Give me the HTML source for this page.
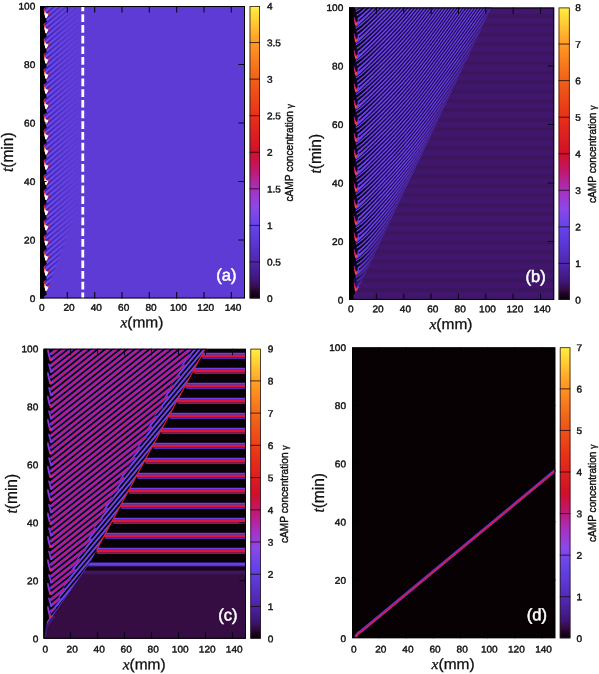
<!DOCTYPE html>
<html><head><meta charset="utf-8"><title>cAMP concentration space-time plots</title>
<style>
html,body{margin:0;padding:0;background:#fff}
svg{display:block}
text{font-family:"Liberation Sans", Arial, sans-serif;fill:#111;stroke:#111;stroke-width:0.4px}
.tk{font-size:9.6px}
.ax{font-size:15.5px;stroke-width:0.3px}
.it{font-family:"Liberation Serif", "Times New Roman", serif;font-style:italic}
.lt{font-size:16.5px;fill:#fff;stroke:#fff;stroke-width:0.5px}
.cl{font-size:10.8px}
.gm{font-size:9px}
.ax2{font-size:16px;stroke-width:0.3px}
</style></head><body>
<svg width="599" height="674" viewBox="0 0 599 674">
<defs>
<linearGradient id="cb" x1="0" y1="1" x2="0" y2="0"><stop offset="0.00%" stop-color="#060008"/><stop offset="2.00%" stop-color="#1c0424"/><stop offset="3.50%" stop-color="#340a42"/><stop offset="6.25%" stop-color="#3e1678"/><stop offset="12.50%" stop-color="#4e26ac"/><stop offset="18.75%" stop-color="#5a36d2"/><stop offset="25.00%" stop-color="#6444ea"/><stop offset="31.25%" stop-color="#8c48e8"/><stop offset="37.50%" stop-color="#a830c0"/><stop offset="43.75%" stop-color="#c01870"/><stop offset="50.00%" stop-color="#d01028"/><stop offset="62.50%" stop-color="#e83018"/><stop offset="75.00%" stop-color="#f06018"/><stop offset="87.50%" stop-color="#ff9a25"/><stop offset="100.00%" stop-color="#fff040"/></linearGradient>
<clipPath id="cpa"><rect x="40.00" y="6.00" width="205.00" height="292.50"/></clipPath>
<filter id="bl" x="-5%" y="-5%" width="110%" height="110%"><feGaussianBlur stdDeviation="0.45"/></filter>
<filter id="bl2" x="-5%" y="-5%" width="110%" height="110%"><feGaussianBlur stdDeviation="0.7"/></filter>
<pattern id="pa" width="8" height="5.05" patternUnits="userSpaceOnUse" patternTransform="translate(47 1.5) skewY(-40)"><rect width="8" height="2.1" fill="#3e22b0"/><rect y="2.6" width="8" height="1.9" fill="#7152f6"/></pattern>
<linearGradient id="fa" x1="0" x2="1" y1="0" y2="0"><stop offset="0" stop-color="#fff" stop-opacity="1"/><stop offset="0.3" stop-color="#fff" stop-opacity="0.6"/><stop offset="0.7" stop-color="#fff" stop-opacity="0.22"/><stop offset="1" stop-color="#fff" stop-opacity="0"/></linearGradient>
<mask id="ma"><polygon points="45,295.5 45,6.0 80,6.0 80,203.5" fill="url(#fa)"/></mask>
<clipPath id="cpb"><rect x="349.00" y="7.50" width="205.20" height="292.50"/></clipPath>
<pattern id="pb0" width="20" height="9.45" patternUnits="userSpaceOnUse" patternTransform="translate(0 240.7)"><rect width="20" height="9.45" fill="#42186f"/><rect y="0" width="20" height="4.0" fill="#3a125c"/></pattern>
<filter id="bl4" x="-5%" y="-5%" width="110%" height="110%"><feGaussianBlur stdDeviation="1.0"/></filter>
<clipPath id="wb"><polygon points="349.0,296.0 355.0,296.0 492.5,5.5 349.0,5.5"/></clipPath>
<filter id="bl3" x="-5%" y="-5%" width="110%" height="110%"><feGaussianBlur stdDeviation="0.5"/></filter>
<linearGradient id="gb" gradientUnits="userSpaceOnUse" x1="354" x2="384" y1="0" y2="0"><stop offset="0" stop-color="#080214"/><stop offset="1" stop-color="#1f0849"/></linearGradient>
<linearGradient id="fb" gradientUnits="userSpaceOnUse" x1="355.0" y1="294.0" x2="345.97" y2="289.70"><stop offset="0" stop-color="#44208c" stop-opacity="0.85"/><stop offset="0.35" stop-color="#44208c" stop-opacity="0.5"/><stop offset="1" stop-color="#44208c" stop-opacity="0"/></linearGradient>
<clipPath id="cpc"><rect x="43.50" y="348.70" width="202.50" height="290.00"/></clipPath>
<clipPath id="wc"><polygon points="43.5,634.0 43.2,630.0 47.4,624.0 51.6,618.0 55.8,612.0 60.0,606.0 64.2,600.0 68.4,594.0 72.6,588.0 76.8,582.0 81.0,576.0 85.2,570.0 89.4,564.0 92.8,558.0 96.0,552.0 99.3,546.0 102.5,540.0 105.8,534.0 109.0,528.0 112.2,522.0 115.5,516.0 118.7,510.0 122.0,504.0 125.2,498.0 128.4,492.0 131.7,486.0 134.9,480.0 138.2,474.0 141.4,468.0 144.6,462.0 147.9,456.0 151.1,450.0 154.4,444.0 157.6,438.0 160.8,432.0 164.1,426.0 167.3,420.0 170.6,414.0 173.8,408.0 177.0,402.0 180.3,396.0 183.5,390.0 186.8,384.0 190.0,378.0 193.2,372.0 196.5,366.0 199.7,360.0 203.0,354.0 206.2,348.0 208.0,344.7 43.5,344.7"/></clipPath>
<clipPath id="wcb"><polygon points="193.8,342.7 191.6,346.7 189.4,350.7 187.3,354.7 185.1,358.7 183.0,362.7 180.8,366.7 178.6,370.7 176.5,374.7 174.3,378.7 172.2,382.7 170.0,386.7 167.8,390.7 165.7,394.7 163.5,398.7 161.4,402.7 159.2,406.7 157.0,410.7 154.9,414.7 152.7,418.7 150.6,422.7 148.4,426.7 146.2,430.7 144.1,434.7 141.9,438.7 139.8,442.7 137.6,446.7 135.4,450.7 133.3,454.7 131.1,458.7 129.0,462.7 126.8,466.7 124.6,470.7 122.5,474.7 120.3,478.7 118.2,482.7 116.0,486.7 113.8,490.7 111.7,494.7 109.5,498.7 107.4,502.7 105.2,506.7 103.0,510.7 100.9,514.7 98.7,518.7 96.6,522.7 94.4,526.7 92.2,530.7 90.1,534.7 87.9,538.7 85.8,542.7 83.6,546.7 81.4,550.7 79.3,554.7 77.1,558.7 75.0,562.7 73.0,566.7 71.1,570.7 69.2,574.7 67.3,578.7 65.4,582.7 63.5,586.7 61.6,590.7 59.7,594.7 57.7,598.7 55.8,602.7 53.9,606.7 52.0,610.7 50.1,614.7 48.2,618.7 46.3,622.7 44.2,626.7 45.2,626.7 48.0,622.7 50.8,618.7 53.6,614.7 56.4,610.7 59.2,606.7 62.0,602.7 64.8,598.7 67.6,594.7 70.4,590.7 73.2,586.7 76.0,582.7 78.8,578.7 81.6,574.7 84.4,570.7 87.2,566.7 90.0,562.7 92.1,558.7 94.3,554.7 96.4,550.7 98.6,546.7 100.8,542.7 102.9,538.7 105.1,534.7 107.2,530.7 109.4,526.7 111.6,522.7 113.7,518.7 115.9,514.7 118.0,510.7 120.2,506.7 122.4,502.7 124.5,498.7 126.7,494.7 128.8,490.7 131.0,486.7 133.2,482.7 135.3,478.7 137.5,474.7 139.6,470.7 141.8,466.7 144.0,462.7 146.1,458.7 148.3,454.7 150.4,450.7 152.6,446.7 154.8,442.7 156.9,438.7 159.1,434.7 161.2,430.7 163.4,426.7 165.6,422.7 167.7,418.7 169.9,414.7 172.0,410.7 174.2,406.7 176.4,402.7 178.5,398.7 180.7,394.7 182.8,390.7 185.0,386.7 187.2,382.7 189.3,378.7 191.5,374.7 193.6,370.7 195.8,366.7 198.0,362.7 200.1,358.7 202.3,354.7 204.4,350.7 206.6,346.7 208.8,342.7"/></clipPath>
<clipPath id="cpd"><rect x="352.00" y="347.30" width="203.40" height="291.00"/></clipPath>
</defs>
<rect width="599" height="674" fill="#fff"/>
<g clip-path="url(#cpa)">
<rect x="40.0" y="6.0" width="205.0" height="292.5" fill="#5f3bd6"/>
<g filter="url(#bl2)"><rect x="45" y="6.0" width="35" height="292.5" fill="url(#pa)" mask="url(#ma)"/></g>
<g filter="url(#bl)">
<path d="M38.0 1.0L43.9 -6.56L46.0 3.44L46.8 6.54L44.2 8.14L43.9 8.60L46.0 18.60L46.8 21.70L44.2 23.30L43.9 23.76L46.0 33.76L46.8 36.86L44.2 38.46L43.9 38.92L46.0 48.92L46.8 52.02L44.2 53.62L43.9 54.08L46.0 64.08L46.8 67.18L44.2 68.78L43.9 69.24L46.0 79.24L46.8 82.34L44.2 83.94L43.9 84.40L46.0 94.40L46.8 97.50L44.2 99.10L43.9 99.56L46.0 109.56L46.8 112.66L44.2 114.26L43.9 114.72L46.0 124.72L46.8 127.82L44.2 129.42L43.9 129.88L46.0 139.88L46.8 142.98L44.2 144.58L43.9 145.04L46.0 155.04L46.8 158.14L44.2 159.74L43.9 160.20L46.0 170.20L46.8 173.30L44.2 174.90L43.9 175.36L46.0 185.36L46.8 188.46L44.2 190.06L43.9 190.52L46.0 200.52L46.8 203.62L44.2 205.22L43.9 205.68L46.0 215.68L46.8 218.78L44.2 220.38L43.9 220.84L46.0 230.84L46.8 233.94L44.2 235.54L43.9 236.00L46.0 246.00L46.8 249.10L44.2 250.70L43.9 251.16L46.0 261.16L46.8 264.26L44.2 265.86L43.9 266.32L46.0 276.32L46.8 279.42L44.2 281.02L43.9 281.48L46.0 291.48L46.8 294.58L44.2 296.18L43.9 296.64L46.0 306.64L46.8 309.74L44.2 311.34L38.0 303.5Z" fill="#000"/>
<path d="M44.3 9.50L46.1 17.50L48.6 12.90" fill="none" stroke="#c01c58" stroke-width="1.7" stroke-linejoin="round" stroke-linecap="round"/>
<path d="M44.8 11.70L46.1 17.30L47.9 14.10" fill="none" stroke="#ff9a38" stroke-width="1.4" stroke-linejoin="round" stroke-linecap="round"/>
<path d="M45.2 13.50L46.1 17.20L47.2 14.90Z" fill="#fff" stroke="#fff" stroke-width="1.6" stroke-linejoin="round"/>
<path d="M44.3 24.66L46.1 32.66L48.6 28.06" fill="none" stroke="#c01c58" stroke-width="1.7" stroke-linejoin="round" stroke-linecap="round"/>
<path d="M44.8 26.86L46.1 32.46L47.9 29.26" fill="none" stroke="#ff9a38" stroke-width="1.4" stroke-linejoin="round" stroke-linecap="round"/>
<path d="M45.2 28.66L46.1 32.36L47.2 30.06Z" fill="#fff" stroke="#fff" stroke-width="1.6" stroke-linejoin="round"/>
<path d="M44.3 39.82L46.1 47.82L48.6 43.22" fill="none" stroke="#c01c58" stroke-width="1.7" stroke-linejoin="round" stroke-linecap="round"/>
<path d="M44.8 42.02L46.1 47.62L47.9 44.42" fill="none" stroke="#ff9a38" stroke-width="1.4" stroke-linejoin="round" stroke-linecap="round"/>
<path d="M45.2 43.82L46.1 47.52L47.2 45.22Z" fill="#fff" stroke="#fff" stroke-width="1.6" stroke-linejoin="round"/>
<path d="M44.3 54.98L46.1 62.98L48.6 58.38" fill="none" stroke="#c01c58" stroke-width="1.7" stroke-linejoin="round" stroke-linecap="round"/>
<path d="M44.8 57.18L46.1 62.78L47.9 59.58" fill="none" stroke="#ff9a38" stroke-width="1.4" stroke-linejoin="round" stroke-linecap="round"/>
<path d="M45.2 58.98L46.1 62.68L47.2 60.38Z" fill="#fff" stroke="#fff" stroke-width="1.6" stroke-linejoin="round"/>
<path d="M44.3 70.14L46.1 78.14L48.6 73.54" fill="none" stroke="#c01c58" stroke-width="1.7" stroke-linejoin="round" stroke-linecap="round"/>
<path d="M44.8 72.34L46.1 77.94L47.9 74.74" fill="none" stroke="#ff9a38" stroke-width="1.4" stroke-linejoin="round" stroke-linecap="round"/>
<path d="M45.2 74.14L46.1 77.84L47.2 75.54Z" fill="#fff" stroke="#fff" stroke-width="1.6" stroke-linejoin="round"/>
<path d="M44.3 85.30L46.1 93.30L48.6 88.70" fill="none" stroke="#c01c58" stroke-width="1.7" stroke-linejoin="round" stroke-linecap="round"/>
<path d="M44.8 87.50L46.1 93.10L47.9 89.90" fill="none" stroke="#ff9a38" stroke-width="1.4" stroke-linejoin="round" stroke-linecap="round"/>
<path d="M45.2 89.30L46.1 93.00L47.2 90.70Z" fill="#fff" stroke="#fff" stroke-width="1.6" stroke-linejoin="round"/>
<path d="M44.3 100.46L46.1 108.46L48.6 103.86" fill="none" stroke="#c01c58" stroke-width="1.7" stroke-linejoin="round" stroke-linecap="round"/>
<path d="M44.8 102.66L46.1 108.26L47.9 105.06" fill="none" stroke="#ff9a38" stroke-width="1.4" stroke-linejoin="round" stroke-linecap="round"/>
<path d="M45.2 104.46L46.1 108.16L47.2 105.86Z" fill="#fff" stroke="#fff" stroke-width="1.6" stroke-linejoin="round"/>
<path d="M44.3 115.62L46.1 123.62L48.6 119.02" fill="none" stroke="#c01c58" stroke-width="1.7" stroke-linejoin="round" stroke-linecap="round"/>
<path d="M44.8 117.82L46.1 123.42L47.9 120.22" fill="none" stroke="#ff9a38" stroke-width="1.4" stroke-linejoin="round" stroke-linecap="round"/>
<path d="M45.2 119.62L46.1 123.32L47.2 121.02Z" fill="#fff" stroke="#fff" stroke-width="1.6" stroke-linejoin="round"/>
<path d="M44.3 130.78L46.1 138.78L48.6 134.18" fill="none" stroke="#c01c58" stroke-width="1.7" stroke-linejoin="round" stroke-linecap="round"/>
<path d="M44.8 132.98L46.1 138.58L47.9 135.38" fill="none" stroke="#ff9a38" stroke-width="1.4" stroke-linejoin="round" stroke-linecap="round"/>
<path d="M45.2 134.78L46.1 138.48L47.2 136.18Z" fill="#fff" stroke="#fff" stroke-width="1.6" stroke-linejoin="round"/>
<path d="M44.3 145.94L46.1 153.94L48.6 149.34" fill="none" stroke="#c01c58" stroke-width="1.7" stroke-linejoin="round" stroke-linecap="round"/>
<path d="M44.8 148.14L46.1 153.74L47.9 150.54" fill="none" stroke="#ff9a38" stroke-width="1.4" stroke-linejoin="round" stroke-linecap="round"/>
<path d="M45.2 149.94L46.1 153.64L47.2 151.34Z" fill="#fff" stroke="#fff" stroke-width="1.6" stroke-linejoin="round"/>
<path d="M44.3 161.10L46.1 169.10L48.6 164.50" fill="none" stroke="#c01c58" stroke-width="1.7" stroke-linejoin="round" stroke-linecap="round"/>
<path d="M44.8 163.30L46.1 168.90L47.9 165.70" fill="none" stroke="#ff9a38" stroke-width="1.4" stroke-linejoin="round" stroke-linecap="round"/>
<path d="M45.2 165.10L46.1 168.80L47.2 166.50Z" fill="#fff" stroke="#fff" stroke-width="1.6" stroke-linejoin="round"/>
<path d="M44.3 176.26L46.1 184.26L48.6 179.66" fill="none" stroke="#c01c58" stroke-width="1.7" stroke-linejoin="round" stroke-linecap="round"/>
<path d="M44.8 178.46L46.1 184.06L47.9 180.86" fill="none" stroke="#ff9a38" stroke-width="1.4" stroke-linejoin="round" stroke-linecap="round"/>
<path d="M45.2 180.26L46.1 183.96L47.2 181.66Z" fill="#fff" stroke="#fff" stroke-width="1.6" stroke-linejoin="round"/>
<path d="M44.3 191.42L46.1 199.42L48.6 194.82" fill="none" stroke="#c01c58" stroke-width="1.7" stroke-linejoin="round" stroke-linecap="round"/>
<path d="M44.8 193.62L46.1 199.22L47.9 196.02" fill="none" stroke="#ff9a38" stroke-width="1.4" stroke-linejoin="round" stroke-linecap="round"/>
<path d="M45.2 195.42L46.1 199.12L47.2 196.82Z" fill="#fff" stroke="#fff" stroke-width="1.6" stroke-linejoin="round"/>
<path d="M44.3 206.58L46.1 214.58L48.6 209.98" fill="none" stroke="#c01c58" stroke-width="1.7" stroke-linejoin="round" stroke-linecap="round"/>
<path d="M44.8 208.78L46.1 214.38L47.9 211.18" fill="none" stroke="#ff9a38" stroke-width="1.4" stroke-linejoin="round" stroke-linecap="round"/>
<path d="M45.2 210.58L46.1 214.28L47.2 211.98Z" fill="#fff" stroke="#fff" stroke-width="1.6" stroke-linejoin="round"/>
<path d="M44.3 221.74L46.1 229.74L48.6 225.14" fill="none" stroke="#c01c58" stroke-width="1.7" stroke-linejoin="round" stroke-linecap="round"/>
<path d="M44.8 223.94L46.1 229.54L47.9 226.34" fill="none" stroke="#ff9a38" stroke-width="1.4" stroke-linejoin="round" stroke-linecap="round"/>
<path d="M45.2 225.74L46.1 229.44L47.2 227.14Z" fill="#fff" stroke="#fff" stroke-width="1.6" stroke-linejoin="round"/>
<path d="M44.3 236.90L46.1 244.90L48.6 240.30" fill="none" stroke="#c01c58" stroke-width="1.7" stroke-linejoin="round" stroke-linecap="round"/>
<path d="M44.8 239.10L46.1 244.70L47.9 241.50" fill="none" stroke="#ff9a38" stroke-width="1.4" stroke-linejoin="round" stroke-linecap="round"/>
<path d="M45.2 240.90L46.1 244.60L47.2 242.30Z" fill="#fff" stroke="#fff" stroke-width="1.6" stroke-linejoin="round"/>
<path d="M44.3 252.06L46.1 260.06L48.6 255.46" fill="none" stroke="#c01c58" stroke-width="1.7" stroke-linejoin="round" stroke-linecap="round"/>
<path d="M44.8 254.26L46.1 259.86L47.9 256.66" fill="none" stroke="#ff9a38" stroke-width="1.4" stroke-linejoin="round" stroke-linecap="round"/>
<path d="M45.2 256.06L46.1 259.76L47.2 257.46Z" fill="#fff" stroke="#fff" stroke-width="1.6" stroke-linejoin="round"/>
<path d="M44.3 267.22L46.1 275.22L48.6 270.62" fill="none" stroke="#c01c58" stroke-width="1.7" stroke-linejoin="round" stroke-linecap="round"/>
<path d="M44.8 269.42L46.1 275.02L47.9 271.82" fill="none" stroke="#ff9a38" stroke-width="1.4" stroke-linejoin="round" stroke-linecap="round"/>
<path d="M45.2 271.22L46.1 274.92L47.2 272.62Z" fill="#fff" stroke="#fff" stroke-width="1.6" stroke-linejoin="round"/>
<path d="M44.3 282.38L46.1 290.38L48.6 285.78" fill="none" stroke="#c01c58" stroke-width="1.7" stroke-linejoin="round" stroke-linecap="round"/>
<path d="M44.8 284.58L46.1 290.18L47.9 286.98" fill="none" stroke="#ff9a38" stroke-width="1.4" stroke-linejoin="round" stroke-linecap="round"/>
<path d="M45.2 286.38L46.1 290.08L47.2 287.78Z" fill="#fff" stroke="#fff" stroke-width="1.6" stroke-linejoin="round"/>
</g>
</g>
<path d="M82.8 1.8V11.3" stroke="#fff" stroke-width="2.8" fill="none"/><path d="M82.8 14.3V300.2" stroke="#fff" stroke-width="2.8" stroke-dasharray="7.7 3" fill="none"/>
<rect x="40.50" y="6.50" width="204.00" height="291.50" fill="none" stroke="#000" stroke-width="1"/>
<path d="M67.33 298.50v-6.6M67.33 6.00v6.6M94.67 298.50v-6.6M94.67 6.00v6.6M122.00 298.50v-6.6M122.00 6.00v6.6M149.33 298.50v-6.6M149.33 6.00v6.6M176.67 298.50v-6.6M176.67 6.00v6.6M204.00 298.50v-6.6M204.00 6.00v6.6M231.33 298.50v-6.6M231.33 6.00v6.6M40.00 240.00h6.6M245.00 240.00h-6.6M40.00 181.50h6.6M245.00 181.50h-6.6M40.00 123.00h6.6M245.00 123.00h-6.6M40.00 64.50h6.6M245.00 64.50h-6.6" stroke="#0a0418" stroke-width="1.1" fill="none"/>
<text transform="translate(41.70 310.80) rotate(0.03) scale(1.05 1)" text-anchor="middle" class="tk">0</text>
<text transform="translate(69.03 310.80) rotate(0.03) scale(1.05 1)" text-anchor="middle" class="tk">20</text>
<text transform="translate(96.37 310.80) rotate(0.03) scale(1.05 1)" text-anchor="middle" class="tk">40</text>
<text transform="translate(123.70 310.80) rotate(0.03) scale(1.05 1)" text-anchor="middle" class="tk">60</text>
<text transform="translate(151.03 310.80) rotate(0.03) scale(1.05 1)" text-anchor="middle" class="tk">80</text>
<text transform="translate(178.37 310.80) rotate(0.03) scale(1.05 1)" text-anchor="middle" class="tk">100</text>
<text transform="translate(205.70 310.80) rotate(0.03) scale(1.05 1)" text-anchor="middle" class="tk">120</text>
<text transform="translate(233.03 310.80) rotate(0.03) scale(1.05 1)" text-anchor="middle" class="tk">140</text>
<text transform="translate(35.30 302.10) rotate(0.03) scale(1.05 1)" text-anchor="end" class="tk">0</text>
<text transform="translate(35.30 243.60) rotate(0.03) scale(1.05 1)" text-anchor="end" class="tk">20</text>
<text transform="translate(35.30 185.10) rotate(0.03) scale(1.05 1)" text-anchor="end" class="tk">40</text>
<text transform="translate(35.30 126.60) rotate(0.03) scale(1.05 1)" text-anchor="end" class="tk">60</text>
<text transform="translate(35.30 68.10) rotate(0.03) scale(1.05 1)" text-anchor="end" class="tk">80</text>
<text transform="translate(35.30 9.60) rotate(0.03) scale(1.05 1)" text-anchor="end" class="tk">100</text>
<text transform="translate(141.90 327.20) rotate(0.03) scale(1 0.95)" text-anchor="middle" class="ax"><tspan class="it">x</tspan>(mm)</text>
<text transform="translate(13.00 152.25) scale(1.03 0.97) rotate(-90)" text-anchor="middle" class="ax2"><tspan class="it">t</tspan>(min)</text>
<text transform="translate(236.50 280.40) rotate(0.03)" text-anchor="end" class="lt">(a)</text>
<rect x="249.60" y="6.00" width="10.40" height="292.50" fill="url(#cb)"/>
<rect x="250.00" y="6.40" width="9.60" height="291.70" fill="none" stroke="#2a1a20" stroke-width="0.8"/>
<text transform="translate(266.90 302.10) rotate(0.03) scale(1.05 1)" class="tk">0</text>
<text transform="translate(266.90 265.54) rotate(0.03) scale(1.05 1)" class="tk">0.5</text>
<text transform="translate(266.90 228.97) rotate(0.03) scale(1.05 1)" class="tk">1</text>
<text transform="translate(266.90 192.41) rotate(0.03) scale(1.05 1)" class="tk">1.5</text>
<text transform="translate(266.90 155.85) rotate(0.03) scale(1.05 1)" class="tk">2</text>
<text transform="translate(266.90 119.29) rotate(0.03) scale(1.05 1)" class="tk">2.5</text>
<text transform="translate(266.90 82.72) rotate(0.03) scale(1.05 1)" class="tk">3</text>
<text transform="translate(266.90 46.16) rotate(0.03) scale(1.05 1)" class="tk">3.5</text>
<text transform="translate(266.90 9.60) rotate(0.03) scale(1.05 1)" class="tk">4</text>
<path d="M249.60 261.94H260.00M249.60 225.38H260.00M249.60 188.81H260.00M249.60 152.25H260.00M249.60 115.69H260.00M249.60 79.12H260.00M249.60 42.56H260.00" stroke="#1a0a10" stroke-width="0.8" fill="none"/>
<text transform="translate(292.60 152.75) scale(1.06 0.94) rotate(-90)" text-anchor="middle" class="cl">cAMP concentration <tspan class="gm">γ</tspan></text>
<g clip-path="url(#cpb)">
<g filter="url(#bl4)"><rect x="346.0" y="4.5" width="211.20000000000005" height="298.5" fill="url(#pb0)"/></g>
<g clip-path="url(#wb)"><g filter="url(#bl3)">
<rect x="349.0" y="5.5" width="144.5" height="296.5" fill="url(#gb)"/>
<path d="M355.8 6.9L356.7 6.3L357.6 5.7L358.5 5.1L359.4 4.4L360.3 3.6L361.2 2.9L362.1 2.1L363.0 1.3L363.9 0.5L364.8 -0.3L365.7 -1.2L365.7 1.6L364.8 2.5L363.9 3.3L363.0 4.2L362.1 5.1L361.2 5.9L360.3 6.8L359.4 7.6L358.5 8.4L357.6 9.1L356.7 9.7L355.8 10.3ZM357.6 1.6L358.5 0.9L359.4 0.2L360.3 -0.5L360.3 2.0L359.4 2.8L358.5 3.5L357.6 4.2ZM355.8 23.5L356.7 22.9L357.6 22.3L358.5 21.7L359.4 21.0L360.3 20.2L361.2 19.5L362.1 18.7L363.0 17.9L363.9 17.1L364.8 16.3L365.7 15.4L366.6 14.6L367.5 13.7L368.4 12.9L369.3 12.0L370.2 11.2L371.1 10.3L372.0 9.4L372.9 8.5L373.8 7.6L374.7 6.8L375.6 5.9L376.5 5.0L377.4 4.1L378.3 3.2L379.2 2.3L380.1 1.4L381.0 0.5L381.9 -0.4L382.8 -1.3L382.8 0.9L381.9 1.8L381.0 2.8L380.1 3.7L379.2 4.6L378.3 5.5L377.4 6.4L376.5 7.3L375.6 8.2L374.7 9.1L373.8 10.0L372.9 11.0L372.0 11.9L371.1 12.8L370.2 13.7L369.3 14.6L368.4 15.5L367.5 16.4L366.6 17.3L365.7 18.2L364.8 19.1L363.9 19.9L363.0 20.8L362.1 21.7L361.2 22.5L360.3 23.4L359.4 24.2L358.5 25.0L357.6 25.7L356.7 26.3L355.8 26.9ZM357.6 18.2L358.5 17.5L359.4 16.8L360.3 16.1L361.2 15.3L362.1 14.6L363.0 13.8L363.9 12.9L364.8 12.1L365.7 11.3L366.6 10.4L367.5 9.6L368.4 8.7L369.3 7.9L370.2 7.0L371.1 6.1L372.0 5.3L372.9 4.4L373.8 3.5L374.7 2.6L375.6 1.7L376.5 0.8L377.4 -0.1L378.3 -1.0L378.3 1.2L377.4 2.1L376.5 3.0L375.6 3.9L374.7 4.8L373.8 5.7L372.9 6.6L372.0 7.5L371.1 8.4L370.2 9.3L369.3 10.2L368.4 11.0L367.5 11.9L366.6 12.8L365.7 13.6L364.8 14.5L363.9 15.3L363.0 16.2L362.1 17.0L361.2 17.8L360.3 18.6L359.4 19.4L358.5 20.1L357.6 20.8ZM356.7 14.6L357.6 14.0L358.5 13.4L359.4 12.7L360.3 11.9L361.2 11.2L362.1 10.4L363.0 9.6L363.9 8.8L364.8 8.0L365.7 7.1L366.6 6.3L367.5 5.4L368.4 4.6L369.3 3.7L370.2 2.9L371.1 2.0L372.0 1.1L372.9 0.2L373.8 -0.7L373.8 1.4L372.9 2.2L372.0 3.1L371.1 4.0L370.2 4.8L369.3 5.7L368.4 6.5L367.5 7.4L366.6 8.2L365.7 9.0L364.8 9.8L363.9 10.6L363.0 11.4L362.1 12.2L361.2 12.9L360.3 13.6L359.4 14.3L358.5 15.0L357.6 15.6L356.7 16.2ZM355.8 11.0L356.7 10.5L357.6 9.9L358.5 9.2L359.4 8.5L360.3 7.8L361.2 7.0L362.1 6.3L363.0 5.5L363.9 4.6L364.8 3.8L365.7 3.0L366.6 2.1L367.5 1.3L368.4 0.4L369.3 -0.4L370.2 -1.3L370.2 0.6L369.3 1.4L368.4 2.3L367.5 3.1L366.6 3.9L365.7 4.7L364.8 5.5L363.9 6.3L363.0 7.1L362.1 7.8L361.2 8.6L360.3 9.3L359.4 9.9L358.5 10.5L357.6 11.2L356.7 11.8L355.8 12.3ZM355.8 40.1L356.7 39.5L357.6 38.9L358.5 38.3L359.4 37.6L360.3 36.8L361.2 36.1L362.1 35.3L363.0 34.5L363.9 33.7L364.8 32.9L365.7 32.0L366.6 31.2L367.5 30.3L368.4 29.5L369.3 28.6L370.2 27.8L371.1 26.9L372.0 26.0L372.9 25.1L373.8 24.2L374.7 23.4L375.6 22.5L376.5 21.6L377.4 20.7L378.3 19.8L379.2 18.9L380.1 18.0L381.0 17.1L381.9 16.2L382.8 15.3L383.7 14.3L384.6 13.4L385.5 12.5L386.4 11.6L387.3 10.7L388.2 9.7L389.1 8.8L390.0 7.8L390.9 6.9L391.8 6.0L392.7 5.0L393.6 4.0L394.5 3.1L395.4 2.1L396.3 1.1L397.2 0.1L398.1 -0.8L398.1 1.3L397.2 2.3L396.3 3.3L395.4 4.3L394.5 5.3L393.6 6.2L392.7 7.2L391.8 8.1L390.9 9.1L390.0 10.0L389.1 11.0L388.2 11.9L387.3 12.9L386.4 13.8L385.5 14.7L384.6 15.7L383.7 16.6L382.8 17.5L381.9 18.4L381.0 19.4L380.1 20.3L379.2 21.2L378.3 22.1L377.4 23.0L376.5 23.9L375.6 24.8L374.7 25.7L373.8 26.6L372.9 27.6L372.0 28.5L371.1 29.4L370.2 30.3L369.3 31.2L368.4 32.1L367.5 33.0L366.6 33.9L365.7 34.8L364.8 35.7L363.9 36.5L363.0 37.4L362.1 38.3L361.2 39.1L360.3 40.0L359.4 40.8L358.5 41.6L357.6 42.3L356.7 42.9L355.8 43.5ZM357.6 34.8L358.5 34.1L359.4 33.4L360.3 32.7L361.2 31.9L362.1 31.2L363.0 30.4L363.9 29.5L364.8 28.7L365.7 27.9L366.6 27.0L367.5 26.2L368.4 25.3L369.3 24.5L370.2 23.6L371.1 22.7L372.0 21.9L372.9 21.0L373.8 20.1L374.7 19.2L375.6 18.3L376.5 17.4L377.4 16.5L378.3 15.6L379.2 14.7L380.1 13.8L381.0 12.9L381.9 12.0L382.8 11.1L383.7 10.2L384.6 9.3L385.5 8.4L386.4 7.4L387.3 6.5L388.2 5.6L389.1 4.6L390.0 3.7L390.9 2.8L391.8 1.8L392.7 0.8L393.6 -0.1L394.5 -1.1L394.5 1.1L393.6 2.1L392.7 3.0L391.8 4.0L390.9 4.9L390.0 5.9L389.1 6.8L388.2 7.7L387.3 8.7L386.4 9.6L385.5 10.5L384.6 11.5L383.7 12.4L382.8 13.3L381.9 14.2L381.0 15.1L380.1 16.0L379.2 16.9L378.3 17.8L377.4 18.7L376.5 19.6L375.6 20.5L374.7 21.4L373.8 22.3L372.9 23.2L372.0 24.1L371.1 25.0L370.2 25.9L369.3 26.8L368.4 27.6L367.5 28.5L366.6 29.4L365.7 30.2L364.8 31.1L363.9 31.9L363.0 32.8L362.1 33.6L361.2 34.4L360.3 35.2L359.4 36.0L358.5 36.7L357.6 37.4ZM356.7 31.2L357.6 30.6L358.5 30.0L359.4 29.3L360.3 28.5L361.2 27.8L362.1 27.0L363.0 26.2L363.9 25.4L364.8 24.6L365.7 23.7L366.6 22.9L367.5 22.0L368.4 21.2L369.3 20.3L370.2 19.5L371.1 18.6L372.0 17.7L372.9 16.8L373.8 15.9L374.7 15.1L375.6 14.2L376.5 13.3L377.4 12.4L378.3 11.5L379.2 10.6L380.1 9.7L381.0 8.8L381.9 7.9L382.8 7.0L383.7 6.0L384.6 5.1L385.5 4.2L386.4 3.3L387.3 2.4L388.2 1.4L389.1 0.5L390.0 -0.5L390.9 -1.4L390.9 0.7L390.0 1.7L389.1 2.6L388.2 3.5L387.3 4.5L386.4 5.4L385.5 6.3L384.6 7.2L383.7 8.2L382.8 9.1L381.9 10.0L381.0 10.9L380.1 11.8L379.2 12.7L378.3 13.6L377.4 14.4L376.5 15.3L375.6 16.2L374.7 17.1L373.8 18.0L372.9 18.8L372.0 19.7L371.1 20.6L370.2 21.4L369.3 22.3L368.4 23.1L367.5 24.0L366.6 24.8L365.7 25.6L364.8 26.4L363.9 27.2L363.0 28.0L362.1 28.8L361.2 29.5L360.3 30.2L359.4 30.9L358.5 31.6L357.6 32.2L356.7 32.8ZM355.8 27.6L356.7 27.1L357.6 26.5L358.5 25.8L359.4 25.1L360.3 24.4L361.2 23.6L362.1 22.9L363.0 22.1L363.9 21.2L364.8 20.4L365.7 19.6L366.6 18.7L367.5 17.9L368.4 17.0L369.3 16.2L370.2 15.3L371.1 14.4L372.0 13.6L372.9 12.7L373.8 11.8L374.7 10.9L375.6 10.0L376.5 9.1L377.4 8.2L378.3 7.3L379.2 6.4L380.1 5.5L381.0 4.6L381.9 3.7L382.8 2.8L383.7 1.9L384.6 1.0L385.5 0.1L386.4 -0.9L386.4 1.2L385.5 2.2L384.6 3.1L383.7 4.0L382.8 4.9L381.9 5.8L381.0 6.7L380.1 7.6L379.2 8.5L378.3 9.4L377.4 10.3L376.5 11.1L375.6 12.0L374.7 12.9L373.8 13.8L372.9 14.6L372.0 15.5L371.1 16.3L370.2 17.2L369.3 18.0L368.4 18.9L367.5 19.7L366.6 20.5L365.7 21.3L364.8 22.1L363.9 22.9L363.0 23.7L362.1 24.4L361.2 25.2L360.3 25.9L359.4 26.5L358.5 27.1L357.6 27.8L356.7 28.4L355.8 28.9ZM355.8 56.7L356.7 56.1L357.6 55.5L358.5 54.9L359.4 54.2L360.3 53.4L361.2 52.7L362.1 51.9L363.0 51.1L363.9 50.3L364.8 49.5L365.7 48.6L366.6 47.8L367.5 46.9L368.4 46.1L369.3 45.2L370.2 44.4L371.1 43.5L372.0 42.6L372.9 41.7L373.8 40.8L374.7 40.0L375.6 39.1L376.5 38.2L377.4 37.3L378.3 36.4L379.2 35.5L380.1 34.6L381.0 33.7L381.9 32.8L382.8 31.9L383.7 30.9L384.6 30.0L385.5 29.1L386.4 28.2L387.3 27.3L388.2 26.3L389.1 25.4L390.0 24.4L390.9 23.5L391.8 22.6L392.7 21.6L393.6 20.6L394.5 19.7L395.4 18.7L396.3 17.7L397.2 16.7L398.1 15.8L399.0 14.8L399.9 13.8L400.8 12.8L401.7 11.7L402.6 10.7L403.5 9.7L404.4 8.6L405.3 7.6L406.2 6.6L407.1 5.5L408.0 4.4L408.9 3.3L409.8 2.3L410.7 1.2L411.6 0.1L412.5 -1.0L412.5 1.1L411.6 2.2L410.7 3.3L409.8 4.4L408.9 5.5L408.0 6.6L407.1 7.7L406.2 8.7L405.3 9.8L404.4 10.8L403.5 11.8L402.6 12.9L401.7 13.9L400.8 14.9L399.9 15.9L399.0 16.9L398.1 17.9L397.2 18.9L396.3 19.9L395.4 20.9L394.5 21.9L393.6 22.8L392.7 23.8L391.8 24.7L390.9 25.7L390.0 26.6L389.1 27.6L388.2 28.5L387.3 29.5L386.4 30.4L385.5 31.3L384.6 32.3L383.7 33.2L382.8 34.1L381.9 35.0L381.0 36.0L380.1 36.9L379.2 37.8L378.3 38.7L377.4 39.6L376.5 40.5L375.6 41.4L374.7 42.3L373.8 43.2L372.9 44.2L372.0 45.1L371.1 46.0L370.2 46.9L369.3 47.8L368.4 48.7L367.5 49.6L366.6 50.5L365.7 51.4L364.8 52.3L363.9 53.1L363.0 54.0L362.1 54.9L361.2 55.7L360.3 56.6L359.4 57.4L358.5 58.2L357.6 58.9L356.7 59.5L355.8 60.1ZM357.6 51.4L358.5 50.7L359.4 50.0L360.3 49.3L361.2 48.5L362.1 47.8L363.0 47.0L363.9 46.1L364.8 45.3L365.7 44.5L366.6 43.6L367.5 42.8L368.4 41.9L369.3 41.1L370.2 40.2L371.1 39.3L372.0 38.5L372.9 37.6L373.8 36.7L374.7 35.8L375.6 34.9L376.5 34.0L377.4 33.1L378.3 32.2L379.2 31.3L380.1 30.4L381.0 29.5L381.9 28.6L382.8 27.7L383.7 26.8L384.6 25.9L385.5 25.0L386.4 24.0L387.3 23.1L388.2 22.2L389.1 21.2L390.0 20.3L390.9 19.4L391.8 18.4L392.7 17.4L393.6 16.5L394.5 15.5L395.4 14.6L396.3 13.6L397.2 12.6L398.1 11.6L399.0 10.6L399.9 9.6L400.8 8.6L401.7 7.6L402.6 6.6L403.5 5.5L404.4 4.5L405.3 3.5L406.2 2.4L407.1 1.3L408.0 0.3L408.9 -0.8L408.9 1.4L408.0 2.4L407.1 3.5L406.2 4.6L405.3 5.6L404.4 6.7L403.5 7.7L402.6 8.7L401.7 9.7L400.8 10.8L399.9 11.8L399.0 12.8L398.1 13.8L397.2 14.8L396.3 15.7L395.4 16.7L394.5 17.7L393.6 18.7L392.7 19.6L391.8 20.6L390.9 21.5L390.0 22.5L389.1 23.4L388.2 24.3L387.3 25.3L386.4 26.2L385.5 27.1L384.6 28.1L383.7 29.0L382.8 29.9L381.9 30.8L381.0 31.7L380.1 32.6L379.2 33.5L378.3 34.4L377.4 35.3L376.5 36.2L375.6 37.1L374.7 38.0L373.8 38.9L372.9 39.8L372.0 40.7L371.1 41.6L370.2 42.5L369.3 43.4L368.4 44.2L367.5 45.1L366.6 46.0L365.7 46.8L364.8 47.7L363.9 48.5L363.0 49.4L362.1 50.2L361.2 51.0L360.3 51.8L359.4 52.6L358.5 53.3L357.6 54.0ZM356.7 47.8L357.6 47.2L358.5 46.6L359.4 45.9L360.3 45.1L361.2 44.4L362.1 43.6L363.0 42.8L363.9 42.0L364.8 41.2L365.7 40.3L366.6 39.5L367.5 38.6L368.4 37.8L369.3 36.9L370.2 36.1L371.1 35.2L372.0 34.3L372.9 33.4L373.8 32.5L374.7 31.7L375.6 30.8L376.5 29.9L377.4 29.0L378.3 28.1L379.2 27.2L380.1 26.3L381.0 25.4L381.9 24.5L382.8 23.6L383.7 22.6L384.6 21.7L385.5 20.8L386.4 19.9L387.3 19.0L388.2 18.0L389.1 17.1L390.0 16.1L390.9 15.2L391.8 14.3L392.7 13.3L393.6 12.3L394.5 11.4L395.4 10.4L396.3 9.4L397.2 8.4L398.1 7.5L399.0 6.5L399.9 5.5L400.8 4.5L401.7 3.4L402.6 2.4L403.5 1.4L404.4 0.3L405.3 -0.7L405.3 1.4L404.4 2.5L403.5 3.5L402.6 4.6L401.7 5.6L400.8 6.6L399.9 7.6L399.0 8.6L398.1 9.6L397.2 10.6L396.3 11.6L395.4 12.5L394.5 13.5L393.6 14.5L392.7 15.4L391.8 16.4L390.9 17.3L390.0 18.3L389.1 19.2L388.2 20.1L387.3 21.1L386.4 22.0L385.5 22.9L384.6 23.8L383.7 24.8L382.8 25.7L381.9 26.6L381.0 27.5L380.1 28.4L379.2 29.3L378.3 30.2L377.4 31.0L376.5 31.9L375.6 32.8L374.7 33.7L373.8 34.6L372.9 35.4L372.0 36.3L371.1 37.2L370.2 38.0L369.3 38.9L368.4 39.7L367.5 40.6L366.6 41.4L365.7 42.2L364.8 43.0L363.9 43.8L363.0 44.6L362.1 45.4L361.2 46.1L360.3 46.8L359.4 47.5L358.5 48.2L357.6 48.8L356.7 49.4ZM355.8 44.2L356.7 43.7L357.6 43.1L358.5 42.4L359.4 41.7L360.3 41.0L361.2 40.2L362.1 39.5L363.0 38.7L363.9 37.8L364.8 37.0L365.7 36.2L366.6 35.3L367.5 34.5L368.4 33.6L369.3 32.8L370.2 31.9L371.1 31.0L372.0 30.2L372.9 29.3L373.8 28.4L374.7 27.5L375.6 26.6L376.5 25.7L377.4 24.8L378.3 23.9L379.2 23.0L380.1 22.1L381.0 21.2L381.9 20.3L382.8 19.4L383.7 18.5L384.6 17.6L385.5 16.7L386.4 15.7L387.3 14.8L388.2 13.9L389.1 12.9L390.0 12.0L390.9 11.1L391.8 10.1L392.7 9.1L393.6 8.2L394.5 7.2L395.4 6.3L396.3 5.3L397.2 4.3L398.1 3.3L399.0 2.3L399.9 1.3L400.8 0.3L401.7 -0.7L401.7 1.4L400.8 2.4L399.9 3.4L399.0 4.4L398.1 5.4L397.2 6.4L396.3 7.4L395.4 8.4L394.5 9.4L393.6 10.3L392.7 11.3L391.8 12.2L390.9 13.2L390.0 14.1L389.1 15.0L388.2 16.0L387.3 16.9L386.4 17.8L385.5 18.8L384.6 19.7L383.7 20.6L382.8 21.5L381.9 22.4L381.0 23.3L380.1 24.2L379.2 25.1L378.3 26.0L377.4 26.9L376.5 27.7L375.6 28.6L374.7 29.5L373.8 30.4L372.9 31.2L372.0 32.1L371.1 32.9L370.2 33.8L369.3 34.6L368.4 35.5L367.5 36.3L366.6 37.1L365.7 37.9L364.8 38.7L363.9 39.5L363.0 40.3L362.1 41.0L361.2 41.8L360.3 42.5L359.4 43.1L358.5 43.7L357.6 44.4L356.7 45.0L355.8 45.5ZM355.8 73.3L356.7 72.7L357.6 72.1L358.5 71.5L359.4 70.8L360.3 70.0L361.2 69.3L362.1 68.5L363.0 67.7L363.9 66.9L364.8 66.1L365.7 65.2L366.6 64.4L367.5 63.5L368.4 62.7L369.3 61.8L370.2 61.0L371.1 60.1L372.0 59.2L372.9 58.3L373.8 57.4L374.7 56.6L375.6 55.7L376.5 54.8L377.4 53.9L378.3 53.0L379.2 52.1L380.1 51.2L381.0 50.3L381.9 49.4L382.8 48.5L383.7 47.5L384.6 46.6L385.5 45.7L386.4 44.8L387.3 43.9L388.2 42.9L389.1 42.0L390.0 41.0L390.9 40.1L391.8 39.2L392.7 38.2L393.6 37.2L394.5 36.3L395.4 35.3L396.3 34.3L397.2 33.3L398.1 32.4L399.0 31.4L399.9 30.4L400.8 29.4L401.7 28.3L402.6 27.3L403.5 26.3L404.4 25.2L405.3 24.2L406.2 23.2L407.1 22.1L408.0 21.0L408.9 19.9L409.8 18.9L410.7 17.8L411.6 16.7L412.5 15.6L413.4 14.5L414.3 13.3L415.2 12.2L416.1 11.1L417.0 9.9L417.9 8.8L418.8 7.6L419.7 6.5L420.6 5.3L421.5 4.1L422.4 3.0L423.3 1.8L424.2 0.6L425.1 -0.6L425.1 1.5L424.2 2.7L423.3 3.9L422.4 5.1L421.5 6.3L420.6 7.5L419.7 8.6L418.8 9.8L417.9 10.9L417.0 12.1L416.1 13.2L415.2 14.4L414.3 15.5L413.4 16.6L412.5 17.7L411.6 18.8L410.7 19.9L409.8 21.0L408.9 22.1L408.0 23.2L407.1 24.3L406.2 25.3L405.3 26.4L404.4 27.4L403.5 28.4L402.6 29.5L401.7 30.5L400.8 31.5L399.9 32.5L399.0 33.5L398.1 34.5L397.2 35.5L396.3 36.5L395.4 37.5L394.5 38.5L393.6 39.4L392.7 40.4L391.8 41.3L390.9 42.3L390.0 43.2L389.1 44.2L388.2 45.1L387.3 46.1L386.4 47.0L385.5 47.9L384.6 48.9L383.7 49.8L382.8 50.7L381.9 51.6L381.0 52.6L380.1 53.5L379.2 54.4L378.3 55.3L377.4 56.2L376.5 57.1L375.6 58.0L374.7 58.9L373.8 59.8L372.9 60.8L372.0 61.7L371.1 62.6L370.2 63.5L369.3 64.4L368.4 65.3L367.5 66.2L366.6 67.1L365.7 68.0L364.8 68.9L363.9 69.7L363.0 70.6L362.1 71.5L361.2 72.3L360.3 73.2L359.4 74.0L358.5 74.8L357.6 75.5L356.7 76.1L355.8 76.7ZM357.6 68.0L358.5 67.3L359.4 66.6L360.3 65.9L361.2 65.1L362.1 64.4L363.0 63.6L363.9 62.7L364.8 61.9L365.7 61.1L366.6 60.2L367.5 59.4L368.4 58.5L369.3 57.7L370.2 56.8L371.1 55.9L372.0 55.1L372.9 54.2L373.8 53.3L374.7 52.4L375.6 51.5L376.5 50.6L377.4 49.7L378.3 48.8L379.2 47.9L380.1 47.0L381.0 46.1L381.9 45.2L382.8 44.3L383.7 43.4L384.6 42.5L385.5 41.6L386.4 40.6L387.3 39.7L388.2 38.8L389.1 37.8L390.0 36.9L390.9 36.0L391.8 35.0L392.7 34.0L393.6 33.1L394.5 32.1L395.4 31.2L396.3 30.2L397.2 29.2L398.1 28.2L399.0 27.2L399.9 26.2L400.8 25.2L401.7 24.2L402.6 23.2L403.5 22.1L404.4 21.1L405.3 20.1L406.2 19.0L407.1 17.9L408.0 16.9L408.9 15.8L409.8 14.7L410.7 13.6L411.6 12.5L412.5 11.4L413.4 10.3L414.3 9.2L415.2 8.1L416.1 6.9L417.0 5.8L417.9 4.6L418.8 3.5L419.7 2.3L420.6 1.2L421.5 -0.0L422.4 -1.2L422.4 1.0L421.5 2.1L420.6 3.3L419.7 4.5L418.8 5.6L417.9 6.8L417.0 7.9L416.1 9.1L415.2 10.2L414.3 11.3L413.4 12.5L412.5 13.6L411.6 14.7L410.7 15.8L409.8 16.9L408.9 18.0L408.0 19.0L407.1 20.1L406.2 21.2L405.3 22.2L404.4 23.3L403.5 24.3L402.6 25.3L401.7 26.3L400.8 27.4L399.9 28.4L399.0 29.4L398.1 30.4L397.2 31.4L396.3 32.3L395.4 33.3L394.5 34.3L393.6 35.3L392.7 36.2L391.8 37.2L390.9 38.1L390.0 39.1L389.1 40.0L388.2 40.9L387.3 41.9L386.4 42.8L385.5 43.7L384.6 44.7L383.7 45.6L382.8 46.5L381.9 47.4L381.0 48.3L380.1 49.2L379.2 50.1L378.3 51.0L377.4 51.9L376.5 52.8L375.6 53.7L374.7 54.6L373.8 55.5L372.9 56.4L372.0 57.3L371.1 58.2L370.2 59.1L369.3 60.0L368.4 60.8L367.5 61.7L366.6 62.6L365.7 63.4L364.8 64.3L363.9 65.1L363.0 66.0L362.1 66.8L361.2 67.6L360.3 68.4L359.4 69.2L358.5 69.9L357.6 70.6ZM356.7 64.4L357.6 63.8L358.5 63.2L359.4 62.5L360.3 61.7L361.2 61.0L362.1 60.2L363.0 59.4L363.9 58.6L364.8 57.8L365.7 56.9L366.6 56.1L367.5 55.2L368.4 54.4L369.3 53.5L370.2 52.7L371.1 51.8L372.0 50.9L372.9 50.0L373.8 49.1L374.7 48.3L375.6 47.4L376.5 46.5L377.4 45.6L378.3 44.7L379.2 43.8L380.1 42.9L381.0 42.0L381.9 41.1L382.8 40.2L383.7 39.2L384.6 38.3L385.5 37.4L386.4 36.5L387.3 35.6L388.2 34.6L389.1 33.7L390.0 32.7L390.9 31.8L391.8 30.9L392.7 29.9L393.6 28.9L394.5 28.0L395.4 27.0L396.3 26.0L397.2 25.0L398.1 24.1L399.0 23.1L399.9 22.1L400.8 21.1L401.7 20.0L402.6 19.0L403.5 18.0L404.4 16.9L405.3 15.9L406.2 14.9L407.1 13.8L408.0 12.7L408.9 11.6L409.8 10.6L410.7 9.5L411.6 8.4L412.5 7.3L413.4 6.2L414.3 5.0L415.2 3.9L416.1 2.8L417.0 1.6L417.9 0.5L418.8 -0.7L418.8 1.5L417.9 2.6L417.0 3.8L416.1 4.9L415.2 6.1L414.3 7.2L413.4 8.3L412.5 9.4L411.6 10.5L410.7 11.6L409.8 12.7L408.9 13.8L408.0 14.9L407.1 15.9L406.2 17.0L405.3 18.0L404.4 19.1L403.5 20.1L402.6 21.2L401.7 22.2L400.8 23.2L399.9 24.2L399.0 25.2L398.1 26.2L397.2 27.2L396.3 28.2L395.4 29.1L394.5 30.1L393.6 31.1L392.7 32.0L391.8 33.0L390.9 33.9L390.0 34.9L389.1 35.8L388.2 36.7L387.3 37.7L386.4 38.6L385.5 39.5L384.6 40.4L383.7 41.4L382.8 42.3L381.9 43.2L381.0 44.1L380.1 45.0L379.2 45.9L378.3 46.8L377.4 47.6L376.5 48.5L375.6 49.4L374.7 50.3L373.8 51.2L372.9 52.0L372.0 52.9L371.1 53.8L370.2 54.6L369.3 55.5L368.4 56.3L367.5 57.2L366.6 58.0L365.7 58.8L364.8 59.6L363.9 60.4L363.0 61.2L362.1 62.0L361.2 62.7L360.3 63.4L359.4 64.1L358.5 64.8L357.6 65.4L356.7 66.0ZM355.8 60.8L356.7 60.3L357.6 59.7L358.5 59.0L359.4 58.3L360.3 57.6L361.2 56.8L362.1 56.1L363.0 55.3L363.9 54.4L364.8 53.6L365.7 52.8L366.6 51.9L367.5 51.1L368.4 50.2L369.3 49.4L370.2 48.5L371.1 47.6L372.0 46.8L372.9 45.9L373.8 45.0L374.7 44.1L375.6 43.2L376.5 42.3L377.4 41.4L378.3 40.5L379.2 39.6L380.1 38.7L381.0 37.8L381.9 36.9L382.8 36.0L383.7 35.1L384.6 34.2L385.5 33.3L386.4 32.3L387.3 31.4L388.2 30.5L389.1 29.5L390.0 28.6L390.9 27.7L391.8 26.7L392.7 25.7L393.6 24.8L394.5 23.8L395.4 22.9L396.3 21.9L397.2 20.9L398.1 19.9L399.0 18.9L399.9 17.9L400.8 16.9L401.7 15.9L402.6 14.9L403.5 13.8L404.4 12.8L405.3 11.8L406.2 10.7L407.1 9.6L408.0 8.6L408.9 7.5L409.8 6.4L410.7 5.3L411.6 4.2L412.5 3.1L413.4 2.0L414.3 0.9L415.2 -0.2L416.1 -1.4L416.1 0.8L415.2 1.9L414.3 3.0L413.4 4.2L412.5 5.3L411.6 6.4L410.7 7.5L409.8 8.6L408.9 9.6L408.0 10.7L407.1 11.8L406.2 12.8L405.3 13.9L404.4 14.9L403.5 16.0L402.6 17.0L401.7 18.0L400.8 19.0L399.9 20.0L399.0 21.0L398.1 22.0L397.2 23.0L396.3 24.0L395.4 25.0L394.5 26.0L393.6 26.9L392.7 27.9L391.8 28.8L390.9 29.8L390.0 30.7L389.1 31.6L388.2 32.6L387.3 33.5L386.4 34.4L385.5 35.4L384.6 36.3L383.7 37.2L382.8 38.1L381.9 39.0L381.0 39.9L380.1 40.8L379.2 41.7L378.3 42.6L377.4 43.5L376.5 44.3L375.6 45.2L374.7 46.1L373.8 47.0L372.9 47.8L372.0 48.7L371.1 49.5L370.2 50.4L369.3 51.2L368.4 52.1L367.5 52.9L366.6 53.7L365.7 54.5L364.8 55.3L363.9 56.1L363.0 56.9L362.1 57.6L361.2 58.4L360.3 59.1L359.4 59.7L358.5 60.3L357.6 61.0L356.7 61.6L355.8 62.1ZM355.8 89.9L356.7 89.3L357.6 88.7L358.5 88.1L359.4 87.4L360.3 86.6L361.2 85.9L362.1 85.1L363.0 84.3L363.9 83.5L364.8 82.7L365.7 81.8L366.6 81.0L367.5 80.1L368.4 79.3L369.3 78.4L370.2 77.6L371.1 76.7L372.0 75.8L372.9 74.9L373.8 74.0L374.7 73.2L375.6 72.3L376.5 71.4L377.4 70.5L378.3 69.6L379.2 68.7L380.1 67.8L381.0 66.9L381.9 66.0L382.8 65.1L383.7 64.1L384.6 63.2L385.5 62.3L386.4 61.4L387.3 60.5L388.2 59.5L389.1 58.6L390.0 57.6L390.9 56.7L391.8 55.8L392.7 54.8L393.6 53.8L394.5 52.9L395.4 51.9L396.3 50.9L397.2 49.9L398.1 49.0L399.0 48.0L399.9 47.0L400.8 46.0L401.7 44.9L402.6 43.9L403.5 42.9L404.4 41.8L405.3 40.8L406.2 39.8L407.1 38.7L408.0 37.6L408.9 36.5L409.8 35.5L410.7 34.4L411.6 33.3L412.5 32.2L413.4 31.1L414.3 29.9L415.2 28.8L416.1 27.7L417.0 26.5L417.9 25.4L418.8 24.2L419.7 23.1L420.6 21.9L421.5 20.7L422.4 19.6L423.3 18.4L424.2 17.2L425.1 16.0L426.0 14.8L426.9 13.6L427.8 12.4L428.7 11.2L429.6 10.0L430.5 8.7L431.4 7.5L432.3 6.3L433.2 5.1L434.1 3.8L435.0 2.6L435.9 1.3L436.8 0.1L437.7 -1.1L437.7 1.0L436.8 2.3L435.9 3.5L435.0 4.7L434.1 6.0L433.2 7.2L432.3 8.4L431.4 9.7L430.5 10.9L429.6 12.1L428.7 13.3L427.8 14.5L426.9 15.7L426.0 16.9L425.1 18.1L424.2 19.3L423.3 20.5L422.4 21.7L421.5 22.9L420.6 24.1L419.7 25.2L418.8 26.4L417.9 27.5L417.0 28.7L416.1 29.8L415.2 31.0L414.3 32.1L413.4 33.2L412.5 34.3L411.6 35.4L410.7 36.5L409.8 37.6L408.9 38.7L408.0 39.8L407.1 40.9L406.2 41.9L405.3 43.0L404.4 44.0L403.5 45.0L402.6 46.1L401.7 47.1L400.8 48.1L399.9 49.1L399.0 50.1L398.1 51.1L397.2 52.1L396.3 53.1L395.4 54.1L394.5 55.1L393.6 56.0L392.7 57.0L391.8 57.9L390.9 58.9L390.0 59.8L389.1 60.8L388.2 61.7L387.3 62.7L386.4 63.6L385.5 64.5L384.6 65.5L383.7 66.4L382.8 67.3L381.9 68.2L381.0 69.2L380.1 70.1L379.2 71.0L378.3 71.9L377.4 72.8L376.5 73.7L375.6 74.6L374.7 75.5L373.8 76.4L372.9 77.4L372.0 78.3L371.1 79.2L370.2 80.1L369.3 81.0L368.4 81.9L367.5 82.8L366.6 83.7L365.7 84.6L364.8 85.5L363.9 86.3L363.0 87.2L362.1 88.1L361.2 88.9L360.3 89.8L359.4 90.6L358.5 91.4L357.6 92.1L356.7 92.7L355.8 93.3ZM357.6 84.6L358.5 83.9L359.4 83.2L360.3 82.5L361.2 81.7L362.1 81.0L363.0 80.2L363.9 79.3L364.8 78.5L365.7 77.7L366.6 76.8L367.5 76.0L368.4 75.1L369.3 74.3L370.2 73.4L371.1 72.5L372.0 71.7L372.9 70.8L373.8 69.9L374.7 69.0L375.6 68.1L376.5 67.2L377.4 66.3L378.3 65.4L379.2 64.5L380.1 63.6L381.0 62.7L381.9 61.8L382.8 60.9L383.7 60.0L384.6 59.1L385.5 58.2L386.4 57.2L387.3 56.3L388.2 55.4L389.1 54.4L390.0 53.5L390.9 52.6L391.8 51.6L392.7 50.6L393.6 49.7L394.5 48.7L395.4 47.8L396.3 46.8L397.2 45.8L398.1 44.8L399.0 43.8L399.9 42.8L400.8 41.8L401.7 40.8L402.6 39.8L403.5 38.7L404.4 37.7L405.3 36.7L406.2 35.6L407.1 34.5L408.0 33.5L408.9 32.4L409.8 31.3L410.7 30.2L411.6 29.1L412.5 28.0L413.4 26.9L414.3 25.8L415.2 24.7L416.1 23.5L417.0 22.4L417.9 21.2L418.8 20.1L419.7 18.9L420.6 17.8L421.5 16.6L422.4 15.4L423.3 14.2L424.2 13.0L425.1 11.8L426.0 10.6L426.9 9.4L427.8 8.2L428.7 7.0L429.6 5.8L430.5 4.6L431.4 3.4L432.3 2.1L433.2 0.9L434.1 -0.3L435.0 -1.6L435.0 0.6L434.1 1.8L433.2 3.1L432.3 4.3L431.4 5.5L430.5 6.7L429.6 8.0L428.7 9.2L427.8 10.4L426.9 11.6L426.0 12.8L425.1 14.0L424.2 15.2L423.3 16.4L422.4 17.6L421.5 18.7L420.6 19.9L419.7 21.1L418.8 22.2L417.9 23.4L417.0 24.5L416.1 25.7L415.2 26.8L414.3 27.9L413.4 29.1L412.5 30.2L411.6 31.3L410.7 32.4L409.8 33.5L408.9 34.6L408.0 35.6L407.1 36.7L406.2 37.8L405.3 38.8L404.4 39.9L403.5 40.9L402.6 41.9L401.7 42.9L400.8 44.0L399.9 45.0L399.0 46.0L398.1 47.0L397.2 48.0L396.3 48.9L395.4 49.9L394.5 50.9L393.6 51.9L392.7 52.8L391.8 53.8L390.9 54.7L390.0 55.7L389.1 56.6L388.2 57.5L387.3 58.5L386.4 59.4L385.5 60.3L384.6 61.3L383.7 62.2L382.8 63.1L381.9 64.0L381.0 64.9L380.1 65.8L379.2 66.7L378.3 67.6L377.4 68.5L376.5 69.4L375.6 70.3L374.7 71.2L373.8 72.1L372.9 73.0L372.0 73.9L371.1 74.8L370.2 75.7L369.3 76.6L368.4 77.4L367.5 78.3L366.6 79.2L365.7 80.0L364.8 80.9L363.9 81.7L363.0 82.6L362.1 83.4L361.2 84.2L360.3 85.0L359.4 85.8L358.5 86.5L357.6 87.2ZM356.7 81.0L357.6 80.4L358.5 79.8L359.4 79.1L360.3 78.3L361.2 77.6L362.1 76.8L363.0 76.0L363.9 75.2L364.8 74.4L365.7 73.5L366.6 72.7L367.5 71.8L368.4 71.0L369.3 70.1L370.2 69.3L371.1 68.4L372.0 67.5L372.9 66.6L373.8 65.7L374.7 64.9L375.6 64.0L376.5 63.1L377.4 62.2L378.3 61.3L379.2 60.4L380.1 59.5L381.0 58.6L381.9 57.7L382.8 56.8L383.7 55.8L384.6 54.9L385.5 54.0L386.4 53.1L387.3 52.2L388.2 51.2L389.1 50.3L390.0 49.3L390.9 48.4L391.8 47.5L392.7 46.5L393.6 45.5L394.5 44.6L395.4 43.6L396.3 42.6L397.2 41.6L398.1 40.7L399.0 39.7L399.9 38.7L400.8 37.7L401.7 36.6L402.6 35.6L403.5 34.6L404.4 33.5L405.3 32.5L406.2 31.5L407.1 30.4L408.0 29.3L408.9 28.2L409.8 27.2L410.7 26.1L411.6 25.0L412.5 23.9L413.4 22.8L414.3 21.6L415.2 20.5L416.1 19.4L417.0 18.2L417.9 17.1L418.8 15.9L419.7 14.8L420.6 13.6L421.5 12.4L422.4 11.3L423.3 10.1L424.2 8.9L425.1 7.7L426.0 6.5L426.9 5.3L427.8 4.1L428.7 2.9L429.6 1.7L430.5 0.4L431.4 -0.8L431.4 1.4L430.5 2.6L429.6 3.8L428.7 5.0L427.8 6.2L426.9 7.4L426.0 8.6L425.1 9.8L424.2 11.0L423.3 12.2L422.4 13.4L421.5 14.6L420.6 15.8L419.7 16.9L418.8 18.1L417.9 19.2L417.0 20.4L416.1 21.5L415.2 22.7L414.3 23.8L413.4 24.9L412.5 26.0L411.6 27.1L410.7 28.2L409.8 29.3L408.9 30.4L408.0 31.5L407.1 32.5L406.2 33.6L405.3 34.6L404.4 35.7L403.5 36.7L402.6 37.8L401.7 38.8L400.8 39.8L399.9 40.8L399.0 41.8L398.1 42.8L397.2 43.8L396.3 44.8L395.4 45.7L394.5 46.7L393.6 47.7L392.7 48.6L391.8 49.6L390.9 50.5L390.0 51.5L389.1 52.4L388.2 53.3L387.3 54.3L386.4 55.2L385.5 56.1L384.6 57.0L383.7 58.0L382.8 58.9L381.9 59.8L381.0 60.7L380.1 61.6L379.2 62.5L378.3 63.4L377.4 64.2L376.5 65.1L375.6 66.0L374.7 66.9L373.8 67.8L372.9 68.6L372.0 69.5L371.1 70.4L370.2 71.2L369.3 72.1L368.4 72.9L367.5 73.8L366.6 74.6L365.7 75.4L364.8 76.2L363.9 77.0L363.0 77.8L362.1 78.6L361.2 79.3L360.3 80.0L359.4 80.7L358.5 81.4L357.6 82.0L356.7 82.6ZM355.8 77.4L356.7 76.9L357.6 76.3L358.5 75.6L359.4 74.9L360.3 74.2L361.2 73.4L362.1 72.7L363.0 71.9L363.9 71.0L364.8 70.2L365.7 69.4L366.6 68.5L367.5 67.7L368.4 66.8L369.3 66.0L370.2 65.1L371.1 64.2L372.0 63.4L372.9 62.5L373.8 61.6L374.7 60.7L375.6 59.8L376.5 58.9L377.4 58.0L378.3 57.1L379.2 56.2L380.1 55.3L381.0 54.4L381.9 53.5L382.8 52.6L383.7 51.7L384.6 50.8L385.5 49.9L386.4 48.9L387.3 48.0L388.2 47.1L389.1 46.1L390.0 45.2L390.9 44.3L391.8 43.3L392.7 42.3L393.6 41.4L394.5 40.4L395.4 39.5L396.3 38.5L397.2 37.5L398.1 36.5L399.0 35.5L399.9 34.5L400.8 33.5L401.7 32.5L402.6 31.5L403.5 30.4L404.4 29.4L405.3 28.4L406.2 27.3L407.1 26.2L408.0 25.2L408.9 24.1L409.8 23.0L410.7 21.9L411.6 20.8L412.5 19.7L413.4 18.6L414.3 17.5L415.2 16.4L416.1 15.2L417.0 14.1L417.9 12.9L418.8 11.8L419.7 10.6L420.6 9.5L421.5 8.3L422.4 7.1L423.3 5.9L424.2 4.7L425.1 3.5L426.0 2.3L426.9 1.1L427.8 -0.1L428.7 -1.3L428.7 0.9L427.8 2.1L426.9 3.3L426.0 4.5L425.1 5.7L424.2 6.9L423.3 8.1L422.4 9.3L421.5 10.4L420.6 11.6L419.7 12.8L418.8 13.9L417.9 15.1L417.0 16.2L416.1 17.4L415.2 18.5L414.3 19.6L413.4 20.8L412.5 21.9L411.6 23.0L410.7 24.1L409.8 25.2L408.9 26.2L408.0 27.3L407.1 28.4L406.2 29.4L405.3 30.5L404.4 31.5L403.5 32.6L402.6 33.6L401.7 34.6L400.8 35.6L399.9 36.6L399.0 37.6L398.1 38.6L397.2 39.6L396.3 40.6L395.4 41.6L394.5 42.6L393.6 43.5L392.7 44.5L391.8 45.4L390.9 46.4L390.0 47.3L389.1 48.2L388.2 49.2L387.3 50.1L386.4 51.0L385.5 52.0L384.6 52.9L383.7 53.8L382.8 54.7L381.9 55.6L381.0 56.5L380.1 57.4L379.2 58.3L378.3 59.2L377.4 60.1L376.5 60.9L375.6 61.8L374.7 62.7L373.8 63.6L372.9 64.4L372.0 65.3L371.1 66.1L370.2 67.0L369.3 67.8L368.4 68.7L367.5 69.5L366.6 70.3L365.7 71.1L364.8 71.9L363.9 72.7L363.0 73.5L362.1 74.2L361.2 75.0L360.3 75.7L359.4 76.3L358.5 76.9L357.6 77.6L356.7 78.2L355.8 78.7ZM355.8 106.5L356.7 105.9L357.6 105.3L358.5 104.7L359.4 104.0L360.3 103.2L361.2 102.5L362.1 101.7L363.0 100.9L363.9 100.1L364.8 99.3L365.7 98.4L366.6 97.6L367.5 96.7L368.4 95.9L369.3 95.0L370.2 94.2L371.1 93.3L372.0 92.4L372.9 91.5L373.8 90.6L374.7 89.8L375.6 88.9L376.5 88.0L377.4 87.1L378.3 86.2L379.2 85.3L380.1 84.4L381.0 83.5L381.9 82.6L382.8 81.7L383.7 80.7L384.6 79.8L385.5 78.9L386.4 78.0L387.3 77.1L388.2 76.1L389.1 75.2L390.0 74.2L390.9 73.3L391.8 72.4L392.7 71.4L393.6 70.4L394.5 69.5L395.4 68.5L396.3 67.5L397.2 66.5L398.1 65.6L399.0 64.6L399.9 63.6L400.8 62.6L401.7 61.5L402.6 60.5L403.5 59.5L404.4 58.4L405.3 57.4L406.2 56.4L407.1 55.3L408.0 54.2L408.9 53.1L409.8 52.1L410.7 51.0L411.6 49.9L412.5 48.8L413.4 47.7L414.3 46.5L415.2 45.4L416.1 44.3L417.0 43.1L417.9 42.0L418.8 40.8L419.7 39.7L420.6 38.5L421.5 37.3L422.4 36.2L423.3 35.0L424.2 33.8L425.1 32.6L426.0 31.4L426.9 30.2L427.8 29.0L428.7 27.8L429.6 26.6L430.5 25.3L431.4 24.1L432.3 22.9L433.2 21.7L434.1 20.4L435.0 19.2L435.9 17.9L436.8 16.7L437.7 15.5L438.6 14.2L439.5 13.0L440.4 11.7L441.3 10.5L442.2 9.2L443.1 7.9L444.0 6.7L444.9 5.4L445.8 4.2L446.7 2.9L447.6 1.6L448.5 0.4L449.4 -0.9L449.4 1.3L448.5 2.5L447.6 3.8L446.7 5.1L445.8 6.3L444.9 7.6L444.0 8.8L443.1 10.1L442.2 11.4L441.3 12.6L440.4 13.9L439.5 15.1L438.6 16.4L437.7 17.6L436.8 18.9L435.9 20.1L435.0 21.3L434.1 22.6L433.2 23.8L432.3 25.0L431.4 26.3L430.5 27.5L429.6 28.7L428.7 29.9L427.8 31.1L426.9 32.3L426.0 33.5L425.1 34.7L424.2 35.9L423.3 37.1L422.4 38.3L421.5 39.5L420.6 40.7L419.7 41.8L418.8 43.0L417.9 44.1L417.0 45.3L416.1 46.4L415.2 47.6L414.3 48.7L413.4 49.8L412.5 50.9L411.6 52.0L410.7 53.1L409.8 54.2L408.9 55.3L408.0 56.4L407.1 57.5L406.2 58.5L405.3 59.6L404.4 60.6L403.5 61.6L402.6 62.7L401.7 63.7L400.8 64.7L399.9 65.7L399.0 66.7L398.1 67.7L397.2 68.7L396.3 69.7L395.4 70.7L394.5 71.7L393.6 72.6L392.7 73.6L391.8 74.5L390.9 75.5L390.0 76.4L389.1 77.4L388.2 78.3L387.3 79.3L386.4 80.2L385.5 81.1L384.6 82.1L383.7 83.0L382.8 83.9L381.9 84.8L381.0 85.8L380.1 86.7L379.2 87.6L378.3 88.5L377.4 89.4L376.5 90.3L375.6 91.2L374.7 92.1L373.8 93.0L372.9 94.0L372.0 94.9L371.1 95.8L370.2 96.7L369.3 97.6L368.4 98.5L367.5 99.4L366.6 100.3L365.7 101.2L364.8 102.1L363.9 102.9L363.0 103.8L362.1 104.7L361.2 105.5L360.3 106.4L359.4 107.2L358.5 108.0L357.6 108.7L356.7 109.3L355.8 109.9ZM357.6 101.2L358.5 100.5L359.4 99.8L360.3 99.1L361.2 98.3L362.1 97.6L363.0 96.8L363.9 95.9L364.8 95.1L365.7 94.3L366.6 93.4L367.5 92.6L368.4 91.7L369.3 90.9L370.2 90.0L371.1 89.1L372.0 88.3L372.9 87.4L373.8 86.5L374.7 85.6L375.6 84.7L376.5 83.8L377.4 82.9L378.3 82.0L379.2 81.1L380.1 80.2L381.0 79.3L381.9 78.4L382.8 77.5L383.7 76.6L384.6 75.7L385.5 74.8L386.4 73.8L387.3 72.9L388.2 72.0L389.1 71.0L390.0 70.1L390.9 69.2L391.8 68.2L392.7 67.2L393.6 66.3L394.5 65.3L395.4 64.4L396.3 63.4L397.2 62.4L398.1 61.4L399.0 60.4L399.9 59.4L400.8 58.4L401.7 57.4L402.6 56.4L403.5 55.3L404.4 54.3L405.3 53.3L406.2 52.2L407.1 51.1L408.0 50.1L408.9 49.0L409.8 47.9L410.7 46.8L411.6 45.7L412.5 44.6L413.4 43.5L414.3 42.4L415.2 41.3L416.1 40.1L417.0 39.0L417.9 37.8L418.8 36.7L419.7 35.5L420.6 34.4L421.5 33.2L422.4 32.0L423.3 30.8L424.2 29.6L425.1 28.4L426.0 27.2L426.9 26.0L427.8 24.8L428.7 23.6L429.6 22.4L430.5 21.2L431.4 20.0L432.3 18.7L433.2 17.5L434.1 16.3L435.0 15.0L435.9 13.8L436.8 12.6L437.7 11.3L438.6 10.1L439.5 8.8L440.4 7.6L441.3 6.3L442.2 5.1L443.1 3.8L444.0 2.5L444.9 1.3L445.8 0.0L446.7 -1.2L446.7 0.9L445.8 2.2L444.9 3.4L444.0 4.7L443.1 5.9L442.2 7.2L441.3 8.5L440.4 9.7L439.5 11.0L438.6 12.2L437.7 13.5L436.8 14.7L435.9 15.9L435.0 17.2L434.1 18.4L433.2 19.7L432.3 20.9L431.4 22.1L430.5 23.3L429.6 24.6L428.7 25.8L427.8 27.0L426.9 28.2L426.0 29.4L425.1 30.6L424.2 31.8L423.3 33.0L422.4 34.2L421.5 35.3L420.6 36.5L419.7 37.7L418.8 38.8L417.9 40.0L417.0 41.1L416.1 42.3L415.2 43.4L414.3 44.5L413.4 45.7L412.5 46.8L411.6 47.9L410.7 49.0L409.8 50.1L408.9 51.2L408.0 52.2L407.1 53.3L406.2 54.4L405.3 55.4L404.4 56.5L403.5 57.5L402.6 58.5L401.7 59.5L400.8 60.6L399.9 61.6L399.0 62.6L398.1 63.6L397.2 64.6L396.3 65.5L395.4 66.5L394.5 67.5L393.6 68.5L392.7 69.4L391.8 70.4L390.9 71.3L390.0 72.3L389.1 73.2L388.2 74.1L387.3 75.1L386.4 76.0L385.5 76.9L384.6 77.9L383.7 78.8L382.8 79.7L381.9 80.6L381.0 81.5L380.1 82.4L379.2 83.3L378.3 84.2L377.4 85.1L376.5 86.0L375.6 86.9L374.7 87.8L373.8 88.7L372.9 89.6L372.0 90.5L371.1 91.4L370.2 92.3L369.3 93.2L368.4 94.0L367.5 94.9L366.6 95.8L365.7 96.6L364.8 97.5L363.9 98.3L363.0 99.2L362.1 100.0L361.2 100.8L360.3 101.6L359.4 102.4L358.5 103.1L357.6 103.8ZM356.7 97.6L357.6 97.0L358.5 96.4L359.4 95.7L360.3 94.9L361.2 94.2L362.1 93.4L363.0 92.6L363.9 91.8L364.8 91.0L365.7 90.1L366.6 89.3L367.5 88.4L368.4 87.6L369.3 86.7L370.2 85.9L371.1 85.0L372.0 84.1L372.9 83.2L373.8 82.3L374.7 81.5L375.6 80.6L376.5 79.7L377.4 78.8L378.3 77.9L379.2 77.0L380.1 76.1L381.0 75.2L381.9 74.3L382.8 73.4L383.7 72.4L384.6 71.5L385.5 70.6L386.4 69.7L387.3 68.8L388.2 67.8L389.1 66.9L390.0 65.9L390.9 65.0L391.8 64.1L392.7 63.1L393.6 62.1L394.5 61.2L395.4 60.2L396.3 59.2L397.2 58.2L398.1 57.3L399.0 56.3L399.9 55.3L400.8 54.3L401.7 53.2L402.6 52.2L403.5 51.2L404.4 50.1L405.3 49.1L406.2 48.1L407.1 47.0L408.0 45.9L408.9 44.8L409.8 43.8L410.7 42.7L411.6 41.6L412.5 40.5L413.4 39.4L414.3 38.2L415.2 37.1L416.1 36.0L417.0 34.8L417.9 33.7L418.8 32.5L419.7 31.4L420.6 30.2L421.5 29.0L422.4 27.9L423.3 26.7L424.2 25.5L425.1 24.3L426.0 23.1L426.9 21.9L427.8 20.7L428.7 19.5L429.6 18.3L430.5 17.0L431.4 15.8L432.3 14.6L433.2 13.4L434.1 12.1L435.0 10.9L435.9 9.6L436.8 8.4L437.7 7.2L438.6 5.9L439.5 4.7L440.4 3.4L441.3 2.2L442.2 0.9L443.1 -0.4L444.0 -1.6L444.0 0.5L443.1 1.8L442.2 3.1L441.3 4.3L440.4 5.6L439.5 6.8L438.6 8.1L437.7 9.3L436.8 10.6L435.9 11.8L435.0 13.0L434.1 14.3L433.2 15.5L432.3 16.7L431.4 18.0L430.5 19.2L429.6 20.4L428.7 21.6L427.8 22.8L426.9 24.0L426.0 25.2L425.1 26.4L424.2 27.6L423.3 28.8L422.4 30.0L421.5 31.2L420.6 32.4L419.7 33.5L418.8 34.7L417.9 35.8L417.0 37.0L416.1 38.1L415.2 39.3L414.3 40.4L413.4 41.5L412.5 42.6L411.6 43.7L410.7 44.8L409.8 45.9L408.9 47.0L408.0 48.1L407.1 49.1L406.2 50.2L405.3 51.2L404.4 52.3L403.5 53.3L402.6 54.4L401.7 55.4L400.8 56.4L399.9 57.4L399.0 58.4L398.1 59.4L397.2 60.4L396.3 61.4L395.4 62.3L394.5 63.3L393.6 64.3L392.7 65.2L391.8 66.2L390.9 67.1L390.0 68.1L389.1 69.0L388.2 69.9L387.3 70.9L386.4 71.8L385.5 72.7L384.6 73.6L383.7 74.6L382.8 75.5L381.9 76.4L381.0 77.3L380.1 78.2L379.2 79.1L378.3 80.0L377.4 80.8L376.5 81.7L375.6 82.6L374.7 83.5L373.8 84.4L372.9 85.2L372.0 86.1L371.1 87.0L370.2 87.8L369.3 88.7L368.4 89.5L367.5 90.4L366.6 91.2L365.7 92.0L364.8 92.8L363.9 93.6L363.0 94.4L362.1 95.2L361.2 95.9L360.3 96.6L359.4 97.3L358.5 98.0L357.6 98.6L356.7 99.2ZM355.8 94.0L356.7 93.5L357.6 92.9L358.5 92.2L359.4 91.5L360.3 90.8L361.2 90.0L362.1 89.3L363.0 88.5L363.9 87.6L364.8 86.8L365.7 86.0L366.6 85.1L367.5 84.3L368.4 83.4L369.3 82.6L370.2 81.7L371.1 80.8L372.0 80.0L372.9 79.1L373.8 78.2L374.7 77.3L375.6 76.4L376.5 75.5L377.4 74.6L378.3 73.7L379.2 72.8L380.1 71.9L381.0 71.0L381.9 70.1L382.8 69.2L383.7 68.3L384.6 67.4L385.5 66.5L386.4 65.5L387.3 64.6L388.2 63.7L389.1 62.7L390.0 61.8L390.9 60.9L391.8 59.9L392.7 58.9L393.6 58.0L394.5 57.0L395.4 56.1L396.3 55.1L397.2 54.1L398.1 53.1L399.0 52.1L399.9 51.1L400.8 50.1L401.7 49.1L402.6 48.1L403.5 47.0L404.4 46.0L405.3 45.0L406.2 43.9L407.1 42.8L408.0 41.8L408.9 40.7L409.8 39.6L410.7 38.5L411.6 37.4L412.5 36.3L413.4 35.2L414.3 34.1L415.2 33.0L416.1 31.8L417.0 30.7L417.9 29.5L418.8 28.4L419.7 27.2L420.6 26.1L421.5 24.9L422.4 23.7L423.3 22.5L424.2 21.3L425.1 20.1L426.0 18.9L426.9 17.7L427.8 16.5L428.7 15.3L429.6 14.1L430.5 12.9L431.4 11.7L432.3 10.4L433.2 9.2L434.1 8.0L435.0 6.7L435.9 5.5L436.8 4.3L437.7 3.0L438.6 1.8L439.5 0.5L440.4 -0.7L440.4 1.4L439.5 2.7L438.6 3.9L437.7 5.2L436.8 6.4L435.9 7.6L435.0 8.9L434.1 10.1L433.2 11.4L432.3 12.6L431.4 13.8L430.5 15.0L429.6 16.3L428.7 17.5L427.8 18.7L426.9 19.9L426.0 21.1L425.1 22.3L424.2 23.5L423.3 24.7L422.4 25.9L421.5 27.0L420.6 28.2L419.7 29.4L418.8 30.5L417.9 31.7L417.0 32.8L416.1 34.0L415.2 35.1L414.3 36.2L413.4 37.4L412.5 38.5L411.6 39.6L410.7 40.7L409.8 41.8L408.9 42.8L408.0 43.9L407.1 45.0L406.2 46.0L405.3 47.1L404.4 48.1L403.5 49.2L402.6 50.2L401.7 51.2L400.8 52.2L399.9 53.2L399.0 54.2L398.1 55.2L397.2 56.2L396.3 57.2L395.4 58.2L394.5 59.2L393.6 60.1L392.7 61.1L391.8 62.0L390.9 63.0L390.0 63.9L389.1 64.8L388.2 65.8L387.3 66.7L386.4 67.6L385.5 68.6L384.6 69.5L383.7 70.4L382.8 71.3L381.9 72.2L381.0 73.1L380.1 74.0L379.2 74.9L378.3 75.8L377.4 76.7L376.5 77.5L375.6 78.4L374.7 79.3L373.8 80.2L372.9 81.0L372.0 81.9L371.1 82.7L370.2 83.6L369.3 84.4L368.4 85.3L367.5 86.1L366.6 86.9L365.7 87.7L364.8 88.5L363.9 89.3L363.0 90.1L362.1 90.8L361.2 91.6L360.3 92.3L359.4 92.9L358.5 93.5L357.6 94.2L356.7 94.8L355.8 95.3ZM355.8 123.1L356.7 122.5L357.6 121.9L358.5 121.3L359.4 120.6L360.3 119.8L361.2 119.1L362.1 118.3L363.0 117.5L363.9 116.7L364.8 115.9L365.7 115.0L366.6 114.2L367.5 113.3L368.4 112.5L369.3 111.6L370.2 110.8L371.1 109.9L372.0 109.0L372.9 108.1L373.8 107.2L374.7 106.4L375.6 105.5L376.5 104.6L377.4 103.7L378.3 102.8L379.2 101.9L380.1 101.0L381.0 100.1L381.9 99.2L382.8 98.3L383.7 97.3L384.6 96.4L385.5 95.5L386.4 94.6L387.3 93.7L388.2 92.7L389.1 91.8L390.0 90.8L390.9 89.9L391.8 89.0L392.7 88.0L393.6 87.0L394.5 86.1L395.4 85.1L396.3 84.1L397.2 83.1L398.1 82.2L399.0 81.2L399.9 80.2L400.8 79.2L401.7 78.1L402.6 77.1L403.5 76.1L404.4 75.0L405.3 74.0L406.2 73.0L407.1 71.9L408.0 70.8L408.9 69.7L409.8 68.7L410.7 67.6L411.6 66.5L412.5 65.4L413.4 64.3L414.3 63.1L415.2 62.0L416.1 60.9L417.0 59.7L417.9 58.6L418.8 57.4L419.7 56.3L420.6 55.1L421.5 53.9L422.4 52.8L423.3 51.6L424.2 50.4L425.1 49.2L426.0 48.0L426.9 46.8L427.8 45.6L428.7 44.4L429.6 43.2L430.5 41.9L431.4 40.7L432.3 39.5L433.2 38.3L434.1 37.0L435.0 35.8L435.9 34.5L436.8 33.3L437.7 32.1L438.6 30.8L439.5 29.6L440.4 28.3L441.3 27.1L442.2 25.8L443.1 24.5L444.0 23.3L444.9 22.0L445.8 20.8L446.7 19.5L447.6 18.2L448.5 17.0L449.4 15.7L450.3 14.5L451.2 13.2L452.1 11.9L453.0 10.7L453.9 9.4L454.8 8.1L455.7 6.8L456.6 5.6L457.5 4.3L458.4 3.0L459.3 1.8L460.2 0.5L461.1 -0.8L461.1 1.4L460.2 2.6L459.3 3.9L458.4 5.2L457.5 6.5L456.6 7.7L455.7 9.0L454.8 10.3L453.9 11.5L453.0 12.8L452.1 14.1L451.2 15.3L450.3 16.6L449.4 17.9L448.5 19.1L447.6 20.4L446.7 21.7L445.8 22.9L444.9 24.2L444.0 25.4L443.1 26.7L442.2 28.0L441.3 29.2L440.4 30.5L439.5 31.7L438.6 33.0L437.7 34.2L436.8 35.5L435.9 36.7L435.0 37.9L434.1 39.2L433.2 40.4L432.3 41.6L431.4 42.9L430.5 44.1L429.6 45.3L428.7 46.5L427.8 47.7L426.9 48.9L426.0 50.1L425.1 51.3L424.2 52.5L423.3 53.7L422.4 54.9L421.5 56.1L420.6 57.3L419.7 58.4L418.8 59.6L417.9 60.7L417.0 61.9L416.1 63.0L415.2 64.2L414.3 65.3L413.4 66.4L412.5 67.5L411.6 68.6L410.7 69.7L409.8 70.8L408.9 71.9L408.0 73.0L407.1 74.1L406.2 75.1L405.3 76.2L404.4 77.2L403.5 78.2L402.6 79.3L401.7 80.3L400.8 81.3L399.9 82.3L399.0 83.3L398.1 84.3L397.2 85.3L396.3 86.3L395.4 87.3L394.5 88.3L393.6 89.2L392.7 90.2L391.8 91.1L390.9 92.1L390.0 93.0L389.1 94.0L388.2 94.9L387.3 95.9L386.4 96.8L385.5 97.7L384.6 98.7L383.7 99.6L382.8 100.5L381.9 101.4L381.0 102.4L380.1 103.3L379.2 104.2L378.3 105.1L377.4 106.0L376.5 106.9L375.6 107.8L374.7 108.7L373.8 109.6L372.9 110.6L372.0 111.5L371.1 112.4L370.2 113.3L369.3 114.2L368.4 115.1L367.5 116.0L366.6 116.9L365.7 117.8L364.8 118.7L363.9 119.5L363.0 120.4L362.1 121.3L361.2 122.1L360.3 123.0L359.4 123.8L358.5 124.6L357.6 125.3L356.7 125.9L355.8 126.5ZM357.6 117.8L358.5 117.1L359.4 116.4L360.3 115.7L361.2 114.9L362.1 114.2L363.0 113.4L363.9 112.5L364.8 111.7L365.7 110.9L366.6 110.0L367.5 109.2L368.4 108.3L369.3 107.5L370.2 106.6L371.1 105.7L372.0 104.9L372.9 104.0L373.8 103.1L374.7 102.2L375.6 101.3L376.5 100.4L377.4 99.5L378.3 98.6L379.2 97.7L380.1 96.8L381.0 95.9L381.9 95.0L382.8 94.1L383.7 93.2L384.6 92.3L385.5 91.4L386.4 90.4L387.3 89.5L388.2 88.6L389.1 87.6L390.0 86.7L390.9 85.8L391.8 84.8L392.7 83.8L393.6 82.9L394.5 81.9L395.4 81.0L396.3 80.0L397.2 79.0L398.1 78.0L399.0 77.0L399.9 76.0L400.8 75.0L401.7 74.0L402.6 73.0L403.5 71.9L404.4 70.9L405.3 69.9L406.2 68.8L407.1 67.7L408.0 66.7L408.9 65.6L409.8 64.5L410.7 63.4L411.6 62.3L412.5 61.2L413.4 60.1L414.3 59.0L415.2 57.9L416.1 56.7L417.0 55.6L417.9 54.4L418.8 53.3L419.7 52.1L420.6 51.0L421.5 49.8L422.4 48.6L423.3 47.4L424.2 46.2L425.1 45.0L426.0 43.8L426.9 42.6L427.8 41.4L428.7 40.2L429.6 39.0L430.5 37.8L431.4 36.6L432.3 35.3L433.2 34.1L434.1 32.9L435.0 31.6L435.9 30.4L436.8 29.2L437.7 27.9L438.6 26.7L439.5 25.4L440.4 24.2L441.3 22.9L442.2 21.7L443.1 20.4L444.0 19.1L444.9 17.9L445.8 16.6L446.7 15.4L447.6 14.1L448.5 12.8L449.4 11.6L450.3 10.3L451.2 9.0L452.1 7.8L453.0 6.5L453.9 5.2L454.8 4.0L455.7 2.7L456.6 1.4L457.5 0.2L458.4 -1.1L458.4 1.0L457.5 2.3L456.6 3.6L455.7 4.8L454.8 6.1L453.9 7.4L453.0 8.7L452.1 9.9L451.2 11.2L450.3 12.5L449.4 13.7L448.5 15.0L447.6 16.2L446.7 17.5L445.8 18.8L444.9 20.0L444.0 21.3L443.1 22.5L442.2 23.8L441.3 25.1L440.4 26.3L439.5 27.6L438.6 28.8L437.7 30.1L436.8 31.3L435.9 32.5L435.0 33.8L434.1 35.0L433.2 36.3L432.3 37.5L431.4 38.7L430.5 39.9L429.6 41.2L428.7 42.4L427.8 43.6L426.9 44.8L426.0 46.0L425.1 47.2L424.2 48.4L423.3 49.6L422.4 50.8L421.5 51.9L420.6 53.1L419.7 54.3L418.8 55.4L417.9 56.6L417.0 57.7L416.1 58.9L415.2 60.0L414.3 61.1L413.4 62.3L412.5 63.4L411.6 64.5L410.7 65.6L409.8 66.7L408.9 67.8L408.0 68.8L407.1 69.9L406.2 71.0L405.3 72.0L404.4 73.1L403.5 74.1L402.6 75.1L401.7 76.1L400.8 77.2L399.9 78.2L399.0 79.2L398.1 80.2L397.2 81.2L396.3 82.1L395.4 83.1L394.5 84.1L393.6 85.1L392.7 86.0L391.8 87.0L390.9 87.9L390.0 88.9L389.1 89.8L388.2 90.7L387.3 91.7L386.4 92.6L385.5 93.5L384.6 94.5L383.7 95.4L382.8 96.3L381.9 97.2L381.0 98.1L380.1 99.0L379.2 99.9L378.3 100.8L377.4 101.7L376.5 102.6L375.6 103.5L374.7 104.4L373.8 105.3L372.9 106.2L372.0 107.1L371.1 108.0L370.2 108.9L369.3 109.8L368.4 110.6L367.5 111.5L366.6 112.4L365.7 113.2L364.8 114.1L363.9 114.9L363.0 115.8L362.1 116.6L361.2 117.4L360.3 118.2L359.4 119.0L358.5 119.7L357.6 120.4ZM356.7 114.2L357.6 113.6L358.5 113.0L359.4 112.3L360.3 111.5L361.2 110.8L362.1 110.0L363.0 109.2L363.9 108.4L364.8 107.6L365.7 106.7L366.6 105.9L367.5 105.0L368.4 104.2L369.3 103.3L370.2 102.5L371.1 101.6L372.0 100.7L372.9 99.8L373.8 98.9L374.7 98.1L375.6 97.2L376.5 96.3L377.4 95.4L378.3 94.5L379.2 93.6L380.1 92.7L381.0 91.8L381.9 90.9L382.8 90.0L383.7 89.0L384.6 88.1L385.5 87.2L386.4 86.3L387.3 85.4L388.2 84.4L389.1 83.5L390.0 82.5L390.9 81.6L391.8 80.7L392.7 79.7L393.6 78.7L394.5 77.8L395.4 76.8L396.3 75.8L397.2 74.8L398.1 73.9L399.0 72.9L399.9 71.9L400.8 70.9L401.7 69.8L402.6 68.8L403.5 67.8L404.4 66.7L405.3 65.7L406.2 64.7L407.1 63.6L408.0 62.5L408.9 61.4L409.8 60.4L410.7 59.3L411.6 58.2L412.5 57.1L413.4 56.0L414.3 54.8L415.2 53.7L416.1 52.6L417.0 51.4L417.9 50.3L418.8 49.1L419.7 48.0L420.6 46.8L421.5 45.6L422.4 44.5L423.3 43.3L424.2 42.1L425.1 40.9L426.0 39.7L426.9 38.5L427.8 37.3L428.7 36.1L429.6 34.9L430.5 33.6L431.4 32.4L432.3 31.2L433.2 30.0L434.1 28.7L435.0 27.5L435.9 26.2L436.8 25.0L437.7 23.8L438.6 22.5L439.5 21.3L440.4 20.0L441.3 18.8L442.2 17.5L443.1 16.2L444.0 15.0L444.9 13.7L445.8 12.5L446.7 11.2L447.6 9.9L448.5 8.7L449.4 7.4L450.3 6.2L451.2 4.9L452.1 3.6L453.0 2.4L453.9 1.1L454.8 -0.2L455.7 -1.5L455.7 0.7L454.8 2.0L453.9 3.2L453.0 4.5L452.1 5.8L451.2 7.0L450.3 8.3L449.4 9.6L448.5 10.8L447.6 12.1L446.7 13.4L445.8 14.6L444.9 15.9L444.0 17.1L443.1 18.4L442.2 19.7L441.3 20.9L440.4 22.2L439.5 23.4L438.6 24.7L437.7 25.9L436.8 27.2L435.9 28.4L435.0 29.6L434.1 30.9L433.2 32.1L432.3 33.3L431.4 34.6L430.5 35.8L429.6 37.0L428.7 38.2L427.8 39.4L426.9 40.6L426.0 41.8L425.1 43.0L424.2 44.2L423.3 45.4L422.4 46.6L421.5 47.8L420.6 49.0L419.7 50.1L418.8 51.3L417.9 52.4L417.0 53.6L416.1 54.7L415.2 55.9L414.3 57.0L413.4 58.1L412.5 59.2L411.6 60.3L410.7 61.4L409.8 62.5L408.9 63.6L408.0 64.7L407.1 65.7L406.2 66.8L405.3 67.8L404.4 68.9L403.5 69.9L402.6 71.0L401.7 72.0L400.8 73.0L399.9 74.0L399.0 75.0L398.1 76.0L397.2 77.0L396.3 78.0L395.4 78.9L394.5 79.9L393.6 80.9L392.7 81.8L391.8 82.8L390.9 83.7L390.0 84.7L389.1 85.6L388.2 86.5L387.3 87.5L386.4 88.4L385.5 89.3L384.6 90.2L383.7 91.2L382.8 92.1L381.9 93.0L381.0 93.9L380.1 94.8L379.2 95.7L378.3 96.6L377.4 97.4L376.5 98.3L375.6 99.2L374.7 100.1L373.8 101.0L372.9 101.8L372.0 102.7L371.1 103.6L370.2 104.4L369.3 105.3L368.4 106.1L367.5 107.0L366.6 107.8L365.7 108.6L364.8 109.4L363.9 110.2L363.0 111.0L362.1 111.8L361.2 112.5L360.3 113.2L359.4 113.9L358.5 114.6L357.6 115.2L356.7 115.8ZM355.8 110.6L356.7 110.1L357.6 109.5L358.5 108.8L359.4 108.1L360.3 107.4L361.2 106.6L362.1 105.9L363.0 105.1L363.9 104.2L364.8 103.4L365.7 102.6L366.6 101.7L367.5 100.9L368.4 100.0L369.3 99.2L370.2 98.3L371.1 97.4L372.0 96.6L372.9 95.7L373.8 94.8L374.7 93.9L375.6 93.0L376.5 92.1L377.4 91.2L378.3 90.3L379.2 89.4L380.1 88.5L381.0 87.6L381.9 86.7L382.8 85.8L383.7 84.9L384.6 84.0L385.5 83.1L386.4 82.1L387.3 81.2L388.2 80.3L389.1 79.3L390.0 78.4L390.9 77.5L391.8 76.5L392.7 75.5L393.6 74.6L394.5 73.6L395.4 72.7L396.3 71.7L397.2 70.7L398.1 69.7L399.0 68.7L399.9 67.7L400.8 66.7L401.7 65.7L402.6 64.7L403.5 63.6L404.4 62.6L405.3 61.6L406.2 60.5L407.1 59.4L408.0 58.4L408.9 57.3L409.8 56.2L410.7 55.1L411.6 54.0L412.5 52.9L413.4 51.8L414.3 50.7L415.2 49.6L416.1 48.4L417.0 47.3L417.9 46.1L418.8 45.0L419.7 43.8L420.6 42.7L421.5 41.5L422.4 40.3L423.3 39.1L424.2 37.9L425.1 36.7L426.0 35.5L426.9 34.3L427.8 33.1L428.7 31.9L429.6 30.7L430.5 29.5L431.4 28.3L432.3 27.0L433.2 25.8L434.1 24.6L435.0 23.3L435.9 22.1L436.8 20.9L437.7 19.6L438.6 18.4L439.5 17.1L440.4 15.9L441.3 14.6L442.2 13.4L443.1 12.1L444.0 10.8L444.9 9.6L445.8 8.3L446.7 7.1L447.6 5.8L448.5 4.5L449.4 3.3L450.3 2.0L451.2 0.7L452.1 -0.5L452.1 1.6L451.2 2.9L450.3 4.2L449.4 5.4L448.5 6.7L447.6 7.9L446.7 9.2L445.8 10.5L444.9 11.7L444.0 13.0L443.1 14.2L442.2 15.5L441.3 16.8L440.4 18.0L439.5 19.3L438.6 20.5L437.7 21.8L436.8 23.0L435.9 24.2L435.0 25.5L434.1 26.7L433.2 28.0L432.3 29.2L431.4 30.4L430.5 31.6L429.6 32.9L428.7 34.1L427.8 35.3L426.9 36.5L426.0 37.7L425.1 38.9L424.2 40.1L423.3 41.3L422.4 42.5L421.5 43.6L420.6 44.8L419.7 46.0L418.8 47.1L417.9 48.3L417.0 49.4L416.1 50.6L415.2 51.7L414.3 52.8L413.4 54.0L412.5 55.1L411.6 56.2L410.7 57.3L409.8 58.4L408.9 59.4L408.0 60.5L407.1 61.6L406.2 62.6L405.3 63.7L404.4 64.7L403.5 65.8L402.6 66.8L401.7 67.8L400.8 68.8L399.9 69.8L399.0 70.8L398.1 71.8L397.2 72.8L396.3 73.8L395.4 74.8L394.5 75.8L393.6 76.7L392.7 77.7L391.8 78.6L390.9 79.6L390.0 80.5L389.1 81.4L388.2 82.4L387.3 83.3L386.4 84.2L385.5 85.2L384.6 86.1L383.7 87.0L382.8 87.9L381.9 88.8L381.0 89.7L380.1 90.6L379.2 91.5L378.3 92.4L377.4 93.3L376.5 94.1L375.6 95.0L374.7 95.9L373.8 96.8L372.9 97.6L372.0 98.5L371.1 99.3L370.2 100.2L369.3 101.0L368.4 101.9L367.5 102.7L366.6 103.5L365.7 104.3L364.8 105.1L363.9 105.9L363.0 106.7L362.1 107.4L361.2 108.2L360.3 108.9L359.4 109.5L358.5 110.1L357.6 110.8L356.7 111.4L355.8 111.9ZM355.8 139.7L356.7 139.1L357.6 138.5L358.5 137.9L359.4 137.2L360.3 136.4L361.2 135.7L362.1 134.9L363.0 134.1L363.9 133.3L364.8 132.5L365.7 131.6L366.6 130.8L367.5 129.9L368.4 129.1L369.3 128.2L370.2 127.3L371.1 126.5L372.0 125.6L372.9 124.7L373.8 123.8L374.7 122.9L375.6 122.1L376.5 121.2L377.4 120.3L378.3 119.4L379.2 118.5L380.1 117.6L381.0 116.7L381.9 115.8L382.8 114.9L383.7 113.9L384.6 113.0L385.5 112.1L386.4 111.2L387.3 110.2L388.2 109.3L389.1 108.4L390.0 107.4L390.9 106.5L391.8 105.5L392.7 104.6L393.6 103.6L394.5 102.7L395.4 101.7L396.3 100.7L397.2 99.7L398.1 98.8L399.0 97.8L399.9 96.8L400.8 95.7L401.7 94.7L402.6 93.7L403.5 92.7L404.4 91.6L405.3 90.6L406.2 89.5L407.1 88.5L408.0 87.4L408.9 86.3L409.8 85.3L410.7 84.2L411.6 83.1L412.5 82.0L413.4 80.9L414.3 79.7L415.2 78.6L416.1 77.5L417.0 76.3L417.9 75.2L418.8 74.0L419.7 72.9L420.6 71.7L421.5 70.5L422.4 69.4L423.3 68.2L424.2 67.0L425.1 65.8L426.0 64.6L426.9 63.4L427.8 62.2L428.7 61.0L429.6 59.8L430.5 58.5L431.4 57.3L432.3 56.1L433.2 54.8L434.1 53.6L435.0 52.4L435.9 51.1L436.8 49.9L437.7 48.7L438.6 47.4L439.5 46.2L440.4 44.9L441.3 43.7L442.2 42.4L443.1 41.1L444.0 39.9L444.9 38.6L445.8 37.4L446.7 36.1L447.6 34.8L448.5 33.6L449.4 32.3L450.3 31.1L451.2 29.8L452.1 28.5L453.0 27.2L453.9 26.0L454.8 24.7L455.7 23.4L456.6 22.2L457.5 20.9L458.4 19.6L459.3 18.4L460.2 17.1L461.1 15.8L462.0 14.5L462.9 13.3L463.8 12.0L464.7 10.7L465.6 9.4L466.5 8.2L467.4 6.9L468.3 5.6L469.2 4.3L470.1 3.1L471.0 1.8L471.9 0.5L472.8 -0.8L472.8 1.4L471.9 2.7L471.0 3.9L470.1 5.2L469.2 6.5L468.3 7.8L467.4 9.0L466.5 10.3L465.6 11.6L464.7 12.9L463.8 14.1L462.9 15.4L462.0 16.7L461.1 18.0L460.2 19.2L459.3 20.5L458.4 21.8L457.5 23.1L456.6 24.3L455.7 25.6L454.8 26.9L453.9 28.1L453.0 29.4L452.1 30.7L451.2 31.9L450.3 33.2L449.4 34.5L448.5 35.7L447.6 37.0L446.7 38.3L445.8 39.5L444.9 40.8L444.0 42.0L443.1 43.3L442.2 44.6L441.3 45.8L440.4 47.1L439.5 48.3L438.6 49.6L437.7 50.8L436.8 52.0L435.9 53.3L435.0 54.5L434.1 55.8L433.2 57.0L432.3 58.2L431.4 59.5L430.5 60.7L429.6 61.9L428.7 63.1L427.8 64.3L426.9 65.5L426.0 66.7L425.1 67.9L424.2 69.1L423.3 70.3L422.4 71.5L421.5 72.7L420.6 73.9L419.7 75.0L418.8 76.2L417.9 77.3L417.0 78.5L416.1 79.6L415.2 80.8L414.3 81.9L413.4 83.0L412.5 84.1L411.6 85.2L410.7 86.3L409.8 87.4L408.9 88.5L408.0 89.6L407.1 90.6L406.2 91.7L405.3 92.8L404.4 93.8L403.5 94.8L402.6 95.9L401.7 96.9L400.8 97.9L399.9 98.9L399.0 99.9L398.1 100.9L397.2 101.9L396.3 102.9L395.4 103.9L394.5 104.9L393.6 105.8L392.7 106.8L391.8 107.7L390.9 108.7L390.0 109.6L389.1 110.6L388.2 111.5L387.3 112.5L386.4 113.4L385.5 114.3L384.6 115.3L383.7 116.2L382.8 117.1L381.9 118.0L381.0 118.9L380.1 119.9L379.2 120.8L378.3 121.7L377.4 122.6L376.5 123.5L375.6 124.4L374.7 125.3L373.8 126.2L372.9 127.2L372.0 128.1L371.1 129.0L370.2 129.9L369.3 130.8L368.4 131.7L367.5 132.6L366.6 133.5L365.7 134.4L364.8 135.3L363.9 136.1L363.0 137.0L362.1 137.9L361.2 138.7L360.3 139.6L359.4 140.4L358.5 141.2L357.6 141.9L356.7 142.5L355.8 143.1ZM357.6 134.4L358.5 133.7L359.4 133.0L360.3 132.3L361.2 131.5L362.1 130.8L363.0 130.0L363.9 129.1L364.8 128.3L365.7 127.5L366.6 126.6L367.5 125.8L368.4 124.9L369.3 124.1L370.2 123.2L371.1 122.3L372.0 121.5L372.9 120.6L373.8 119.7L374.7 118.8L375.6 117.9L376.5 117.0L377.4 116.1L378.3 115.2L379.2 114.3L380.1 113.4L381.0 112.5L381.9 111.6L382.8 110.7L383.7 109.8L384.6 108.9L385.5 108.0L386.4 107.0L387.3 106.1L388.2 105.2L389.1 104.2L390.0 103.3L390.9 102.3L391.8 101.4L392.7 100.4L393.6 99.5L394.5 98.5L395.4 97.6L396.3 96.6L397.2 95.6L398.1 94.6L399.0 93.6L399.9 92.6L400.8 91.6L401.7 90.6L402.6 89.6L403.5 88.5L404.4 87.5L405.3 86.5L406.2 85.4L407.1 84.3L408.0 83.3L408.9 82.2L409.8 81.1L410.7 80.0L411.6 78.9L412.5 77.8L413.4 76.7L414.3 75.6L415.2 74.5L416.1 73.3L417.0 72.2L417.9 71.0L418.8 69.9L419.7 68.7L420.6 67.6L421.5 66.4L422.4 65.2L423.3 64.0L424.2 62.8L425.1 61.6L426.0 60.4L426.9 59.2L427.8 58.0L428.7 56.8L429.6 55.6L430.5 54.4L431.4 53.2L432.3 51.9L433.2 50.7L434.1 49.5L435.0 48.2L435.9 47.0L436.8 45.7L437.7 44.5L438.6 43.3L439.5 42.0L440.4 40.8L441.3 39.5L442.2 38.3L443.1 37.0L444.0 35.7L444.9 34.5L445.8 33.2L446.7 32.0L447.6 30.7L448.5 29.4L449.4 28.2L450.3 26.9L451.2 25.6L452.1 24.4L453.0 23.1L453.9 21.8L454.8 20.6L455.7 19.3L456.6 18.0L457.5 16.8L458.4 15.5L459.3 14.2L460.2 12.9L461.1 11.7L462.0 10.4L462.9 9.1L463.8 7.8L464.7 6.6L465.6 5.3L466.5 4.0L467.4 2.7L468.3 1.5L469.2 0.2L470.1 -1.1L470.1 1.1L469.2 2.3L468.3 3.6L467.4 4.9L466.5 6.2L465.6 7.4L464.7 8.7L463.8 10.0L462.9 11.3L462.0 12.5L461.1 13.8L460.2 15.1L459.3 16.4L458.4 17.6L457.5 18.9L456.6 20.2L455.7 21.4L454.8 22.7L453.9 24.0L453.0 25.3L452.1 26.5L451.2 27.8L450.3 29.1L449.4 30.3L448.5 31.6L447.6 32.8L446.7 34.1L445.8 35.4L444.9 36.6L444.0 37.9L443.1 39.1L442.2 40.4L441.3 41.7L440.4 42.9L439.5 44.2L438.6 45.4L437.7 46.7L436.8 47.9L435.9 49.1L435.0 50.4L434.1 51.6L433.2 52.9L432.3 54.1L431.4 55.3L430.5 56.5L429.6 57.8L428.7 59.0L427.8 60.2L426.9 61.4L426.0 62.6L425.1 63.8L424.2 65.0L423.3 66.2L422.4 67.4L421.5 68.5L420.6 69.7L419.7 70.9L418.8 72.0L417.9 73.2L417.0 74.3L416.1 75.5L415.2 76.6L414.3 77.7L413.4 78.9L412.5 80.0L411.6 81.1L410.7 82.2L409.8 83.3L408.9 84.4L408.0 85.4L407.1 86.5L406.2 87.6L405.3 88.6L404.4 89.6L403.5 90.7L402.6 91.7L401.7 92.7L400.8 93.8L399.9 94.8L399.0 95.8L398.1 96.8L397.2 97.8L396.3 98.7L395.4 99.7L394.5 100.7L393.6 101.6L392.7 102.6L391.8 103.6L390.9 104.5L390.0 105.5L389.1 106.4L388.2 107.3L387.3 108.3L386.4 109.2L385.5 110.1L384.6 111.1L383.7 112.0L382.8 112.9L381.9 113.8L381.0 114.7L380.1 115.6L379.2 116.5L378.3 117.4L377.4 118.3L376.5 119.2L375.6 120.1L374.7 121.0L373.8 121.9L372.9 122.8L372.0 123.7L371.1 124.6L370.2 125.5L369.3 126.4L368.4 127.2L367.5 128.1L366.6 129.0L365.7 129.8L364.8 130.7L363.9 131.5L363.0 132.4L362.1 133.2L361.2 134.0L360.3 134.8L359.4 135.6L358.5 136.3L357.6 137.0ZM356.7 130.8L357.6 130.2L358.5 129.6L359.4 128.9L360.3 128.1L361.2 127.4L362.1 126.6L363.0 125.8L363.9 125.0L364.8 124.2L365.7 123.3L366.6 122.5L367.5 121.6L368.4 120.8L369.3 119.9L370.2 119.1L371.1 118.2L372.0 117.3L372.9 116.4L373.8 115.5L374.7 114.7L375.6 113.8L376.5 112.9L377.4 112.0L378.3 111.1L379.2 110.2L380.1 109.3L381.0 108.4L381.9 107.5L382.8 106.6L383.7 105.6L384.6 104.7L385.5 103.8L386.4 102.9L387.3 102.0L388.2 101.0L389.1 100.1L390.0 99.1L390.9 98.2L391.8 97.3L392.7 96.3L393.6 95.3L394.5 94.4L395.4 93.4L396.3 92.4L397.2 91.4L398.1 90.5L399.0 89.5L399.9 88.5L400.8 87.4L401.7 86.4L402.6 85.4L403.5 84.4L404.4 83.3L405.3 82.3L406.2 81.3L407.1 80.2L408.0 79.1L408.9 78.0L409.8 77.0L410.7 75.9L411.6 74.8L412.5 73.7L413.4 72.6L414.3 71.4L415.2 70.3L416.1 69.2L417.0 68.0L417.9 66.9L418.8 65.7L419.7 64.6L420.6 63.4L421.5 62.2L422.4 61.1L423.3 59.9L424.2 58.7L425.1 57.5L426.0 56.3L426.9 55.1L427.8 53.9L428.7 52.7L429.6 51.5L430.5 50.2L431.4 49.0L432.3 47.8L433.2 46.6L434.1 45.3L435.0 44.1L435.9 42.8L436.8 41.6L437.7 40.4L438.6 39.1L439.5 37.9L440.4 36.6L441.3 35.4L442.2 34.1L443.1 32.8L444.0 31.6L444.9 30.3L445.8 29.1L446.7 27.8L447.6 26.5L448.5 25.3L449.4 24.0L450.3 22.8L451.2 21.5L452.1 20.2L453.0 19.0L453.9 17.7L454.8 16.4L455.7 15.1L456.6 13.9L457.5 12.6L458.4 11.3L459.3 10.1L460.2 8.8L461.1 7.5L462.0 6.2L462.9 5.0L463.8 3.7L464.7 2.4L465.6 1.1L466.5 -0.1L467.4 -1.4L467.4 0.7L466.5 2.0L465.6 3.3L464.7 4.6L463.8 5.8L462.9 7.1L462.0 8.4L461.1 9.7L460.2 10.9L459.3 12.2L458.4 13.5L457.5 14.8L456.6 16.0L455.7 17.3L454.8 18.6L453.9 19.8L453.0 21.1L452.1 22.4L451.2 23.6L450.3 24.9L449.4 26.2L448.5 27.4L447.6 28.7L446.7 30.0L445.8 31.2L444.9 32.5L444.0 33.7L443.1 35.0L442.2 36.3L441.3 37.5L440.4 38.8L439.5 40.0L438.6 41.3L437.7 42.5L436.8 43.7L435.9 45.0L435.0 46.2L434.1 47.5L433.2 48.7L432.3 49.9L431.4 51.2L430.5 52.4L429.6 53.6L428.7 54.8L427.8 56.0L426.9 57.2L426.0 58.4L425.1 59.6L424.2 60.8L423.3 62.0L422.4 63.2L421.5 64.4L420.6 65.6L419.7 66.7L418.8 67.9L417.9 69.0L417.0 70.2L416.1 71.3L415.2 72.5L414.3 73.6L413.4 74.7L412.5 75.8L411.6 76.9L410.7 78.0L409.8 79.1L408.9 80.2L408.0 81.3L407.1 82.3L406.2 83.4L405.3 84.4L404.4 85.5L403.5 86.5L402.6 87.6L401.7 88.6L400.8 89.6L399.9 90.6L399.0 91.6L398.1 92.6L397.2 93.6L396.3 94.6L395.4 95.5L394.5 96.5L393.6 97.5L392.7 98.4L391.8 99.4L390.9 100.3L390.0 101.3L389.1 102.2L388.2 103.1L387.3 104.1L386.4 105.0L385.5 105.9L384.6 106.8L383.7 107.8L382.8 108.7L381.9 109.6L381.0 110.5L380.1 111.4L379.2 112.3L378.3 113.2L377.4 114.0L376.5 114.9L375.6 115.8L374.7 116.7L373.8 117.6L372.9 118.4L372.0 119.3L371.1 120.2L370.2 121.0L369.3 121.9L368.4 122.7L367.5 123.6L366.6 124.4L365.7 125.2L364.8 126.0L363.9 126.8L363.0 127.6L362.1 128.4L361.2 129.1L360.3 129.8L359.4 130.5L358.5 131.2L357.6 131.8L356.7 132.4ZM355.8 127.2L356.7 126.7L357.6 126.1L358.5 125.4L359.4 124.7L360.3 124.0L361.2 123.2L362.1 122.5L363.0 121.7L363.9 120.8L364.8 120.0L365.7 119.2L366.6 118.3L367.5 117.5L368.4 116.6L369.3 115.8L370.2 114.9L371.1 114.0L372.0 113.2L372.9 112.3L373.8 111.4L374.7 110.5L375.6 109.6L376.5 108.7L377.4 107.8L378.3 106.9L379.2 106.0L380.1 105.1L381.0 104.2L381.9 103.3L382.8 102.4L383.7 101.5L384.6 100.6L385.5 99.7L386.4 98.7L387.3 97.8L388.2 96.9L389.1 95.9L390.0 95.0L390.9 94.1L391.8 93.1L392.7 92.1L393.6 91.2L394.5 90.2L395.4 89.3L396.3 88.3L397.2 87.3L398.1 86.3L399.0 85.3L399.9 84.3L400.8 83.3L401.7 82.3L402.6 81.3L403.5 80.2L404.4 79.2L405.3 78.2L406.2 77.1L407.1 76.0L408.0 75.0L408.9 73.9L409.8 72.8L410.7 71.7L411.6 70.6L412.5 69.5L413.4 68.4L414.3 67.3L415.2 66.2L416.1 65.0L417.0 63.9L417.9 62.7L418.8 61.6L419.7 60.4L420.6 59.3L421.5 58.1L422.4 56.9L423.3 55.7L424.2 54.5L425.1 53.3L426.0 52.1L426.9 50.9L427.8 49.7L428.7 48.5L429.6 47.3L430.5 46.1L431.4 44.9L432.3 43.6L433.2 42.4L434.1 41.2L435.0 39.9L435.9 38.7L436.8 37.5L437.7 36.2L438.6 35.0L439.5 33.7L440.4 32.5L441.3 31.2L442.2 30.0L443.1 28.7L444.0 27.4L444.9 26.2L445.8 24.9L446.7 23.7L447.6 22.4L448.5 21.1L449.4 19.9L450.3 18.6L451.2 17.3L452.1 16.1L453.0 14.8L453.9 13.5L454.8 12.3L455.7 11.0L456.6 9.7L457.5 8.5L458.4 7.2L459.3 5.9L460.2 4.6L461.1 3.4L462.0 2.1L462.9 0.8L463.8 -0.5L464.7 -1.7L464.7 0.4L463.8 1.7L462.9 3.0L462.0 4.2L461.1 5.5L460.2 6.8L459.3 8.1L458.4 9.3L457.5 10.6L456.6 11.9L455.7 13.1L454.8 14.4L453.9 15.7L453.0 17.0L452.1 18.2L451.2 19.5L450.3 20.8L449.4 22.0L448.5 23.3L447.6 24.5L446.7 25.8L445.8 27.1L444.9 28.3L444.0 29.6L443.1 30.8L442.2 32.1L441.3 33.4L440.4 34.6L439.5 35.9L438.6 37.1L437.7 38.4L436.8 39.6L435.9 40.8L435.0 42.1L434.1 43.3L433.2 44.6L432.3 45.8L431.4 47.0L430.5 48.2L429.6 49.5L428.7 50.7L427.8 51.9L426.9 53.1L426.0 54.3L425.1 55.5L424.2 56.7L423.3 57.9L422.4 59.1L421.5 60.2L420.6 61.4L419.7 62.6L418.8 63.7L417.9 64.9L417.0 66.0L416.1 67.2L415.2 68.3L414.3 69.4L413.4 70.6L412.5 71.7L411.6 72.8L410.7 73.9L409.8 75.0L408.9 76.0L408.0 77.1L407.1 78.2L406.2 79.2L405.3 80.3L404.4 81.3L403.5 82.4L402.6 83.4L401.7 84.4L400.8 85.4L399.9 86.4L399.0 87.4L398.1 88.4L397.2 89.4L396.3 90.4L395.4 91.4L394.5 92.4L393.6 93.3L392.7 94.3L391.8 95.2L390.9 96.2L390.0 97.1L389.1 98.0L388.2 99.0L387.3 99.9L386.4 100.8L385.5 101.8L384.6 102.7L383.7 103.6L382.8 104.5L381.9 105.4L381.0 106.3L380.1 107.2L379.2 108.1L378.3 109.0L377.4 109.9L376.5 110.7L375.6 111.6L374.7 112.5L373.8 113.4L372.9 114.2L372.0 115.1L371.1 115.9L370.2 116.8L369.3 117.6L368.4 118.5L367.5 119.3L366.6 120.1L365.7 120.9L364.8 121.7L363.9 122.5L363.0 123.3L362.1 124.0L361.2 124.8L360.3 125.5L359.4 126.1L358.5 126.7L357.6 127.4L356.7 128.0L355.8 128.5ZM355.8 156.3L356.7 155.7L357.6 155.1L358.5 154.5L359.4 153.8L360.3 153.0L361.2 152.3L362.1 151.5L363.0 150.7L363.9 149.9L364.8 149.0L365.7 148.2L366.6 147.4L367.5 146.5L368.4 145.7L369.3 144.8L370.2 143.9L371.1 143.0L372.0 142.2L372.9 141.3L373.8 140.4L374.7 139.5L375.6 138.6L376.5 137.7L377.4 136.8L378.3 135.9L379.2 135.0L380.1 134.1L381.0 133.2L381.9 132.3L382.8 131.4L383.7 130.5L384.6 129.6L385.5 128.7L386.4 127.7L387.3 126.8L388.2 125.9L389.1 124.9L390.0 124.0L390.9 123.1L391.8 122.1L392.7 121.2L393.6 120.2L394.5 119.2L395.4 118.3L396.3 117.3L397.2 116.3L398.1 115.3L399.0 114.3L399.9 113.3L400.8 112.3L401.7 111.3L402.6 110.3L403.5 109.2L404.4 108.2L405.3 107.2L406.2 106.1L407.1 105.1L408.0 104.0L408.9 102.9L409.8 101.8L410.7 100.7L411.6 99.6L412.5 98.5L413.4 97.4L414.3 96.3L415.2 95.2L416.1 94.0L417.0 92.9L417.9 91.8L418.8 90.6L419.7 89.4L420.6 88.3L421.5 87.1L422.4 85.9L423.3 84.7L424.2 83.6L425.1 82.4L426.0 81.2L426.9 80.0L427.8 78.7L428.7 77.5L429.6 76.3L430.5 75.1L431.4 73.9L432.3 72.6L433.2 71.4L434.1 70.2L435.0 68.9L435.9 67.7L436.8 66.5L437.7 65.2L438.6 64.0L439.5 62.7L440.4 61.5L441.3 60.2L442.2 59.0L443.1 57.7L444.0 56.5L444.9 55.2L445.8 53.9L446.7 52.7L447.6 51.4L448.5 50.1L449.4 48.9L450.3 47.6L451.2 46.4L452.1 45.1L453.0 43.8L453.9 42.5L454.8 41.3L455.7 40.0L456.6 38.7L457.5 37.5L458.4 36.2L459.3 34.9L460.2 33.6L461.1 32.4L462.0 31.1L462.9 29.8L463.8 28.6L464.7 27.3L465.6 26.0L466.5 24.7L467.4 23.5L468.3 22.2L469.2 20.9L470.1 19.6L471.0 18.4L471.9 17.1L472.8 15.8L473.7 14.5L474.6 13.3L475.5 12.0L476.4 10.7L477.3 9.4L478.2 8.1L479.1 6.9L480.0 5.6L480.9 4.3L481.8 3.0L482.7 1.8L483.6 0.5L484.5 -0.8L484.5 1.4L483.6 2.6L482.7 3.9L481.8 5.2L480.9 6.5L480.0 7.7L479.1 9.0L478.2 10.3L477.3 11.6L476.4 12.8L475.5 14.1L474.6 15.4L473.7 16.7L472.8 18.0L471.9 19.2L471.0 20.5L470.1 21.8L469.2 23.1L468.3 24.3L467.4 25.6L466.5 26.9L465.6 28.2L464.7 29.4L463.8 30.7L462.9 32.0L462.0 33.3L461.1 34.5L460.2 35.8L459.3 37.1L458.4 38.3L457.5 39.6L456.6 40.9L455.7 42.2L454.8 43.4L453.9 44.7L453.0 46.0L452.1 47.2L451.2 48.5L450.3 49.8L449.4 51.0L448.5 52.3L447.6 53.6L446.7 54.8L445.8 56.1L444.9 57.3L444.0 58.6L443.1 59.9L442.2 61.1L441.3 62.4L440.4 63.6L439.5 64.9L438.6 66.1L437.7 67.4L436.8 68.6L435.9 69.9L435.0 71.1L434.1 72.3L433.2 73.6L432.3 74.8L431.4 76.0L430.5 77.2L429.6 78.5L428.7 79.7L427.8 80.9L426.9 82.1L426.0 83.3L425.1 84.5L424.2 85.7L423.3 86.9L422.4 88.1L421.5 89.3L420.6 90.4L419.7 91.6L418.8 92.8L417.9 93.9L417.0 95.1L416.1 96.2L415.2 97.3L414.3 98.5L413.4 99.6L412.5 100.7L411.6 101.8L410.7 102.9L409.8 104.0L408.9 105.1L408.0 106.1L407.1 107.2L406.2 108.3L405.3 109.3L404.4 110.4L403.5 111.4L402.6 112.4L401.7 113.5L400.8 114.5L399.9 115.5L399.0 116.5L398.1 117.5L397.2 118.5L396.3 119.5L395.4 120.4L394.5 121.4L393.6 122.4L392.7 123.3L391.8 124.3L390.9 125.3L390.0 126.2L389.1 127.2L388.2 128.1L387.3 129.0L386.4 130.0L385.5 130.9L384.6 131.8L383.7 132.8L382.8 133.7L381.9 134.6L381.0 135.5L380.1 136.4L379.2 137.3L378.3 138.3L377.4 139.2L376.5 140.1L375.6 141.0L374.7 141.9L373.8 142.8L372.9 143.7L372.0 144.6L371.1 145.5L370.2 146.4L369.3 147.3L368.4 148.2L367.5 149.1L366.6 150.0L365.7 150.9L364.8 151.8L363.9 152.7L363.0 153.6L362.1 154.5L361.2 155.3L360.3 156.2L359.4 157.0L358.5 157.8L357.6 158.5L356.7 159.1L355.8 159.7ZM357.6 151.0L358.5 150.3L359.4 149.6L360.3 148.9L361.2 148.1L362.1 147.3L363.0 146.5L363.9 145.7L364.8 144.9L365.7 144.1L366.6 143.2L367.5 142.4L368.4 141.5L369.3 140.6L370.2 139.8L371.1 138.9L372.0 138.0L372.9 137.1L373.8 136.3L374.7 135.4L375.6 134.5L376.5 133.6L377.4 132.7L378.3 131.8L379.2 130.9L380.1 130.0L381.0 129.1L381.9 128.2L382.8 127.3L383.7 126.4L384.6 125.5L385.5 124.5L386.4 123.6L387.3 122.7L388.2 121.7L389.1 120.8L390.0 119.9L390.9 118.9L391.8 118.0L392.7 117.0L393.6 116.1L394.5 115.1L395.4 114.1L396.3 113.2L397.2 112.2L398.1 111.2L399.0 110.2L399.9 109.2L400.8 108.2L401.7 107.2L402.6 106.1L403.5 105.1L404.4 104.1L405.3 103.0L406.2 102.0L407.1 100.9L408.0 99.9L408.9 98.8L409.8 97.7L410.7 96.6L411.6 95.5L412.5 94.4L413.4 93.3L414.3 92.2L415.2 91.0L416.1 89.9L417.0 88.8L417.9 87.6L418.8 86.5L419.7 85.3L420.6 84.1L421.5 83.0L422.4 81.8L423.3 80.6L424.2 79.4L425.1 78.2L426.0 77.0L426.9 75.8L427.8 74.6L428.7 73.4L429.6 72.2L430.5 71.0L431.4 69.7L432.3 68.5L433.2 67.3L434.1 66.0L435.0 64.8L435.9 63.6L436.8 62.3L437.7 61.1L438.6 59.8L439.5 58.6L440.4 57.3L441.3 56.1L442.2 54.8L443.1 53.6L444.0 52.3L444.9 51.1L445.8 49.8L446.7 48.5L447.6 47.3L448.5 46.0L449.4 44.7L450.3 43.5L451.2 42.2L452.1 40.9L453.0 39.7L453.9 38.4L454.8 37.1L455.7 35.9L456.6 34.6L457.5 33.3L458.4 32.1L459.3 30.8L460.2 29.5L461.1 28.2L462.0 27.0L462.9 25.7L463.8 24.4L464.7 23.1L465.6 21.9L466.5 20.6L467.4 19.3L468.3 18.0L469.2 16.8L470.1 15.5L471.0 14.2L471.9 12.9L472.8 11.7L473.7 10.4L474.6 9.1L475.5 7.8L476.4 6.6L477.3 5.3L478.2 4.0L479.1 2.7L480.0 1.5L480.9 0.2L481.8 -1.1L481.8 1.1L480.9 2.3L480.0 3.6L479.1 4.9L478.2 6.2L477.3 7.4L476.4 8.7L475.5 10.0L474.6 11.3L473.7 12.5L472.8 13.8L471.9 15.1L471.0 16.4L470.1 17.6L469.2 18.9L468.3 20.2L467.4 21.5L466.5 22.7L465.6 24.0L464.7 25.3L463.8 26.6L462.9 27.8L462.0 29.1L461.1 30.4L460.2 31.7L459.3 32.9L458.4 34.2L457.5 35.5L456.6 36.8L455.7 38.0L454.8 39.3L453.9 40.6L453.0 41.8L452.1 43.1L451.2 44.4L450.3 45.6L449.4 46.9L448.5 48.2L447.6 49.4L446.7 50.7L445.8 51.9L444.9 53.2L444.0 54.5L443.1 55.7L442.2 57.0L441.3 58.2L440.4 59.5L439.5 60.7L438.6 62.0L437.7 63.2L436.8 64.5L435.9 65.7L435.0 67.0L434.1 68.2L433.2 69.4L432.3 70.7L431.4 71.9L430.5 73.1L429.6 74.3L428.7 75.5L427.8 76.8L426.9 78.0L426.0 79.2L425.1 80.4L424.2 81.6L423.3 82.8L422.4 83.9L421.5 85.1L420.6 86.3L419.7 87.5L418.8 88.6L417.9 89.8L417.0 90.9L416.1 92.1L415.2 93.2L414.3 94.3L413.4 95.4L412.5 96.6L411.6 97.7L410.7 98.8L409.8 99.8L408.9 100.9L408.0 102.0L407.1 103.1L406.2 104.1L405.3 105.2L404.4 106.2L403.5 107.3L402.6 108.3L401.7 109.3L400.8 110.3L399.9 111.3L399.0 112.3L398.1 113.3L397.2 114.3L396.3 115.3L395.4 116.3L394.5 117.3L393.6 118.2L392.7 119.2L391.8 120.1L390.9 121.1L390.0 122.0L389.1 123.0L388.2 123.9L387.3 124.9L386.4 125.8L385.5 126.7L384.6 127.6L383.7 128.6L382.8 129.5L381.9 130.4L381.0 131.3L380.1 132.2L379.2 133.1L378.3 134.0L377.4 134.9L376.5 135.8L375.6 136.7L374.7 137.6L373.8 138.5L372.9 139.4L372.0 140.3L371.1 141.2L370.2 142.1L369.3 142.9L368.4 143.8L367.5 144.7L366.6 145.6L365.7 146.4L364.8 147.3L363.9 148.1L363.0 149.0L362.1 149.8L361.2 150.6L360.3 151.4L359.4 152.1L358.5 152.9L357.6 153.6ZM356.7 147.4L357.6 146.8L358.5 146.2L359.4 145.5L360.3 144.7L361.2 144.0L362.1 143.2L363.0 142.4L363.9 141.6L364.8 140.8L365.7 139.9L366.6 139.1L367.5 138.2L368.4 137.4L369.3 136.5L370.2 135.6L371.1 134.8L372.0 133.9L372.9 133.0L373.8 132.1L374.7 131.2L375.6 130.4L376.5 129.5L377.4 128.6L378.3 127.7L379.2 126.8L380.1 125.9L381.0 125.0L381.9 124.1L382.8 123.1L383.7 122.2L384.6 121.3L385.5 120.4L386.4 119.5L387.3 118.5L388.2 117.6L389.1 116.7L390.0 115.7L390.9 114.8L391.8 113.8L392.7 112.9L393.6 111.9L394.5 111.0L395.4 110.0L396.3 109.0L397.2 108.0L398.1 107.0L399.0 106.0L399.9 105.0L400.8 104.0L401.7 103.0L402.6 102.0L403.5 101.0L404.4 99.9L405.3 98.9L406.2 97.8L407.1 96.8L408.0 95.7L408.9 94.6L409.8 93.6L410.7 92.5L411.6 91.4L412.5 90.3L413.4 89.1L414.3 88.0L415.2 86.9L416.1 85.8L417.0 84.6L417.9 83.5L418.8 82.3L419.7 81.2L420.6 80.0L421.5 78.8L422.4 77.6L423.3 76.5L424.2 75.3L425.1 74.1L426.0 72.9L426.9 71.7L427.8 70.5L428.7 69.3L429.6 68.0L430.5 66.8L431.4 65.6L432.3 64.4L433.2 63.1L434.1 61.9L435.0 60.7L435.9 59.4L436.8 58.2L437.7 56.9L438.6 55.7L439.5 54.4L440.4 53.2L441.3 51.9L442.2 50.7L443.1 49.4L444.0 48.2L444.9 46.9L445.8 45.7L446.7 44.4L447.6 43.1L448.5 41.9L449.4 40.6L450.3 39.3L451.2 38.1L452.1 36.8L453.0 35.5L453.9 34.3L454.8 33.0L455.7 31.7L456.6 30.5L457.5 29.2L458.4 27.9L459.3 26.6L460.2 25.4L461.1 24.1L462.0 22.8L462.9 21.6L463.8 20.3L464.7 19.0L465.6 17.7L466.5 16.5L467.4 15.2L468.3 13.9L469.2 12.6L470.1 11.4L471.0 10.1L471.9 8.8L472.8 7.5L473.7 6.3L474.6 5.0L475.5 3.7L476.4 2.4L477.3 1.1L478.2 -0.1L479.1 -1.4L479.1 0.7L478.2 2.0L477.3 3.3L476.4 4.6L475.5 5.8L474.6 7.1L473.7 8.4L472.8 9.7L471.9 11.0L471.0 12.2L470.1 13.5L469.2 14.8L468.3 16.1L467.4 17.3L466.5 18.6L465.6 19.9L464.7 21.2L463.8 22.4L462.9 23.7L462.0 25.0L461.1 26.3L460.2 27.5L459.3 28.8L458.4 30.1L457.5 31.3L456.6 32.6L455.7 33.9L454.8 35.2L453.9 36.4L453.0 37.7L452.1 39.0L451.2 40.2L450.3 41.5L449.4 42.8L448.5 44.0L447.6 45.3L446.7 46.5L445.8 47.8L444.9 49.1L444.0 50.3L443.1 51.6L442.2 52.8L441.3 54.1L440.4 55.3L439.5 56.6L438.6 57.8L437.7 59.1L436.8 60.3L435.9 61.6L435.0 62.8L434.1 64.1L433.2 65.3L432.3 66.5L431.4 67.7L430.5 69.0L429.6 70.2L428.7 71.4L427.8 72.6L426.9 73.8L426.0 75.0L425.1 76.2L424.2 77.4L423.3 78.6L422.4 79.8L421.5 81.0L420.6 82.1L419.7 83.3L418.8 84.5L417.9 85.6L417.0 86.8L416.1 87.9L415.2 89.1L414.3 90.2L413.4 91.3L412.5 92.4L411.6 93.5L410.7 94.6L409.8 95.7L408.9 96.8L408.0 97.9L407.1 98.9L406.2 100.0L405.3 101.0L404.4 102.1L403.5 103.1L402.6 104.1L401.7 105.2L400.8 106.2L399.9 107.2L399.0 108.2L398.1 109.2L397.2 110.2L396.3 111.2L395.4 112.1L394.5 113.1L393.6 114.1L392.7 115.0L391.8 116.0L390.9 116.9L390.0 117.9L389.1 118.8L388.2 119.7L387.3 120.7L386.4 121.6L385.5 122.5L384.6 123.4L383.7 124.3L382.8 125.2L381.9 126.2L381.0 127.1L380.1 128.0L379.2 128.9L378.3 129.7L377.4 130.6L376.5 131.5L375.6 132.4L374.7 133.3L373.8 134.2L372.9 135.0L372.0 135.9L371.1 136.8L370.2 137.6L369.3 138.5L368.4 139.3L367.5 140.2L366.6 141.0L365.7 141.8L364.8 142.6L363.9 143.4L363.0 144.2L362.1 145.0L361.2 145.7L360.3 146.4L359.4 147.1L358.5 147.8L357.6 148.4L356.7 149.0ZM355.8 143.8L356.7 143.3L357.6 142.7L358.5 142.0L359.4 141.3L360.3 140.6L361.2 139.8L362.1 139.0L363.0 138.3L363.9 137.4L364.8 136.6L365.7 135.8L366.6 134.9L367.5 134.1L368.4 133.2L369.3 132.4L370.2 131.5L371.1 130.6L372.0 129.7L372.9 128.9L373.8 128.0L374.7 127.1L375.6 126.2L376.5 125.3L377.4 124.4L378.3 123.5L379.2 122.6L380.1 121.7L381.0 120.8L381.9 119.9L382.8 119.0L383.7 118.1L384.6 117.2L385.5 116.2L386.4 115.3L387.3 114.4L388.2 113.5L389.1 112.5L390.0 111.6L390.9 110.6L391.8 109.7L392.7 108.7L393.6 107.8L394.5 106.8L395.4 105.8L396.3 104.9L397.2 103.9L398.1 102.9L399.0 101.9L399.9 100.9L400.8 99.9L401.7 98.9L402.6 97.9L403.5 96.8L404.4 95.8L405.3 94.7L406.2 93.7L407.1 92.6L408.0 91.6L408.9 90.5L409.8 89.4L410.7 88.3L411.6 87.2L412.5 86.1L413.4 85.0L414.3 83.9L415.2 82.8L416.1 81.6L417.0 80.5L417.9 79.3L418.8 78.2L419.7 77.0L420.6 75.9L421.5 74.7L422.4 73.5L423.3 72.3L424.2 71.1L425.1 69.9L426.0 68.7L426.9 67.5L427.8 66.3L428.7 65.1L429.6 63.9L430.5 62.7L431.4 61.5L432.3 60.2L433.2 59.0L434.1 57.8L435.0 56.5L435.9 55.3L436.8 54.0L437.7 52.8L438.6 51.6L439.5 50.3L440.4 49.1L441.3 47.8L442.2 46.5L443.1 45.3L444.0 44.0L444.9 42.8L445.8 41.5L446.7 40.3L447.6 39.0L448.5 37.7L449.4 36.5L450.3 35.2L451.2 33.9L452.1 32.7L453.0 31.4L453.9 30.1L454.8 28.9L455.7 27.6L456.6 26.3L457.5 25.0L458.4 23.8L459.3 22.5L460.2 21.2L461.1 20.0L462.0 18.7L462.9 17.4L463.8 16.1L464.7 14.9L465.6 13.6L466.5 12.3L467.4 11.0L468.3 9.8L469.2 8.5L470.1 7.2L471.0 5.9L471.9 4.7L472.8 3.4L473.7 2.1L474.6 0.8L475.5 -0.4L476.4 -1.7L476.4 0.4L475.5 1.7L474.6 3.0L473.7 4.3L472.8 5.5L471.9 6.8L471.0 8.1L470.1 9.4L469.2 10.6L468.3 11.9L467.4 13.2L466.5 14.5L465.6 15.7L464.7 17.0L463.8 18.3L462.9 19.6L462.0 20.8L461.1 22.1L460.2 23.4L459.3 24.7L458.4 25.9L457.5 27.2L456.6 28.5L455.7 29.7L454.8 31.0L453.9 32.3L453.0 33.5L452.1 34.8L451.2 36.1L450.3 37.3L449.4 38.6L448.5 39.9L447.6 41.1L446.7 42.4L445.8 43.7L444.9 44.9L444.0 46.2L443.1 47.4L442.2 48.7L441.3 50.0L440.4 51.2L439.5 52.5L438.6 53.7L437.7 54.9L436.8 56.2L435.9 57.4L435.0 58.7L434.1 59.9L433.2 61.1L432.3 62.4L431.4 63.6L430.5 64.8L429.6 66.0L428.7 67.3L427.8 68.5L426.9 69.7L426.0 70.9L425.1 72.1L424.2 73.3L423.3 74.5L422.4 75.7L421.5 76.8L420.6 78.0L419.7 79.2L418.8 80.3L417.9 81.5L417.0 82.6L416.1 83.8L415.2 84.9L414.3 86.0L413.4 87.2L412.5 88.3L411.6 89.4L410.7 90.5L409.8 91.6L408.9 92.6L408.0 93.7L407.1 94.8L406.2 95.8L405.3 96.9L404.4 97.9L403.5 99.0L402.6 100.0L401.7 101.0L400.8 102.0L399.9 103.0L399.0 104.0L398.1 105.0L397.2 106.0L396.3 107.0L395.4 108.0L394.5 108.9L393.6 109.9L392.7 110.9L391.8 111.8L390.9 112.8L390.0 113.7L389.1 114.6L388.2 115.6L387.3 116.5L386.4 117.4L385.5 118.3L384.6 119.3L383.7 120.2L382.8 121.1L381.9 122.0L381.0 122.9L380.1 123.8L379.2 124.7L378.3 125.6L377.4 126.4L376.5 127.3L375.6 128.2L374.7 129.1L373.8 130.0L372.9 130.8L372.0 131.7L371.1 132.5L370.2 133.4L369.3 134.2L368.4 135.1L367.5 135.9L366.6 136.7L365.7 137.5L364.8 138.3L363.9 139.1L363.0 139.9L362.1 140.6L361.2 141.4L360.3 142.1L359.4 142.7L358.5 143.3L357.6 144.0L356.7 144.6L355.8 145.1ZM355.8 172.9L356.7 172.3L357.6 171.7L358.5 171.0L359.4 170.3L360.3 169.6L361.2 168.9L362.1 168.1L363.0 167.3L363.9 166.5L364.8 165.6L365.7 164.8L366.6 163.9L367.5 163.1L368.4 162.2L369.3 161.3L370.2 160.4L371.1 159.6L372.0 158.7L372.9 157.8L373.8 156.9L374.7 156.0L375.6 155.1L376.5 154.2L377.4 153.3L378.3 152.4L379.2 151.5L380.1 150.6L381.0 149.7L381.9 148.8L382.8 147.9L383.7 147.0L384.6 146.1L385.5 145.1L386.4 144.2L387.3 143.3L388.2 142.3L389.1 141.4L390.0 140.5L390.9 139.5L391.8 138.6L392.7 137.6L393.6 136.7L394.5 135.7L395.4 134.7L396.3 133.8L397.2 132.8L398.1 131.8L399.0 130.8L399.9 129.8L400.8 128.8L401.7 127.8L402.6 126.7L403.5 125.7L404.4 124.7L405.3 123.6L406.2 122.6L407.1 121.5L408.0 120.4L408.9 119.4L409.8 118.3L410.7 117.2L411.6 116.1L412.5 115.0L413.4 113.9L414.3 112.8L415.2 111.6L416.1 110.5L417.0 109.4L417.9 108.2L418.8 107.1L419.7 105.9L420.6 104.7L421.5 103.6L422.4 102.4L423.3 101.2L424.2 100.0L425.1 98.8L426.0 97.6L426.9 96.4L427.8 95.2L428.7 94.0L429.6 92.8L430.5 91.6L431.4 90.3L432.3 89.1L433.2 87.9L434.1 86.6L435.0 85.4L435.9 84.2L436.8 82.9L437.7 81.7L438.6 80.4L439.5 79.2L440.4 77.9L441.3 76.7L442.2 75.4L443.1 74.2L444.0 72.9L444.9 71.7L445.8 70.4L446.7 69.1L447.6 67.9L448.5 66.6L449.4 65.3L450.3 64.1L451.2 62.8L452.1 61.5L453.0 60.3L453.9 59.0L454.8 57.7L455.7 56.5L456.6 55.2L457.5 53.9L458.4 52.7L459.3 51.4L460.2 50.1L461.1 48.8L462.0 47.6L462.9 46.3L463.8 45.0L464.7 43.7L465.6 42.5L466.5 41.2L467.4 39.9L468.3 38.6L469.2 37.4L470.1 36.1L471.0 34.8L471.9 33.5L472.8 32.3L473.7 31.0L474.6 29.7L475.5 28.4L476.4 27.2L477.3 25.9L478.2 24.6L479.1 23.3L480.0 22.1L480.9 20.8L481.8 19.5L482.7 18.2L483.6 16.9L484.5 15.7L485.4 14.4L486.3 13.1L487.2 11.8L488.1 10.6L489.0 9.3L489.9 8.0L490.8 6.7L491.7 5.4L492.6 4.2L493.5 2.9L494.4 1.6L494.4 3.8L493.5 5.0L492.6 6.3L491.7 7.6L490.8 8.9L489.9 10.2L489.0 11.4L488.1 12.7L487.2 14.0L486.3 15.3L485.4 16.5L484.5 17.8L483.6 19.1L482.7 20.4L481.8 21.7L480.9 22.9L480.0 24.2L479.1 25.5L478.2 26.8L477.3 28.0L476.4 29.3L475.5 30.6L474.6 31.9L473.7 33.1L472.8 34.4L471.9 35.7L471.0 37.0L470.1 38.2L469.2 39.5L468.3 40.8L467.4 42.1L466.5 43.3L465.6 44.6L464.7 45.9L463.8 47.2L462.9 48.4L462.0 49.7L461.1 51.0L460.2 52.3L459.3 53.5L458.4 54.8L457.5 56.1L456.6 57.3L455.7 58.6L454.8 59.9L453.9 61.2L453.0 62.4L452.1 63.7L451.2 65.0L450.3 66.2L449.4 67.5L448.5 68.8L447.6 70.0L446.7 71.3L445.8 72.5L444.9 73.8L444.0 75.1L443.1 76.3L442.2 77.6L441.3 78.8L440.4 80.1L439.5 81.3L438.6 82.6L437.7 83.8L436.8 85.1L435.9 86.3L435.0 87.6L434.1 88.8L433.2 90.0L432.3 91.3L431.4 92.5L430.5 93.7L429.6 94.9L428.7 96.1L427.8 97.4L426.9 98.6L426.0 99.8L425.1 101.0L424.2 102.2L423.3 103.4L422.4 104.5L421.5 105.7L420.6 106.9L419.7 108.1L418.8 109.2L417.9 110.4L417.0 111.5L416.1 112.7L415.2 113.8L414.3 114.9L413.4 116.0L412.5 117.2L411.6 118.3L410.7 119.4L409.8 120.5L408.9 121.5L408.0 122.6L407.1 123.7L406.2 124.7L405.3 125.8L404.4 126.8L403.5 127.9L402.6 128.9L401.7 129.9L400.8 130.9L399.9 132.0L399.0 133.0L398.1 134.0L397.2 134.9L396.3 135.9L395.4 136.9L394.5 137.9L393.6 138.8L392.7 139.8L391.8 140.8L390.9 141.7L390.0 142.7L389.1 143.6L388.2 144.6L387.3 145.5L386.4 146.4L385.5 147.4L384.6 148.3L383.7 149.2L382.8 150.1L381.9 151.1L381.0 152.0L380.1 152.9L379.2 153.8L378.3 154.7L377.4 155.6L376.5 156.6L375.6 157.5L374.7 158.4L373.8 159.3L372.9 160.2L372.0 161.1L371.1 162.1L370.2 163.0L369.3 163.9L368.4 164.8L367.5 165.7L366.6 166.6L365.7 167.5L364.8 168.4L363.9 169.3L363.0 170.2L362.1 171.1L361.2 171.9L360.3 172.8L359.4 173.6L358.5 174.4L357.6 175.1L356.7 175.7L355.8 176.3ZM357.6 167.6L358.5 166.9L359.4 166.2L360.3 165.5L361.2 164.7L362.1 163.9L363.0 163.1L363.9 162.3L364.8 161.5L365.7 160.6L366.6 159.8L367.5 158.9L368.4 158.1L369.3 157.2L370.2 156.3L371.1 155.4L372.0 154.6L372.9 153.7L373.8 152.8L374.7 151.9L375.6 151.0L376.5 150.1L377.4 149.2L378.3 148.3L379.2 147.4L380.1 146.5L381.0 145.6L381.9 144.7L382.8 143.8L383.7 142.9L384.6 142.0L385.5 141.0L386.4 140.1L387.3 139.2L388.2 138.2L389.1 137.3L390.0 136.4L390.9 135.4L391.8 134.5L392.7 133.5L393.6 132.6L394.5 131.6L395.4 130.6L396.3 129.7L397.2 128.7L398.1 127.7L399.0 126.7L399.9 125.7L400.8 124.7L401.7 123.7L402.6 122.6L403.5 121.6L404.4 120.6L405.3 119.5L406.2 118.5L407.1 117.4L408.0 116.4L408.9 115.3L409.8 114.2L410.7 113.1L411.6 112.0L412.5 110.9L413.4 109.8L414.3 108.7L415.2 107.5L416.1 106.4L417.0 105.3L417.9 104.1L418.8 103.0L419.7 101.8L420.6 100.6L421.5 99.5L422.4 98.3L423.3 97.1L424.2 95.9L425.1 94.7L426.0 93.5L426.9 92.3L427.8 91.1L428.7 89.9L429.6 88.7L430.5 87.5L431.4 86.2L432.3 85.0L433.2 83.8L434.1 82.5L435.0 81.3L435.9 80.1L436.8 78.8L437.7 77.6L438.6 76.3L439.5 75.1L440.4 73.8L441.3 72.6L442.2 71.3L443.1 70.1L444.0 68.8L444.9 67.6L445.8 66.3L446.7 65.0L447.6 63.8L448.5 62.5L449.4 61.2L450.3 60.0L451.2 58.7L452.1 57.4L453.0 56.2L453.9 54.9L454.8 53.6L455.7 52.4L456.6 51.1L457.5 49.8L458.4 48.6L459.3 47.3L460.2 46.0L461.1 44.7L462.0 43.5L462.9 42.2L463.8 40.9L464.7 39.6L465.6 38.4L466.5 37.1L467.4 35.8L468.3 34.5L469.2 33.3L470.1 32.0L471.0 30.7L471.9 29.4L472.8 28.2L473.7 26.9L474.6 25.6L475.5 24.3L476.4 23.1L477.3 21.8L478.2 20.5L479.1 19.2L480.0 18.0L480.9 16.7L481.8 15.4L482.7 14.1L483.6 12.8L484.5 11.6L485.4 10.3L486.3 9.0L487.2 7.7L488.1 6.5L489.0 5.2L489.9 3.9L490.8 2.6L491.7 1.4L492.6 0.1L493.5 -1.2L493.5 0.9L492.6 2.2L491.7 3.5L490.8 4.8L489.9 6.1L489.0 7.3L488.1 8.6L487.2 9.9L486.3 11.2L485.4 12.4L484.5 13.7L483.6 15.0L482.7 16.3L481.8 17.6L480.9 18.8L480.0 20.1L479.1 21.4L478.2 22.7L477.3 23.9L476.4 25.2L475.5 26.5L474.6 27.8L473.7 29.0L472.8 30.3L471.9 31.6L471.0 32.9L470.1 34.1L469.2 35.4L468.3 36.7L467.4 38.0L466.5 39.2L465.6 40.5L464.7 41.8L463.8 43.1L462.9 44.3L462.0 45.6L461.1 46.9L460.2 48.2L459.3 49.4L458.4 50.7L457.5 52.0L456.6 53.3L455.7 54.5L454.8 55.8L453.9 57.1L453.0 58.3L452.1 59.6L451.2 60.9L450.3 62.1L449.4 63.4L448.5 64.7L447.6 65.9L446.7 67.2L445.8 68.4L444.9 69.7L444.0 71.0L443.1 72.2L442.2 73.5L441.3 74.7L440.4 76.0L439.5 77.2L438.6 78.5L437.7 79.7L436.8 81.0L435.9 82.2L435.0 83.5L434.1 84.7L433.2 85.9L432.3 87.2L431.4 88.4L430.5 89.6L429.6 90.8L428.7 92.0L427.8 93.3L426.9 94.5L426.0 95.7L425.1 96.9L424.2 98.1L423.3 99.3L422.4 100.4L421.5 101.6L420.6 102.8L419.7 104.0L418.8 105.1L417.9 106.3L417.0 107.4L416.1 108.6L415.2 109.7L414.3 110.8L413.4 111.9L412.5 113.1L411.6 114.2L410.7 115.3L409.8 116.3L408.9 117.4L408.0 118.5L407.1 119.6L406.2 120.6L405.3 121.7L404.4 122.7L403.5 123.8L402.6 124.8L401.7 125.8L400.8 126.8L399.9 127.8L399.0 128.8L398.1 129.8L397.2 130.8L396.3 131.8L395.4 132.8L394.5 133.8L393.6 134.7L392.7 135.7L391.8 136.6L390.9 137.6L390.0 138.5L389.1 139.5L388.2 140.4L387.3 141.4L386.4 142.3L385.5 143.2L384.6 144.1L383.7 145.1L382.8 146.0L381.9 146.9L381.0 147.8L380.1 148.7L379.2 149.6L378.3 150.5L377.4 151.4L376.5 152.3L375.6 153.2L374.7 154.1L373.8 155.0L372.9 155.9L372.0 156.8L371.1 157.7L370.2 158.6L369.3 159.5L368.4 160.4L367.5 161.3L366.6 162.1L365.7 163.0L364.8 163.9L363.9 164.7L363.0 165.5L362.1 166.4L361.2 167.2L360.3 168.0L359.4 168.7L358.5 169.5L357.6 170.2ZM356.7 164.0L357.6 163.4L358.5 162.7L359.4 162.1L360.3 161.3L361.2 160.6L362.1 159.8L363.0 159.0L363.9 158.2L364.8 157.3L365.7 156.5L366.6 155.6L367.5 154.8L368.4 153.9L369.3 153.1L370.2 152.2L371.1 151.3L372.0 150.4L372.9 149.5L373.8 148.7L374.7 147.8L375.6 146.9L376.5 146.0L377.4 145.1L378.3 144.2L379.2 143.3L380.1 142.4L381.0 141.5L381.9 140.6L382.8 139.7L383.7 138.8L384.6 137.8L385.5 136.9L386.4 136.0L387.3 135.1L388.2 134.1L389.1 133.2L390.0 132.3L390.9 131.3L391.8 130.4L392.7 129.4L393.6 128.5L394.5 127.5L395.4 126.5L396.3 125.5L397.2 124.6L398.1 123.6L399.0 122.6L399.9 121.6L400.8 120.6L401.7 119.5L402.6 118.5L403.5 117.5L404.4 116.5L405.3 115.4L406.2 114.4L407.1 113.3L408.0 112.2L408.9 111.2L409.8 110.1L410.7 109.0L411.6 107.9L412.5 106.8L413.4 105.7L414.3 104.6L415.2 103.4L416.1 102.3L417.0 101.2L417.9 100.0L418.8 98.9L419.7 97.7L420.6 96.5L421.5 95.4L422.4 94.2L423.3 93.0L424.2 91.8L425.1 90.6L426.0 89.4L426.9 88.2L427.8 87.0L428.7 85.8L429.6 84.6L430.5 83.3L431.4 82.1L432.3 80.9L433.2 79.7L434.1 78.4L435.0 77.2L435.9 76.0L436.8 74.7L437.7 73.5L438.6 72.2L439.5 71.0L440.4 69.7L441.3 68.5L442.2 67.2L443.1 66.0L444.0 64.7L444.9 63.4L445.8 62.2L446.7 60.9L447.6 59.7L448.5 58.4L449.4 57.1L450.3 55.9L451.2 54.6L452.1 53.3L453.0 52.1L453.9 50.8L454.8 49.5L455.7 48.3L456.6 47.0L457.5 45.7L458.4 44.4L459.3 43.2L460.2 41.9L461.1 40.6L462.0 39.4L462.9 38.1L463.8 36.8L464.7 35.5L465.6 34.3L466.5 33.0L467.4 31.7L468.3 30.4L469.2 29.2L470.1 27.9L471.0 26.6L471.9 25.3L472.8 24.1L473.7 22.8L474.6 21.5L475.5 20.2L476.4 19.0L477.3 17.7L478.2 16.4L479.1 15.1L480.0 13.8L480.9 12.6L481.8 11.3L482.7 10.0L483.6 8.7L484.5 7.5L485.4 6.2L486.3 4.9L487.2 3.6L488.1 2.3L489.0 1.1L489.9 -0.2L490.8 -1.5L490.8 0.7L489.9 1.9L489.0 3.2L488.1 4.5L487.2 5.8L486.3 7.1L485.4 8.3L484.5 9.6L483.6 10.9L482.7 12.2L481.8 13.4L480.9 14.7L480.0 16.0L479.1 17.3L478.2 18.5L477.3 19.8L476.4 21.1L475.5 22.4L474.6 23.7L473.7 24.9L472.8 26.2L471.9 27.5L471.0 28.8L470.1 30.0L469.2 31.3L468.3 32.6L467.4 33.9L466.5 35.1L465.6 36.4L464.7 37.7L463.8 39.0L462.9 40.2L462.0 41.5L461.1 42.8L460.2 44.1L459.3 45.3L458.4 46.6L457.5 47.9L456.6 49.1L455.7 50.4L454.8 51.7L453.9 52.9L453.0 54.2L452.1 55.5L451.2 56.8L450.3 58.0L449.4 59.3L448.5 60.5L447.6 61.8L446.7 63.1L445.8 64.3L444.9 65.6L444.0 66.9L443.1 68.1L442.2 69.4L441.3 70.6L440.4 71.9L439.5 73.1L438.6 74.4L437.7 75.6L436.8 76.9L435.9 78.1L435.0 79.3L434.1 80.6L433.2 81.8L432.3 83.0L431.4 84.3L430.5 85.5L429.6 86.7L428.7 87.9L427.8 89.1L426.9 90.4L426.0 91.6L425.1 92.8L424.2 94.0L423.3 95.1L422.4 96.3L421.5 97.5L420.6 98.7L419.7 99.8L418.8 101.0L417.9 102.2L417.0 103.3L416.1 104.4L415.2 105.6L414.3 106.7L413.4 107.8L412.5 108.9L411.6 110.0L410.7 111.1L409.8 112.2L408.9 113.3L408.0 114.4L407.1 115.5L406.2 116.5L405.3 117.6L404.4 118.6L403.5 119.6L402.6 120.7L401.7 121.7L400.8 122.7L399.9 123.7L399.0 124.7L398.1 125.7L397.2 126.7L396.3 127.7L395.4 128.7L394.5 129.6L393.6 130.6L392.7 131.5L391.8 132.5L390.9 133.4L390.0 134.4L389.1 135.3L388.2 136.3L387.3 137.2L386.4 138.1L385.5 139.0L384.6 140.0L383.7 140.9L382.8 141.8L381.9 142.7L381.0 143.6L380.1 144.5L379.2 145.4L378.3 146.3L377.4 147.2L376.5 148.0L375.6 148.9L374.7 149.8L373.8 150.7L372.9 151.6L372.0 152.4L371.1 153.3L370.2 154.2L369.3 155.0L368.4 155.9L367.5 156.7L366.6 157.6L365.7 158.4L364.8 159.2L363.9 160.0L363.0 160.8L362.1 161.6L361.2 162.3L360.3 163.0L359.4 163.7L358.5 164.4L357.6 165.0L356.7 165.6ZM355.8 160.4L356.7 159.9L357.6 159.3L358.5 158.6L359.4 157.9L360.3 157.2L361.2 156.4L362.1 155.6L363.0 154.8L363.9 154.0L364.8 153.2L365.7 152.4L366.6 151.5L367.5 150.7L368.4 149.8L369.3 148.9L370.2 148.0L371.1 147.2L372.0 146.3L372.9 145.4L373.8 144.5L374.7 143.6L375.6 142.8L376.5 141.9L377.4 141.0L378.3 140.1L379.2 139.2L380.1 138.3L381.0 137.4L381.9 136.5L382.8 135.5L383.7 134.6L384.6 133.7L385.5 132.8L386.4 131.9L387.3 130.9L388.2 130.0L389.1 129.1L390.0 128.1L390.9 127.2L391.8 126.2L392.7 125.3L393.6 124.3L394.5 123.4L395.4 122.4L396.3 121.4L397.2 120.4L398.1 119.4L399.0 118.5L399.9 117.5L400.8 116.4L401.7 115.4L402.6 114.4L403.5 113.4L404.4 112.3L405.3 111.3L406.2 110.2L407.1 109.2L408.0 108.1L408.9 107.0L409.8 106.0L410.7 104.9L411.6 103.8L412.5 102.7L413.4 101.6L414.3 100.4L415.2 99.3L416.1 98.2L417.0 97.0L417.9 95.9L418.8 94.7L419.7 93.6L420.6 92.4L421.5 91.2L422.4 90.1L423.3 88.9L424.2 87.7L425.1 86.5L426.0 85.3L426.9 84.1L427.8 82.9L428.7 81.7L429.6 80.4L430.5 79.2L431.4 78.0L432.3 76.8L433.2 75.5L434.1 74.3L435.0 73.1L435.9 71.8L436.8 70.6L437.7 69.3L438.6 68.1L439.5 66.9L440.4 65.6L441.3 64.4L442.2 63.1L443.1 61.8L444.0 60.6L444.9 59.3L445.8 58.1L446.7 56.8L447.6 55.5L448.5 54.3L449.4 53.0L450.3 51.7L451.2 50.5L452.1 49.2L453.0 47.9L453.9 46.7L454.8 45.4L455.7 44.1L456.6 42.9L457.5 41.6L458.4 40.3L459.3 39.1L460.2 37.8L461.1 36.5L462.0 35.2L462.9 34.0L463.8 32.7L464.7 31.4L465.6 30.1L466.5 28.9L467.4 27.6L468.3 26.3L469.2 25.0L470.1 23.8L471.0 22.5L471.9 21.2L472.8 19.9L473.7 18.7L474.6 17.4L475.5 16.1L476.4 14.8L477.3 13.6L478.2 12.3L479.1 11.0L480.0 9.7L480.9 8.4L481.8 7.2L482.7 5.9L483.6 4.6L484.5 3.3L485.4 2.1L486.3 0.8L487.2 -0.5L488.1 -1.8L488.1 0.4L487.2 1.7L486.3 2.9L485.4 4.2L484.5 5.5L483.6 6.8L482.7 8.0L481.8 9.3L480.9 10.6L480.0 11.9L479.1 13.1L478.2 14.4L477.3 15.7L476.4 17.0L475.5 18.3L474.6 19.5L473.7 20.8L472.8 22.1L471.9 23.4L471.0 24.6L470.1 25.9L469.2 27.2L468.3 28.5L467.4 29.7L466.5 31.0L465.6 32.3L464.7 33.6L463.8 34.8L462.9 36.1L462.0 37.4L461.1 38.7L460.2 39.9L459.3 41.2L458.4 42.5L457.5 43.7L456.6 45.0L455.7 46.3L454.8 47.6L453.9 48.8L453.0 50.1L452.1 51.4L451.2 52.6L450.3 53.9L449.4 55.2L448.5 56.4L447.6 57.7L446.7 59.0L445.8 60.2L444.9 61.5L444.0 62.7L443.1 64.0L442.2 65.2L441.3 66.5L440.4 67.8L439.5 69.0L438.6 70.3L437.7 71.5L436.8 72.7L435.9 74.0L435.0 75.2L434.1 76.5L433.2 77.7L432.3 78.9L431.4 80.2L430.5 81.4L429.6 82.6L428.7 83.8L427.8 85.0L426.9 86.2L426.0 87.4L425.1 88.6L424.2 89.8L423.3 91.0L422.4 92.2L421.5 93.4L420.6 94.6L419.7 95.7L418.8 96.9L417.9 98.0L417.0 99.2L416.1 100.3L415.2 101.5L414.3 102.6L413.4 103.7L412.5 104.8L411.6 105.9L410.7 107.0L409.8 108.1L408.9 109.2L408.0 110.3L407.1 111.3L406.2 112.4L405.3 113.4L404.4 114.5L403.5 115.5L402.6 116.5L401.7 117.6L400.8 118.6L399.9 119.6L399.0 120.6L398.1 121.6L397.2 122.6L396.3 123.5L395.4 124.5L394.5 125.5L393.6 126.5L392.7 127.4L391.8 128.4L390.9 129.3L390.0 130.3L389.1 131.2L388.2 132.1L387.3 133.0L386.4 134.0L385.5 134.9L384.6 135.8L383.7 136.7L382.8 137.6L381.9 138.5L381.0 139.4L380.1 140.3L379.2 141.2L378.3 142.1L377.4 143.0L376.5 143.9L375.6 144.8L374.7 145.6L373.8 146.5L372.9 147.4L372.0 148.2L371.1 149.1L370.2 149.9L369.3 150.8L368.4 151.6L367.5 152.5L366.6 153.3L365.7 154.1L364.8 154.9L363.9 155.7L363.0 156.5L362.1 157.2L361.2 158.0L360.3 158.7L359.4 159.3L358.5 159.9L357.6 160.6L356.7 161.2L355.8 161.7ZM355.8 189.5L356.7 188.9L357.6 188.3L358.5 187.6L359.4 186.9L360.3 186.2L361.2 185.4L362.1 184.6L363.0 183.8L363.9 183.0L364.8 182.2L365.7 181.3L366.6 180.5L367.5 179.6L368.4 178.7L369.3 177.8L370.2 176.9L371.1 176.0L372.0 175.1L372.9 174.2L373.8 173.3L374.7 172.4L375.6 171.5L376.5 170.6L377.4 169.7L378.3 168.8L379.2 167.9L380.1 166.9L381.0 166.0L381.9 165.1L382.8 164.2L383.7 163.2L384.6 162.3L385.5 161.4L386.4 160.4L387.3 159.5L388.2 158.5L389.1 157.6L390.0 156.7L390.9 155.7L391.8 154.8L392.7 153.8L393.6 152.9L394.5 151.9L395.4 150.9L396.3 149.9L397.2 149.0L398.1 148.0L399.0 147.0L399.9 146.0L400.8 145.0L401.7 144.0L402.6 142.9L403.5 141.9L404.4 140.9L405.3 139.8L406.2 138.8L407.1 137.7L408.0 136.6L408.9 135.6L409.8 134.5L410.7 133.4L411.6 132.3L412.5 131.2L413.4 130.1L414.3 129.0L415.2 127.8L416.1 126.7L417.0 125.6L417.9 124.4L418.8 123.3L419.7 122.1L420.6 120.9L421.5 119.8L422.4 118.6L423.3 117.4L424.2 116.2L425.1 115.0L426.0 113.8L426.9 112.6L427.8 111.4L428.7 110.2L429.6 109.0L430.5 107.8L431.4 106.5L432.3 105.3L433.2 104.1L434.1 102.8L435.0 101.6L435.9 100.4L436.8 99.1L437.7 97.9L438.6 96.6L439.5 95.4L440.4 94.1L441.3 92.9L442.2 91.6L443.1 90.4L444.0 89.1L444.9 87.8L445.8 86.6L446.7 85.3L447.6 84.1L448.5 82.8L449.4 81.5L450.3 80.3L451.2 79.0L452.1 77.7L453.0 76.5L453.9 75.2L454.8 73.9L455.7 72.7L456.6 71.4L457.5 70.1L458.4 68.8L459.3 67.6L460.2 66.3L461.1 65.0L462.0 63.8L462.9 62.5L463.8 61.2L464.7 59.9L465.6 58.7L466.5 57.4L467.4 56.1L468.3 54.8L469.2 53.6L470.1 52.3L471.0 51.0L471.9 49.7L471.9 51.9L471.0 53.2L470.1 54.4L469.2 55.7L468.3 57.0L467.4 58.3L466.5 59.5L465.6 60.8L464.7 62.1L463.8 63.4L462.9 64.6L462.0 65.9L461.1 67.2L460.2 68.5L459.3 69.7L458.4 71.0L457.5 72.3L456.6 73.5L455.7 74.8L454.8 76.1L453.9 77.4L453.0 78.6L452.1 79.9L451.2 81.2L450.3 82.4L449.4 83.7L448.5 85.0L447.6 86.2L446.7 87.5L445.8 88.7L444.9 90.0L444.0 91.3L443.1 92.5L442.2 93.8L441.3 95.0L440.4 96.3L439.5 97.5L438.6 98.8L437.7 100.0L436.8 101.3L435.9 102.5L435.0 103.7L434.1 105.0L433.2 106.2L432.3 107.4L431.4 108.7L430.5 109.9L429.6 111.1L428.7 112.3L427.8 113.6L426.9 114.8L426.0 116.0L425.1 117.2L424.2 118.4L423.3 119.5L422.4 120.7L421.5 121.9L420.6 123.1L419.7 124.2L418.8 125.4L417.9 126.6L417.0 127.7L416.1 128.9L415.2 130.0L414.3 131.1L413.4 132.2L412.5 133.3L411.6 134.5L410.7 135.6L409.8 136.6L408.9 137.7L408.0 138.8L407.1 139.9L406.2 140.9L405.3 142.0L404.4 143.0L403.5 144.1L402.6 145.1L401.7 146.1L400.8 147.1L399.9 148.1L399.0 149.1L398.1 150.1L397.2 151.1L396.3 152.1L395.4 153.1L394.5 154.1L393.6 155.0L392.7 156.0L391.8 157.0L390.9 157.9L390.0 158.9L389.1 159.8L388.2 160.8L387.3 161.7L386.4 162.6L385.5 163.6L384.6 164.5L383.7 165.5L382.8 166.4L381.9 167.3L381.0 168.3L380.1 169.2L379.2 170.2L378.3 171.1L377.4 172.0L376.5 173.0L375.6 173.9L374.7 174.8L373.8 175.7L372.9 176.7L372.0 177.6L371.1 178.5L370.2 179.5L369.3 180.4L368.4 181.3L367.5 182.2L366.6 183.1L365.7 184.0L364.8 185.0L363.9 185.9L363.0 186.7L362.1 187.6L361.2 188.5L360.3 189.3L359.4 190.2L358.5 191.0L357.6 191.7L356.7 192.3L355.8 192.9ZM357.6 184.1L358.5 183.5L359.4 182.8L360.3 182.1L361.2 181.3L362.1 180.5L363.0 179.7L363.9 178.9L364.8 178.0L365.7 177.2L366.6 176.3L367.5 175.5L368.4 174.6L369.3 173.7L370.2 172.8L371.1 171.9L372.0 171.0L372.9 170.1L373.8 169.2L374.7 168.3L375.6 167.4L376.5 166.5L377.4 165.6L378.3 164.7L379.2 163.8L380.1 162.9L381.0 161.9L381.9 161.0L382.8 160.1L383.7 159.2L384.6 158.3L385.5 157.3L386.4 156.4L387.3 155.5L388.2 154.5L389.1 153.6L390.0 152.7L390.9 151.7L391.8 150.8L392.7 149.8L393.6 148.8L394.5 147.9L395.4 146.9L396.3 145.9L397.2 145.0L398.1 144.0L399.0 143.0L399.9 142.0L400.8 141.0L401.7 139.9L402.6 138.9L403.5 137.9L404.4 136.9L405.3 135.8L406.2 134.8L407.1 133.7L408.0 132.6L408.9 131.6L409.8 130.5L410.7 129.4L411.6 128.3L412.5 127.2L413.4 126.1L414.3 125.0L415.2 123.8L416.1 122.7L417.0 121.6L417.9 120.4L418.8 119.3L419.7 118.1L420.6 116.9L421.5 115.8L422.4 114.6L423.3 113.4L424.2 112.2L425.1 111.0L426.0 109.8L426.9 108.6L427.8 107.4L428.7 106.2L429.6 105.0L430.5 103.7L431.4 102.5L432.3 101.3L433.2 100.1L434.1 98.8L435.0 97.6L435.9 96.4L436.8 95.1L437.7 93.9L438.6 92.6L439.5 91.4L440.4 90.1L441.3 88.9L442.2 87.6L443.1 86.4L444.0 85.1L444.9 83.8L445.8 82.6L446.7 81.3L447.6 80.1L448.5 78.8L449.4 77.5L450.3 76.3L451.2 75.0L452.1 73.7L453.0 72.5L453.9 71.2L454.8 69.9L455.7 68.7L456.6 67.4L457.5 66.1L458.4 64.8L459.3 63.6L460.2 62.3L461.1 61.0L462.0 59.8L462.9 58.5L463.8 57.2L464.7 55.9L465.6 54.7L466.5 53.4L467.4 52.1L468.3 50.8L469.2 49.6L470.1 48.3L471.0 47.0L471.9 45.7L472.8 44.5L473.7 43.2L474.6 41.9L475.5 40.6L476.4 39.3L477.3 38.1L478.2 36.8L478.2 38.9L477.3 40.2L476.4 41.5L475.5 42.8L474.6 44.1L473.7 45.3L472.8 46.6L471.9 47.9L471.0 49.2L470.1 50.4L469.2 51.7L468.3 53.0L467.4 54.3L466.5 55.5L465.6 56.8L464.7 58.1L463.8 59.4L462.9 60.6L462.0 61.9L461.1 63.2L460.2 64.4L459.3 65.7L458.4 67.0L457.5 68.3L456.6 69.5L455.7 70.8L454.8 72.1L453.9 73.3L453.0 74.6L452.1 75.9L451.2 77.1L450.3 78.4L449.4 79.7L448.5 80.9L447.6 82.2L446.7 83.5L445.8 84.7L444.9 86.0L444.0 87.3L443.1 88.5L442.2 89.8L441.3 91.0L440.4 92.3L439.5 93.5L438.6 94.8L437.7 96.0L436.8 97.3L435.9 98.5L435.0 99.7L434.1 101.0L433.2 102.2L432.3 103.4L431.4 104.7L430.5 105.9L429.6 107.1L428.7 108.3L427.8 109.5L426.9 110.8L426.0 112.0L425.1 113.2L424.2 114.3L423.3 115.5L422.4 116.7L421.5 117.9L420.6 119.1L419.7 120.2L418.8 121.4L417.9 122.6L417.0 123.7L416.1 124.8L415.2 126.0L414.3 127.1L413.4 128.2L412.5 129.3L411.6 130.4L410.7 131.5L409.8 132.6L408.9 133.7L408.0 134.8L407.1 135.9L406.2 136.9L405.3 138.0L404.4 139.0L403.5 140.0L402.6 141.1L401.7 142.1L400.8 143.1L399.9 144.1L399.0 145.1L398.1 146.1L397.2 147.1L396.3 148.1L395.4 149.1L394.5 150.0L393.6 151.0L392.7 152.0L391.8 152.9L390.9 153.9L390.0 154.8L389.1 155.8L388.2 156.7L387.3 157.6L386.4 158.6L385.5 159.5L384.6 160.4L383.7 161.4L382.8 162.3L381.9 163.2L381.0 164.1L380.1 165.1L379.2 166.0L378.3 166.9L377.4 167.8L376.5 168.7L375.6 169.7L374.7 170.6L373.8 171.5L372.9 172.4L372.0 173.3L371.1 174.2L370.2 175.1L369.3 176.0L368.4 176.9L367.5 177.8L366.6 178.7L365.7 179.5L364.8 180.4L363.9 181.3L363.0 182.1L362.1 183.0L361.2 183.8L360.3 184.6L359.4 185.3L358.5 186.1L357.6 186.7ZM356.7 180.6L357.6 180.0L358.5 179.3L359.4 178.6L360.3 177.9L361.2 177.1L362.1 176.4L363.0 175.6L363.9 174.7L364.8 173.9L365.7 173.0L366.6 172.2L367.5 171.3L368.4 170.5L369.3 169.6L370.2 168.7L371.1 167.8L372.0 166.9L372.9 166.0L373.8 165.1L374.7 164.2L375.6 163.3L376.5 162.4L377.4 161.5L378.3 160.6L379.2 159.7L380.1 158.8L381.0 157.9L381.9 157.0L382.8 156.0L383.7 155.1L384.6 154.2L385.5 153.3L386.4 152.4L387.3 151.4L388.2 150.5L389.1 149.6L390.0 148.6L390.9 147.7L391.8 146.7L392.7 145.8L393.6 144.8L394.5 143.8L395.4 142.9L396.3 141.9L397.2 140.9L398.1 139.9L399.0 138.9L399.9 137.9L400.8 136.9L401.7 135.9L402.6 134.9L403.5 133.9L404.4 132.8L405.3 131.8L406.2 130.7L407.1 129.7L408.0 128.6L408.9 127.5L409.8 126.4L410.7 125.4L411.6 124.3L412.5 123.1L413.4 122.0L414.3 120.9L415.2 119.8L416.1 118.7L417.0 117.5L417.9 116.4L418.8 115.2L419.7 114.1L420.6 112.9L421.5 111.7L422.4 110.5L423.3 109.4L424.2 108.2L425.1 107.0L426.0 105.8L426.9 104.6L427.8 103.4L428.7 102.1L429.6 100.9L430.5 99.7L431.4 98.5L432.3 97.3L433.2 96.0L434.1 94.8L435.0 93.6L435.9 92.3L436.8 91.1L437.7 89.8L438.6 88.6L439.5 87.3L440.4 86.1L441.3 84.8L442.2 83.6L443.1 82.3L444.0 81.1L444.9 79.8L445.8 78.5L446.7 77.3L447.6 76.0L448.5 74.8L449.4 73.5L450.3 72.2L451.2 71.0L452.1 69.7L453.0 68.4L453.9 67.2L454.8 65.9L455.7 64.6L456.6 63.3L457.5 62.1L458.4 60.8L459.3 59.5L460.2 58.3L461.1 57.0L462.0 55.7L462.9 54.4L463.8 53.2L464.7 51.9L465.6 50.6L466.5 49.3L467.4 48.1L468.3 46.8L469.2 45.5L470.1 44.2L471.0 43.0L471.9 41.7L472.8 40.4L473.7 39.1L474.6 37.9L475.5 36.6L476.4 35.3L477.3 34.0L478.2 32.8L479.1 31.5L480.0 30.2L480.9 28.9L481.8 27.6L482.7 26.4L483.6 25.1L484.5 23.8L484.5 26.0L483.6 27.2L482.7 28.5L481.8 29.8L480.9 31.1L480.0 32.4L479.1 33.6L478.2 34.9L477.3 36.2L476.4 37.5L475.5 38.7L474.6 40.0L473.7 41.3L472.8 42.6L471.9 43.8L471.0 45.1L470.1 46.4L469.2 47.7L468.3 48.9L467.4 50.2L466.5 51.5L465.6 52.8L464.7 54.0L463.8 55.3L462.9 56.6L462.0 57.9L461.1 59.1L460.2 60.4L459.3 61.7L458.4 63.0L457.5 64.2L456.6 65.5L455.7 66.8L454.8 68.0L453.9 69.3L453.0 70.6L452.1 71.8L451.2 73.1L450.3 74.4L449.4 75.6L448.5 76.9L447.6 78.2L446.7 79.4L445.8 80.7L444.9 82.0L444.0 83.2L443.1 84.5L442.2 85.7L441.3 87.0L440.4 88.2L439.5 89.5L438.6 90.7L437.7 92.0L436.8 93.2L435.9 94.5L435.0 95.7L434.1 96.9L433.2 98.2L432.3 99.4L431.4 100.6L430.5 101.9L429.6 103.1L428.7 104.3L427.8 105.5L426.9 106.7L426.0 107.9L425.1 109.1L424.2 110.3L423.3 111.5L422.4 112.7L421.5 113.9L420.6 115.0L419.7 116.2L418.8 117.4L417.9 118.5L417.0 119.7L416.1 120.8L415.2 121.9L414.3 123.1L413.4 124.2L412.5 125.3L411.6 126.4L410.7 127.5L409.8 128.6L408.9 129.7L408.0 130.7L407.1 131.8L406.2 132.9L405.3 133.9L404.4 135.0L403.5 136.0L402.6 137.0L401.7 138.1L400.8 139.1L399.9 140.1L399.0 141.1L398.1 142.1L397.2 143.1L396.3 144.0L395.4 145.0L394.5 146.0L393.6 146.9L392.7 147.9L391.8 148.9L390.9 149.8L390.0 150.7L389.1 151.7L388.2 152.6L387.3 153.5L386.4 154.5L385.5 155.4L384.6 156.3L383.7 157.2L382.8 158.1L381.9 159.1L381.0 160.0L380.1 160.9L379.2 161.8L378.3 162.7L377.4 163.6L376.5 164.5L375.6 165.4L374.7 166.3L373.8 167.2L372.9 168.1L372.0 168.9L371.1 169.8L370.2 170.7L369.3 171.6L368.4 172.4L367.5 173.3L366.6 174.1L365.7 174.9L364.8 175.8L363.9 176.6L363.0 177.4L362.1 178.1L361.2 178.9L360.3 179.6L359.4 180.3L358.5 181.0L357.6 181.6L356.7 182.2ZM355.8 177.0L356.7 176.5L357.6 175.9L358.5 175.2L359.4 174.5L360.3 173.8L361.2 173.0L362.1 172.2L363.0 171.4L363.9 170.6L364.8 169.8L365.7 168.9L366.6 168.1L367.5 167.2L368.4 166.3L369.3 165.5L370.2 164.6L371.1 163.7L372.0 162.8L372.9 161.9L373.8 161.0L374.7 160.1L375.6 159.2L376.5 158.3L377.4 157.4L378.3 156.5L379.2 155.6L380.1 154.7L381.0 153.8L381.9 152.9L382.8 152.0L383.7 151.1L384.6 150.1L385.5 149.2L386.4 148.3L387.3 147.4L388.2 146.4L389.1 145.5L390.0 144.6L390.9 143.6L391.8 142.7L392.7 141.7L393.6 140.7L394.5 139.8L395.4 138.8L396.3 137.8L397.2 136.9L398.1 135.9L399.0 134.9L399.9 133.9L400.8 132.9L401.7 131.8L402.6 130.8L403.5 129.8L404.4 128.8L405.3 127.7L406.2 126.7L407.1 125.6L408.0 124.5L408.9 123.5L409.8 122.4L410.7 121.3L411.6 120.2L412.5 119.1L413.4 118.0L414.3 116.9L415.2 115.7L416.1 114.6L417.0 113.5L417.9 112.3L418.8 111.1L419.7 110.0L420.6 108.8L421.5 107.6L422.4 106.5L423.3 105.3L424.2 104.1L425.1 102.9L426.0 101.7L426.9 100.5L427.8 99.3L428.7 98.1L429.6 96.9L430.5 95.6L431.4 94.4L432.3 93.2L433.2 92.0L434.1 90.7L435.0 89.5L435.9 88.3L436.8 87.0L437.7 85.8L438.6 84.5L439.5 83.3L440.4 82.0L441.3 80.8L442.2 79.5L443.1 78.3L444.0 77.0L444.9 75.7L445.8 74.5L446.7 73.2L447.6 72.0L448.5 70.7L449.4 69.4L450.3 68.2L451.2 66.9L452.1 65.6L453.0 64.4L453.9 63.1L454.8 61.8L455.7 60.6L456.6 59.3L457.5 58.0L458.4 56.7L459.3 55.5L460.2 54.2L461.1 52.9L462.0 51.7L462.9 50.4L463.8 49.1L464.7 47.8L465.6 46.6L466.5 45.3L467.4 44.0L468.3 42.7L469.2 41.5L470.1 40.2L471.0 38.9L471.9 37.6L472.8 36.4L473.7 35.1L474.6 33.8L475.5 32.5L476.4 31.2L477.3 30.0L478.2 28.7L479.1 27.4L480.0 26.1L480.9 24.9L481.8 23.6L482.7 22.3L483.6 21.0L484.5 19.8L485.4 18.5L486.3 17.2L487.2 15.9L488.1 14.6L489.0 13.4L489.9 12.1L489.9 14.2L489.0 15.5L488.1 16.8L487.2 18.1L486.3 19.3L485.4 20.6L484.5 21.9L483.6 23.2L482.7 24.5L481.8 25.7L480.9 27.0L480.0 28.3L479.1 29.6L478.2 30.8L477.3 32.1L476.4 33.4L475.5 34.7L474.6 35.9L473.7 37.2L472.8 38.5L471.9 39.8L471.0 41.1L470.1 42.3L469.2 43.6L468.3 44.9L467.4 46.2L466.5 47.4L465.6 48.7L464.7 50.0L463.8 51.3L462.9 52.5L462.0 53.8L461.1 55.1L460.2 56.3L459.3 57.6L458.4 58.9L457.5 60.2L456.6 61.4L455.7 62.7L454.8 64.0L453.9 65.2L453.0 66.5L452.1 67.8L451.2 69.0L450.3 70.3L449.4 71.6L448.5 72.8L447.6 74.1L446.7 75.4L445.8 76.6L444.9 77.9L444.0 79.1L443.1 80.4L442.2 81.7L441.3 82.9L440.4 84.2L439.5 85.4L438.6 86.7L437.7 87.9L436.8 89.2L435.9 90.4L435.0 91.6L434.1 92.9L433.2 94.1L432.3 95.3L431.4 96.6L430.5 97.8L429.6 99.0L428.7 100.2L427.8 101.4L426.9 102.6L426.0 103.9L425.1 105.1L424.2 106.2L423.3 107.4L422.4 108.6L421.5 109.8L420.6 111.0L419.7 112.1L418.8 113.3L417.9 114.5L417.0 115.6L416.1 116.7L415.2 117.9L414.3 119.0L413.4 120.1L412.5 121.2L411.6 122.3L410.7 123.4L409.8 124.5L408.9 125.6L408.0 126.7L407.1 127.7L406.2 128.8L405.3 129.9L404.4 130.9L403.5 131.9L402.6 133.0L401.7 134.0L400.8 135.0L399.9 136.0L399.0 137.0L398.1 138.0L397.2 139.0L396.3 140.0L395.4 140.9L394.5 141.9L393.6 142.9L392.7 143.8L391.8 144.8L390.9 145.7L390.0 146.7L389.1 147.6L388.2 148.5L387.3 149.5L386.4 150.4L385.5 151.3L384.6 152.2L383.7 153.1L382.8 154.0L381.9 155.0L381.0 155.9L380.1 156.8L379.2 157.7L378.3 158.6L377.4 159.4L376.5 160.3L375.6 161.2L374.7 162.1L373.8 163.0L372.9 163.9L372.0 164.7L371.1 165.6L370.2 166.5L369.3 167.3L368.4 168.2L367.5 169.0L366.6 169.8L365.7 170.7L364.8 171.5L363.9 172.3L363.0 173.0L362.1 173.8L361.2 174.5L360.3 175.2L359.4 175.9L358.5 176.5L357.6 177.2L356.7 177.8L355.8 178.3ZM355.8 206.1L356.7 205.5L357.6 204.9L358.5 204.2L359.4 203.5L360.3 202.8L361.2 202.0L362.1 201.2L363.0 200.4L363.9 199.5L364.8 198.7L365.7 197.8L366.6 197.0L367.5 196.1L368.4 195.2L369.3 194.3L370.2 193.4L371.1 192.5L372.0 191.5L372.9 190.6L373.8 189.7L374.7 188.8L375.6 187.8L376.5 186.9L377.4 186.0L378.3 185.0L379.2 184.1L380.1 183.1L381.0 182.2L381.9 181.2L382.8 180.2L383.7 179.3L384.6 178.3L385.5 177.4L386.4 176.4L387.3 175.4L388.2 174.4L389.1 173.5L390.0 172.5L390.9 171.5L391.8 170.5L392.7 169.5L393.6 168.5L394.5 167.5L395.4 166.5L396.3 165.5L397.2 164.5L398.1 163.5L399.0 162.5L399.9 161.5L400.8 160.5L401.7 159.5L402.6 158.4L403.5 157.4L404.4 156.4L405.3 155.3L406.2 154.3L407.1 153.2L408.0 152.1L408.9 151.1L409.8 150.0L410.7 148.9L411.6 147.8L412.5 146.7L413.4 145.6L414.3 144.5L415.2 143.3L416.1 142.2L417.0 141.1L417.9 139.9L418.8 138.8L419.7 137.6L420.6 136.4L421.5 135.3L422.4 134.1L423.3 132.9L424.2 131.7L425.1 130.5L426.0 129.3L426.9 128.1L427.8 126.9L428.7 125.7L429.6 124.5L430.5 123.3L431.4 122.0L432.3 120.8L433.2 119.6L434.1 118.3L435.0 117.1L435.9 115.9L436.8 114.6L437.7 113.4L438.6 112.1L439.5 110.9L440.4 109.6L441.3 108.4L442.2 107.1L443.1 105.9L444.0 104.6L444.9 103.4L445.8 102.1L446.7 100.8L447.6 99.6L448.5 98.3L449.4 97.0L449.4 99.2L448.5 100.4L447.6 101.7L446.7 103.0L445.8 104.2L444.9 105.5L444.0 106.8L443.1 108.0L442.2 109.3L441.3 110.5L440.4 111.8L439.5 113.0L438.6 114.3L437.7 115.5L436.8 116.8L435.9 118.0L435.0 119.3L434.1 120.5L433.2 121.7L432.3 123.0L431.4 124.2L430.5 125.4L429.6 126.6L428.7 127.8L427.8 129.1L426.9 130.3L426.0 131.5L425.1 132.7L424.2 133.9L423.3 135.1L422.4 136.2L421.5 137.4L420.6 138.6L419.7 139.8L418.8 140.9L417.9 142.1L417.0 143.2L416.1 144.4L415.2 145.5L414.3 146.6L413.4 147.7L412.5 148.9L411.6 150.0L410.7 151.1L409.8 152.1L408.9 153.2L408.0 154.3L407.1 155.4L406.2 156.4L405.3 157.5L404.4 158.5L403.5 159.6L402.6 160.6L401.7 161.6L400.8 162.6L399.9 163.7L399.0 164.7L398.1 165.7L397.2 166.7L396.3 167.7L395.4 168.7L394.5 169.7L393.6 170.7L392.7 171.7L391.8 172.7L390.9 173.7L390.0 174.7L389.1 175.7L388.2 176.7L387.3 177.6L386.4 178.6L385.5 179.6L384.6 180.6L383.7 181.5L382.8 182.5L381.9 183.5L381.0 184.4L380.1 185.4L379.2 186.4L378.3 187.3L377.4 188.3L376.5 189.2L375.6 190.2L374.7 191.1L373.8 192.1L372.9 193.0L372.0 194.0L371.1 194.9L370.2 195.9L369.3 196.8L368.4 197.8L367.5 198.7L366.6 199.6L365.7 200.6L364.8 201.5L363.9 202.4L363.0 203.3L362.1 204.2L361.2 205.1L360.3 205.9L359.4 206.8L358.5 207.6L357.6 208.3L356.7 208.9L355.8 209.5ZM357.6 200.7L358.5 200.1L359.4 199.4L360.3 198.6L361.2 197.9L362.1 197.1L363.0 196.2L363.9 195.4L364.8 194.6L365.7 193.7L366.6 192.8L367.5 192.0L368.4 191.1L369.3 190.2L370.2 189.3L371.1 188.4L372.0 187.4L372.9 186.5L373.8 185.6L374.7 184.7L375.6 183.8L376.5 182.8L377.4 181.9L378.3 181.0L379.2 180.0L380.1 179.1L381.0 178.1L381.9 177.2L382.8 176.2L383.7 175.3L384.6 174.3L385.5 173.4L386.4 172.4L387.3 171.5L388.2 170.5L389.1 169.5L390.0 168.6L390.9 167.6L391.8 166.6L392.7 165.6L393.6 164.7L394.5 163.7L395.4 162.7L396.3 161.7L397.2 160.7L398.1 159.7L399.0 158.7L399.9 157.7L400.8 156.7L401.7 155.7L402.6 154.7L403.5 153.6L404.4 152.6L405.3 151.6L406.2 150.5L407.1 149.4L408.0 148.4L408.9 147.3L409.8 146.2L410.7 145.1L411.6 144.0L412.5 142.9L413.4 141.8L414.3 140.7L415.2 139.6L416.1 138.4L417.0 137.3L417.9 136.1L418.8 135.0L419.7 133.8L420.6 132.7L421.5 131.5L422.4 130.3L423.3 129.1L424.2 127.9L425.1 126.7L426.0 125.5L426.9 124.3L427.8 123.1L428.7 121.9L429.6 120.7L430.5 119.5L431.4 118.3L432.3 117.0L433.2 115.8L434.1 114.6L435.0 113.3L435.9 112.1L436.8 110.9L437.7 109.6L438.6 108.4L439.5 107.1L440.4 105.9L441.3 104.6L442.2 103.4L443.1 102.1L444.0 100.8L444.9 99.6L445.8 98.3L446.7 97.1L447.6 95.8L448.5 94.5L449.4 93.3L450.3 92.0L451.2 90.7L452.1 89.5L453.0 88.2L453.9 86.9L454.8 85.6L454.8 87.8L453.9 89.1L453.0 90.4L452.1 91.6L451.2 92.9L450.3 94.2L449.4 95.4L448.5 96.7L447.6 97.9L446.7 99.2L445.8 100.5L444.9 101.7L444.0 103.0L443.1 104.2L442.2 105.5L441.3 106.8L440.4 108.0L439.5 109.3L438.6 110.5L437.7 111.8L436.8 113.0L435.9 114.2L435.0 115.5L434.1 116.7L433.2 118.0L432.3 119.2L431.4 120.4L430.5 121.6L429.6 122.9L428.7 124.1L427.8 125.3L426.9 126.5L426.0 127.7L425.1 128.9L424.2 130.1L423.3 131.3L422.4 132.5L421.5 133.6L420.6 134.8L419.7 136.0L418.8 137.1L417.9 138.3L417.0 139.4L416.1 140.6L415.2 141.7L414.3 142.8L413.4 144.0L412.5 145.1L411.6 146.2L410.7 147.3L409.8 148.4L408.9 149.5L408.0 150.5L407.1 151.6L406.2 152.7L405.3 153.7L404.4 154.8L403.5 155.8L402.6 156.8L401.7 157.8L400.8 158.9L399.9 159.9L399.0 160.9L398.1 161.9L397.2 162.9L396.3 163.9L395.4 164.8L394.5 165.8L393.6 166.8L392.7 167.8L391.8 168.8L390.9 169.8L390.0 170.7L389.1 171.7L388.2 172.7L387.3 173.6L386.4 174.6L385.5 175.6L384.6 176.5L383.7 177.5L382.8 178.4L381.9 179.4L381.0 180.3L380.1 181.3L379.2 182.2L378.3 183.2L377.4 184.1L376.5 185.1L375.6 186.0L374.7 186.9L373.8 187.9L372.9 188.8L372.0 189.7L371.1 190.6L370.2 191.5L369.3 192.5L368.4 193.4L367.5 194.3L366.6 195.2L365.7 196.1L364.8 196.9L363.9 197.8L363.0 198.7L362.1 199.5L361.2 200.3L360.3 201.1L359.4 201.9L358.5 202.7L357.6 203.3ZM356.7 197.2L357.6 196.6L358.5 195.9L359.4 195.2L360.3 194.5L361.2 193.7L362.1 192.9L363.0 192.1L363.9 191.3L364.8 190.4L365.7 189.6L366.6 188.7L367.5 187.8L368.4 186.9L369.3 186.1L370.2 185.2L371.1 184.3L372.0 183.4L372.9 182.4L373.8 181.5L374.7 180.6L375.6 179.7L376.5 178.8L377.4 177.8L378.3 176.9L379.2 176.0L380.1 175.0L381.0 174.1L381.9 173.2L382.8 172.2L383.7 171.3L384.6 170.3L385.5 169.4L386.4 168.4L387.3 167.5L388.2 166.5L389.1 165.6L390.0 164.6L390.9 163.7L391.8 162.7L392.7 161.7L393.6 160.8L394.5 159.8L395.4 158.8L396.3 157.8L397.2 156.8L398.1 155.9L399.0 154.9L399.9 153.9L400.8 152.8L401.7 151.8L402.6 150.8L403.5 149.8L404.4 148.7L405.3 147.7L406.2 146.6L407.1 145.6L408.0 144.5L408.9 143.4L409.8 142.4L410.7 141.3L411.6 140.2L412.5 139.1L413.4 138.0L414.3 136.8L415.2 135.7L416.1 134.6L417.0 133.4L417.9 132.3L418.8 131.1L419.7 130.0L420.6 128.8L421.5 127.6L422.4 126.5L423.3 125.3L424.2 124.1L425.1 122.9L426.0 121.7L426.9 120.5L427.8 119.3L428.7 118.1L429.6 116.9L430.5 115.6L431.4 114.4L432.3 113.2L433.2 112.0L434.1 110.7L435.0 109.5L435.9 108.2L436.8 107.0L437.7 105.8L438.6 104.5L439.5 103.3L440.4 102.0L441.3 100.8L442.2 99.5L443.1 98.2L444.0 97.0L444.9 95.7L445.8 94.5L446.7 93.2L447.6 91.9L448.5 90.7L449.4 89.4L450.3 88.2L451.2 86.9L452.1 85.6L453.0 84.4L453.9 83.1L454.8 81.8L455.7 80.5L456.6 79.3L457.5 78.0L458.4 76.7L459.3 75.5L460.2 74.2L461.1 72.9L461.1 75.0L460.2 76.3L459.3 77.6L458.4 78.9L457.5 80.2L456.6 81.4L455.7 82.7L454.8 84.0L453.9 85.2L453.0 86.5L452.1 87.8L451.2 89.0L450.3 90.3L449.4 91.6L448.5 92.8L447.6 94.1L446.7 95.4L445.8 96.6L444.9 97.9L444.0 99.1L443.1 100.4L442.2 101.7L441.3 102.9L440.4 104.2L439.5 105.4L438.6 106.7L437.7 107.9L436.8 109.1L435.9 110.4L435.0 111.6L434.1 112.9L433.2 114.1L432.3 115.3L431.4 116.6L430.5 117.8L429.6 119.0L428.7 120.2L427.8 121.4L426.9 122.6L426.0 123.8L425.1 125.0L424.2 126.2L423.3 127.4L422.4 128.6L421.5 129.8L420.6 131.0L419.7 132.1L418.8 133.3L417.9 134.4L417.0 135.6L416.1 136.7L415.2 137.9L414.3 139.0L413.4 140.1L412.5 141.2L411.6 142.3L410.7 143.4L409.8 144.5L408.9 145.6L408.0 146.7L407.1 147.7L406.2 148.8L405.3 149.8L404.4 150.9L403.5 151.9L402.6 153.0L401.7 154.0L400.8 155.0L399.9 156.0L399.0 157.0L398.1 158.0L397.2 159.0L396.3 160.0L395.4 160.9L394.5 161.9L393.6 162.9L392.7 163.9L391.8 164.8L390.9 165.8L390.0 166.7L389.1 167.7L388.2 168.7L387.3 169.6L386.4 170.6L385.5 171.5L384.6 172.5L383.7 173.4L382.8 174.3L381.9 175.3L381.0 176.2L380.1 177.1L379.2 178.1L378.3 179.0L377.4 179.9L376.5 180.8L375.6 181.7L374.7 182.7L373.8 183.6L372.9 184.5L372.0 185.4L371.1 186.3L370.2 187.1L369.3 188.0L368.4 188.9L367.5 189.8L366.6 190.6L365.7 191.5L364.8 192.3L363.9 193.1L363.0 193.9L362.1 194.7L361.2 195.5L360.3 196.2L359.4 196.9L358.5 197.6L357.6 198.2L356.7 198.8ZM355.8 193.6L356.7 193.1L357.6 192.4L358.5 191.8L359.4 191.1L360.3 190.3L361.2 189.6L362.1 188.8L363.0 188.0L363.9 187.1L364.8 186.3L365.7 185.4L366.6 184.6L367.5 183.7L368.4 182.8L369.3 181.9L370.2 181.1L371.1 180.2L372.0 179.3L372.9 178.3L373.8 177.4L374.7 176.5L375.6 175.6L376.5 174.7L377.4 173.8L378.3 172.8L379.2 171.9L380.1 171.0L381.0 170.1L381.9 169.1L382.8 168.2L383.7 167.3L384.6 166.3L385.5 165.4L386.4 164.4L387.3 163.5L388.2 162.5L389.1 161.6L390.0 160.6L390.9 159.7L391.8 158.7L392.7 157.8L393.6 156.8L394.5 155.9L395.4 154.9L396.3 153.9L397.2 152.9L398.1 151.9L399.0 150.9L399.9 149.9L400.8 148.9L401.7 147.9L402.6 146.9L403.5 145.9L404.4 144.8L405.3 143.8L406.2 142.7L407.1 141.7L408.0 140.6L408.9 139.5L409.8 138.5L410.7 137.4L411.6 136.3L412.5 135.2L413.4 134.0L414.3 132.9L415.2 131.8L416.1 130.7L417.0 129.5L417.9 128.4L418.8 127.2L419.7 126.1L420.6 124.9L421.5 123.7L422.4 122.5L423.3 121.4L424.2 120.2L425.1 119.0L426.0 117.8L426.9 116.6L427.8 115.4L428.7 114.2L429.6 112.9L430.5 111.7L431.4 110.5L432.3 109.3L433.2 108.0L434.1 106.8L435.0 105.6L435.9 104.3L436.8 103.1L437.7 101.8L438.6 100.6L439.5 99.3L440.4 98.1L441.3 96.8L442.2 95.6L443.1 94.3L444.0 93.1L444.9 91.8L445.8 90.6L446.7 89.3L447.6 88.0L448.5 86.8L449.4 85.5L450.3 84.2L451.2 83.0L452.1 81.7L453.0 80.4L453.9 79.2L454.8 77.9L455.7 76.6L456.6 75.4L457.5 74.1L458.4 72.8L459.3 71.5L460.2 70.3L461.1 69.0L462.0 67.7L462.9 66.5L463.8 65.2L464.7 63.9L465.6 62.6L466.5 61.3L466.5 63.5L465.6 64.8L464.7 66.1L463.8 67.3L462.9 68.6L462.0 69.9L461.1 71.1L460.2 72.4L459.3 73.7L458.4 75.0L457.5 76.2L456.6 77.5L455.7 78.8L454.8 80.0L453.9 81.3L453.0 82.6L452.1 83.9L451.2 85.1L450.3 86.4L449.4 87.7L448.5 88.9L447.6 90.2L446.7 91.4L445.8 92.7L444.9 94.0L444.0 95.2L443.1 96.5L442.2 97.7L441.3 99.0L440.4 100.2L439.5 101.5L438.6 102.7L437.7 104.0L436.8 105.2L435.9 106.5L435.0 107.7L434.1 109.0L433.2 110.2L432.3 111.4L431.4 112.6L430.5 113.9L429.6 115.1L428.7 116.3L427.8 117.5L426.9 118.7L426.0 119.9L425.1 121.1L424.2 122.3L423.3 123.5L422.4 124.7L421.5 125.9L420.6 127.0L419.7 128.2L418.8 129.4L417.9 130.5L417.0 131.7L416.1 132.8L415.2 133.9L414.3 135.1L413.4 136.2L412.5 137.3L411.6 138.4L410.7 139.5L409.8 140.6L408.9 141.7L408.0 142.8L407.1 143.8L406.2 144.9L405.3 145.9L404.4 147.0L403.5 148.0L402.6 149.0L401.7 150.1L400.8 151.1L399.9 152.1L399.0 153.1L398.1 154.1L397.2 155.1L396.3 156.0L395.4 157.0L394.5 158.0L393.6 158.9L392.7 159.9L391.8 160.9L390.9 161.8L390.0 162.8L389.1 163.7L388.2 164.7L387.3 165.6L386.4 166.5L385.5 167.5L384.6 168.4L383.7 169.3L382.8 170.3L381.9 171.2L381.0 172.1L380.1 173.1L379.2 174.0L378.3 174.9L377.4 175.8L376.5 176.7L375.6 177.6L374.7 178.5L373.8 179.4L372.9 180.3L372.0 181.2L371.1 182.1L370.2 182.9L369.3 183.8L368.4 184.7L367.5 185.5L366.6 186.4L365.7 187.2L364.8 188.0L363.9 188.8L363.0 189.6L362.1 190.4L361.2 191.1L360.3 191.8L359.4 192.5L358.5 193.1L357.6 193.7L356.7 194.4L355.8 194.9ZM355.8 222.7L356.7 222.1L357.6 221.5L358.5 220.9L359.4 220.2L360.3 219.4L361.2 218.7L362.1 217.9L363.0 217.0L363.9 216.2L364.8 215.3L365.7 214.4L366.6 213.5L367.5 212.6L368.4 211.7L369.3 210.8L370.2 209.8L371.1 208.9L372.0 208.0L372.9 207.0L373.8 206.0L374.7 205.1L375.6 204.1L376.5 203.1L377.4 202.2L378.3 201.2L379.2 200.2L380.1 199.2L381.0 198.2L381.9 197.2L382.8 196.2L383.7 195.2L384.6 194.2L385.5 193.2L386.4 192.2L387.3 191.1L388.2 190.1L389.1 189.1L390.0 188.0L390.9 187.0L391.8 186.0L392.7 184.9L393.6 183.9L394.5 182.8L395.4 181.7L396.3 180.7L397.2 179.6L398.1 178.5L399.0 177.5L399.9 176.4L400.8 175.3L401.7 174.2L402.6 173.1L403.5 172.0L404.4 170.9L405.3 169.8L406.2 168.6L407.1 167.5L408.0 166.4L408.9 165.3L409.8 164.1L410.7 163.0L411.6 161.8L412.5 160.7L413.4 159.5L414.3 158.3L415.2 157.2L416.1 156.0L417.0 154.8L417.9 153.6L418.8 152.4L419.7 151.2L420.6 150.0L421.5 148.8L422.4 147.6L423.3 146.3L424.2 145.1L425.1 143.9L426.0 142.6L426.9 141.4L427.8 140.1L428.7 138.8L429.6 137.6L430.5 136.3L431.4 135.0L431.4 137.2L430.5 138.4L429.6 139.7L428.7 141.0L427.8 142.2L426.9 143.5L426.0 144.8L425.1 146.0L424.2 147.3L423.3 148.5L422.4 149.7L421.5 150.9L420.6 152.1L419.7 153.4L418.8 154.6L417.9 155.8L417.0 157.0L416.1 158.1L415.2 159.3L414.3 160.5L413.4 161.7L412.5 162.8L411.6 164.0L410.7 165.1L409.8 166.3L408.9 167.4L408.0 168.5L407.1 169.7L406.2 170.8L405.3 171.9L404.4 173.0L403.5 174.1L402.6 175.3L401.7 176.4L400.8 177.4L399.9 178.5L399.0 179.6L398.1 180.7L397.2 181.8L396.3 182.9L395.4 183.9L394.5 185.0L393.6 186.0L392.7 187.1L391.8 188.2L390.9 189.2L390.0 190.2L389.1 191.3L388.2 192.3L387.3 193.4L386.4 194.4L385.5 195.4L384.6 196.4L383.7 197.5L382.8 198.5L381.9 199.5L381.0 200.5L380.1 201.5L379.2 202.5L378.3 203.5L377.4 204.5L376.5 205.5L375.6 206.5L374.7 207.5L373.8 208.5L372.9 209.4L372.0 210.4L371.1 211.4L370.2 212.4L369.3 213.3L368.4 214.3L367.5 215.3L366.6 216.2L365.7 217.2L364.8 218.1L363.9 219.0L363.0 219.9L362.1 220.8L361.2 221.7L360.3 222.6L359.4 223.4L358.5 224.2L357.6 224.9L356.7 225.5L355.8 226.1ZM357.6 217.4L358.5 216.7L359.4 216.0L360.3 215.2L361.2 214.5L362.1 213.6L363.0 212.8L363.9 212.0L364.8 211.1L365.7 210.2L366.6 209.3L367.5 208.4L368.4 207.5L369.3 206.6L370.2 205.7L371.1 204.7L372.0 203.8L372.9 202.9L373.8 201.9L374.7 201.0L375.6 200.0L376.5 199.0L377.4 198.1L378.3 197.1L379.2 196.1L380.1 195.1L381.0 194.2L381.9 193.2L382.8 192.2L383.7 191.2L384.6 190.2L385.5 189.2L386.4 188.2L387.3 187.2L388.2 186.2L389.1 185.2L390.0 184.1L390.9 183.1L391.8 182.1L392.7 181.1L393.6 180.0L394.5 179.0L395.4 177.9L396.3 176.9L397.2 175.8L398.1 174.8L399.0 173.7L399.9 172.7L400.8 171.6L401.7 170.5L402.6 169.4L403.5 168.4L404.4 167.3L405.3 166.2L406.2 165.1L407.1 164.0L408.0 162.9L408.9 161.8L409.8 160.7L410.7 159.5L411.6 158.4L412.5 157.3L413.4 156.1L414.3 155.0L415.2 153.8L416.1 152.7L417.0 151.5L417.9 150.4L418.8 149.2L419.7 148.0L420.6 146.8L421.5 145.7L422.4 144.5L423.3 143.3L424.2 142.1L425.1 140.8L426.0 139.6L426.9 138.4L427.8 137.2L428.7 135.9L429.6 134.7L430.5 133.4L431.4 132.2L432.3 130.9L433.2 129.7L434.1 128.4L435.0 127.1L435.9 125.8L435.9 128.0L435.0 129.2L434.1 130.5L433.2 131.8L432.3 133.1L431.4 134.3L430.5 135.6L429.6 136.8L428.7 138.1L427.8 139.3L426.9 140.5L426.0 141.8L425.1 143.0L424.2 144.2L423.3 145.4L422.4 146.6L421.5 147.8L420.6 149.0L419.7 150.2L418.8 151.3L417.9 152.5L417.0 153.7L416.1 154.8L415.2 156.0L414.3 157.1L413.4 158.3L412.5 159.4L411.6 160.6L410.7 161.7L409.8 162.8L408.9 163.9L408.0 165.0L407.1 166.1L406.2 167.2L405.3 168.3L404.4 169.4L403.5 170.5L402.6 171.6L401.7 172.7L400.8 173.8L399.9 174.8L399.0 175.9L398.1 176.9L397.2 178.0L396.3 179.1L395.4 180.1L394.5 181.1L393.6 182.2L392.7 183.2L391.8 184.3L390.9 185.3L390.0 186.3L389.1 187.3L388.2 188.3L387.3 189.4L386.4 190.4L385.5 191.4L384.6 192.4L383.7 193.4L382.8 194.4L381.9 195.4L381.0 196.4L380.1 197.3L379.2 198.3L378.3 199.3L377.4 200.3L376.5 201.3L375.6 202.2L374.7 203.2L373.8 204.2L372.9 205.1L372.0 206.1L371.1 207.0L370.2 208.0L369.3 208.9L368.4 209.8L367.5 210.8L366.6 211.7L365.7 212.6L364.8 213.5L363.9 214.4L363.0 215.2L362.1 216.1L361.2 216.9L360.3 217.7L359.4 218.5L358.5 219.3L357.6 220.0ZM356.7 213.8L357.6 213.2L358.5 212.5L359.4 211.8L360.3 211.1L361.2 210.3L362.1 209.5L363.0 208.6L363.9 207.8L364.8 206.9L365.7 206.1L366.6 205.2L367.5 204.3L368.4 203.4L369.3 202.5L370.2 201.6L371.1 200.6L372.0 199.7L372.9 198.8L373.8 197.8L374.7 196.9L375.6 195.9L376.5 195.0L377.4 194.0L378.3 193.1L379.2 192.1L380.1 191.1L381.0 190.2L381.9 189.2L382.8 188.2L383.7 187.2L384.6 186.2L385.5 185.2L386.4 184.3L387.3 183.3L388.2 182.3L389.1 181.3L390.0 180.3L390.9 179.3L391.8 178.2L392.7 177.2L393.6 176.2L394.5 175.2L395.4 174.2L396.3 173.1L397.2 172.1L398.1 171.1L399.0 170.0L399.9 169.0L400.8 167.9L401.7 166.9L402.6 165.8L403.5 164.7L404.4 163.7L405.3 162.6L406.2 161.5L407.1 160.4L408.0 159.4L408.9 158.3L409.8 157.2L410.7 156.1L411.6 155.0L412.5 153.9L413.4 152.7L414.3 151.6L415.2 150.5L416.1 149.4L417.0 148.2L417.9 147.1L418.8 145.9L419.7 144.8L420.6 143.6L421.5 142.4L422.4 141.2L423.3 140.1L424.2 138.9L425.1 137.7L426.0 136.5L426.9 135.3L427.8 134.1L428.7 132.8L429.6 131.6L430.5 130.4L431.4 129.2L432.3 128.0L433.2 126.7L434.1 125.5L435.0 124.2L435.9 123.0L436.8 121.7L437.7 120.4L438.6 119.1L439.5 117.9L439.5 120.0L438.6 121.3L437.7 122.6L436.8 123.8L435.9 125.1L435.0 126.4L434.1 127.6L433.2 128.9L432.3 130.1L431.4 131.3L430.5 132.6L429.6 133.8L428.7 135.0L427.8 136.2L426.9 137.4L426.0 138.6L425.1 139.8L424.2 141.0L423.3 142.2L422.4 143.4L421.5 144.6L420.6 145.7L419.7 146.9L418.8 148.1L417.9 149.2L417.0 150.4L416.1 151.5L415.2 152.6L414.3 153.8L413.4 154.9L412.5 156.0L411.6 157.1L410.7 158.2L409.8 159.3L408.9 160.4L408.0 161.5L407.1 162.6L406.2 163.7L405.3 164.7L404.4 165.8L403.5 166.9L402.6 167.9L401.7 169.0L400.8 170.1L399.9 171.1L399.0 172.1L398.1 173.2L397.2 174.2L396.3 175.3L395.4 176.3L394.5 177.3L393.6 178.3L392.7 179.4L391.8 180.4L390.9 181.4L390.0 182.4L389.1 183.4L388.2 184.4L387.3 185.4L386.4 186.4L385.5 187.4L384.6 188.3L383.7 189.3L382.8 190.3L381.9 191.3L381.0 192.2L380.1 193.2L379.2 194.2L378.3 195.1L377.4 196.1L376.5 197.0L375.6 198.0L374.7 198.9L373.8 199.9L372.9 200.8L372.0 201.7L371.1 202.6L370.2 203.5L369.3 204.4L368.4 205.3L367.5 206.2L366.6 207.1L365.7 208.0L364.8 208.8L363.9 209.6L363.0 210.5L362.1 211.3L361.2 212.0L360.3 212.8L359.4 213.5L358.5 214.1L357.6 214.8L356.7 215.4ZM355.8 210.2L356.7 209.7L357.6 209.0L358.5 208.4L359.4 207.7L360.3 206.9L361.2 206.1L362.1 205.3L363.0 204.5L363.9 203.7L364.8 202.8L365.7 202.0L366.6 201.1L367.5 200.2L368.4 199.3L369.3 198.4L370.2 197.5L371.1 196.5L372.0 195.6L372.9 194.7L373.8 193.8L374.7 192.8L375.6 191.9L376.5 190.9L377.4 190.0L378.3 189.0L379.2 188.1L380.1 187.1L381.0 186.2L381.9 185.2L382.8 184.2L383.7 183.3L384.6 182.3L385.5 181.3L386.4 180.3L387.3 179.4L388.2 178.4L389.1 177.4L390.0 176.4L390.9 175.4L391.8 174.4L392.7 173.4L393.6 172.4L394.5 171.4L395.4 170.4L396.3 169.3L397.2 168.3L398.1 167.3L399.0 166.3L399.9 165.3L400.8 164.2L401.7 163.2L402.6 162.1L403.5 161.1L404.4 160.0L405.3 159.0L406.2 157.9L407.1 156.9L408.0 155.8L408.9 154.7L409.8 153.6L410.7 152.6L411.6 151.5L412.5 150.4L413.4 149.2L414.3 148.1L415.2 147.0L416.1 145.9L417.0 144.7L417.9 143.6L418.8 142.4L419.7 141.3L420.6 140.1L421.5 138.9L422.4 137.7L423.3 136.6L424.2 135.4L425.1 134.2L426.0 133.0L426.9 131.8L427.8 130.6L428.7 129.3L429.6 128.1L430.5 126.9L431.4 125.7L432.3 124.5L433.2 123.2L434.1 122.0L435.0 120.8L435.9 119.5L436.8 118.3L437.7 117.0L438.6 115.8L439.5 114.5L440.4 113.3L441.3 112.0L442.2 110.8L443.1 109.5L444.0 108.2L444.9 106.9L444.9 109.1L444.0 110.3L443.1 111.6L442.2 112.9L441.3 114.2L440.4 115.4L439.5 116.7L438.6 117.9L437.7 119.2L436.8 120.4L435.9 121.7L435.0 122.9L434.1 124.1L433.2 125.4L432.3 126.6L431.4 127.8L430.5 129.1L429.6 130.3L428.7 131.5L427.8 132.7L426.9 133.9L426.0 135.1L425.1 136.3L424.2 137.5L423.3 138.7L422.4 139.9L421.5 141.1L420.6 142.2L419.7 143.4L418.8 144.6L417.9 145.7L417.0 146.9L416.1 148.0L415.2 149.1L414.3 150.3L413.4 151.4L412.5 152.5L411.6 153.6L410.7 154.7L409.8 155.8L408.9 156.9L408.0 157.9L407.1 159.0L406.2 160.1L405.3 161.1L404.4 162.2L403.5 163.2L402.6 164.3L401.7 165.3L400.8 166.4L399.9 167.4L399.0 168.4L398.1 169.4L397.2 170.5L396.3 171.5L395.4 172.5L394.5 173.5L393.6 174.5L392.7 175.5L391.8 176.5L390.9 177.5L390.0 178.5L389.1 179.5L388.2 180.5L387.3 181.5L386.4 182.4L385.5 183.4L384.6 184.4L383.7 185.4L382.8 186.3L381.9 187.3L381.0 188.2L380.1 189.2L379.2 190.1L378.3 191.1L377.4 192.0L376.5 193.0L375.6 193.9L374.7 194.8L373.8 195.7L372.9 196.7L372.0 197.6L371.1 198.5L370.2 199.4L369.3 200.3L368.4 201.1L367.5 202.0L366.6 202.9L365.7 203.7L364.8 204.5L363.9 205.4L363.0 206.2L362.1 206.9L361.2 207.7L360.3 208.4L359.4 209.1L358.5 209.7L357.6 210.3L356.7 211.0L355.8 211.5ZM355.8 239.3L356.7 238.8L357.6 238.2L358.5 237.6L359.4 236.9L360.3 236.2L361.2 235.4L362.1 234.7L363.0 233.8L363.9 233.0L364.8 232.2L365.7 231.3L366.6 230.4L367.5 229.4L368.4 228.5L369.3 227.6L370.2 226.6L371.1 225.6L372.0 224.6L372.9 223.6L373.8 222.6L374.7 221.6L375.6 220.6L376.5 219.6L377.4 218.5L378.3 217.5L379.2 216.5L380.1 215.4L381.0 214.3L381.9 213.3L382.8 212.2L383.7 211.1L384.6 210.0L385.5 209.0L386.4 207.9L387.3 206.8L388.2 205.7L389.1 204.5L390.0 203.4L390.9 202.3L391.8 201.2L392.7 200.0L393.6 198.9L394.5 197.7L395.4 196.6L396.3 195.4L397.2 194.3L398.1 193.1L399.0 191.9L399.9 190.7L400.8 189.6L401.7 188.4L402.6 187.2L403.5 186.0L404.4 184.7L405.3 183.5L406.2 182.3L407.1 181.1L408.0 179.8L408.9 178.6L409.8 177.3L410.7 176.1L411.6 174.8L412.5 173.5L413.4 172.2L414.3 171.0L414.3 173.1L413.4 174.4L412.5 175.7L411.6 177.0L410.7 178.2L409.8 179.5L408.9 180.7L408.0 182.0L407.1 183.2L406.2 184.5L405.3 185.7L404.4 186.9L403.5 188.1L402.6 189.3L401.7 190.5L400.8 191.7L399.9 192.9L399.0 194.1L398.1 195.3L397.2 196.4L396.3 197.6L395.4 198.8L394.5 199.9L393.6 201.1L392.7 202.2L391.8 203.4L390.9 204.5L390.0 205.6L389.1 206.7L388.2 207.9L387.3 209.0L386.4 210.1L385.5 211.2L384.6 212.3L383.7 213.4L382.8 214.5L381.9 215.5L381.0 216.6L380.1 217.7L379.2 218.8L378.3 219.8L377.4 220.9L376.5 221.9L375.6 223.0L374.7 224.0L373.8 225.0L372.9 226.1L372.0 227.1L371.1 228.1L370.2 229.1L369.3 230.1L368.4 231.1L367.5 232.1L366.6 233.0L365.7 234.0L364.8 234.9L363.9 235.9L363.0 236.8L362.1 237.6L361.2 238.5L360.3 239.3L359.4 240.1L358.5 240.9L357.6 241.6L356.7 242.2L355.8 242.7ZM357.6 234.0L358.5 233.4L359.4 232.7L360.3 232.0L361.2 231.3L362.1 230.5L363.0 229.7L363.9 228.8L364.8 228.0L365.7 227.1L366.6 226.2L367.5 225.3L368.4 224.3L369.3 223.4L370.2 222.4L371.1 221.5L372.0 220.5L372.9 219.5L373.8 218.5L374.7 217.5L375.6 216.5L376.5 215.5L377.4 214.5L378.3 213.5L379.2 212.4L380.1 211.4L381.0 210.3L381.9 209.3L382.8 208.2L383.7 207.2L384.6 206.1L385.5 205.1L386.4 204.0L387.3 202.9L388.2 201.8L389.1 200.7L390.0 199.6L390.9 198.5L391.8 197.4L392.7 196.3L393.6 195.2L394.5 194.1L395.4 193.0L396.3 191.8L397.2 190.7L398.1 189.5L399.0 188.4L399.9 187.2L400.8 186.1L401.7 184.9L402.6 183.7L403.5 182.6L404.4 181.4L405.3 180.2L406.2 179.0L407.1 177.8L408.0 176.6L408.9 175.4L409.8 174.1L410.7 172.9L411.6 171.7L412.5 170.4L413.4 169.2L414.3 167.9L415.2 166.7L416.1 165.4L417.0 164.1L417.9 162.9L418.8 161.6L418.8 163.7L417.9 165.0L417.0 166.3L416.1 167.6L415.2 168.8L414.3 170.1L413.4 171.3L412.5 172.6L411.6 173.8L410.7 175.1L409.8 176.3L408.9 177.5L408.0 178.7L407.1 179.9L406.2 181.1L405.3 182.3L404.4 183.5L403.5 184.7L402.6 185.9L401.7 187.1L400.8 188.2L399.9 189.4L399.0 190.6L398.1 191.7L397.2 192.9L396.3 194.0L395.4 195.1L394.5 196.3L393.6 197.4L392.7 198.5L391.8 199.6L390.9 200.7L390.0 201.8L389.1 202.9L388.2 204.0L387.3 205.1L386.4 206.2L385.5 207.2L384.6 208.3L383.7 209.4L382.8 210.4L381.9 211.5L381.0 212.5L380.1 213.6L379.2 214.6L378.3 215.7L377.4 216.7L376.5 217.7L375.6 218.7L374.7 219.8L373.8 220.8L372.9 221.8L372.0 222.8L371.1 223.7L370.2 224.7L369.3 225.7L368.4 226.6L367.5 227.6L366.6 228.5L365.7 229.4L364.8 230.3L363.9 231.2L363.0 232.1L362.1 232.9L361.2 233.7L360.3 234.5L359.4 235.3L358.5 236.0L357.6 236.6ZM356.7 230.4L357.6 229.9L358.5 229.2L359.4 228.5L360.3 227.8L361.2 227.1L362.1 226.3L363.0 225.5L363.9 224.6L364.8 223.8L365.7 222.9L366.6 222.0L367.5 221.1L368.4 220.1L369.3 219.2L370.2 218.2L371.1 217.3L372.0 216.3L372.9 215.3L373.8 214.4L374.7 213.4L375.6 212.4L376.5 211.4L377.4 210.4L378.3 209.4L379.2 208.4L380.1 207.3L381.0 206.3L381.9 205.3L382.8 204.3L383.7 203.2L384.6 202.2L385.5 201.1L386.4 200.1L387.3 199.0L388.2 198.0L389.1 196.9L390.0 195.8L390.9 194.7L391.8 193.7L392.7 192.6L393.6 191.5L394.5 190.4L395.4 189.3L396.3 188.2L397.2 187.0L398.1 185.9L399.0 184.8L399.9 183.7L400.8 182.5L401.7 181.4L402.6 180.3L403.5 179.1L404.4 177.9L405.3 176.8L406.2 175.6L407.1 174.4L408.0 173.3L408.9 172.1L409.8 170.9L410.7 169.7L411.6 168.5L412.5 167.3L413.4 166.0L414.3 164.8L415.2 163.6L416.1 162.4L417.0 161.1L417.9 159.9L418.8 158.6L419.7 157.4L420.6 156.1L421.5 154.8L422.4 153.5L423.3 152.3L423.3 154.4L422.4 155.7L421.5 157.0L420.6 158.2L419.7 159.5L418.8 160.8L417.9 162.0L417.0 163.3L416.1 164.5L415.2 165.7L414.3 167.0L413.4 168.2L412.5 169.4L411.6 170.6L410.7 171.8L409.8 173.0L408.9 174.2L408.0 175.4L407.1 176.6L406.2 177.8L405.3 178.9L404.4 180.1L403.5 181.2L402.6 182.4L401.7 183.5L400.8 184.7L399.9 185.8L399.0 186.9L398.1 188.1L397.2 189.2L396.3 190.3L395.4 191.4L394.5 192.5L393.6 193.6L392.7 194.7L391.8 195.8L390.9 196.9L390.0 197.9L389.1 199.0L388.2 200.1L387.3 201.1L386.4 202.2L385.5 203.2L384.6 204.3L383.7 205.3L382.8 206.4L381.9 207.4L381.0 208.4L380.1 209.4L379.2 210.4L378.3 211.5L377.4 212.5L376.5 213.5L375.6 214.4L374.7 215.4L373.8 216.4L372.9 217.4L372.0 218.3L371.1 219.3L370.2 220.2L369.3 221.2L368.4 222.1L367.5 223.0L366.6 223.9L365.7 224.8L364.8 225.6L363.9 226.5L363.0 227.3L362.1 228.1L361.2 228.8L360.3 229.5L359.4 230.2L358.5 230.9L357.6 231.5L356.7 232.0ZM355.8 226.8L356.7 226.3L357.6 225.7L358.5 225.1L359.4 224.4L360.3 223.6L361.2 222.9L362.1 222.1L363.0 221.3L363.9 220.4L364.8 219.5L365.7 218.7L366.6 217.8L367.5 216.9L368.4 215.9L369.3 215.0L370.2 214.0L371.1 213.1L372.0 212.1L372.9 211.2L373.8 210.2L374.7 209.2L375.6 208.3L376.5 207.3L377.4 206.3L378.3 205.3L379.2 204.3L380.1 203.3L381.0 202.3L381.9 201.3L382.8 200.2L383.7 199.2L384.6 198.2L385.5 197.2L386.4 196.1L387.3 195.1L388.2 194.0L389.1 193.0L390.0 191.9L390.9 190.9L391.8 189.8L392.7 188.8L393.6 187.7L394.5 186.6L395.4 185.5L396.3 184.4L397.2 183.3L398.1 182.3L399.0 181.2L399.9 180.0L400.8 178.9L401.7 177.8L402.6 176.7L403.5 175.6L404.4 174.4L405.3 173.3L406.2 172.2L407.1 171.0L408.0 169.9L408.9 168.7L409.8 167.5L410.7 166.4L411.6 165.2L412.5 164.0L413.4 162.8L414.3 161.6L415.2 160.4L416.1 159.2L417.0 158.0L417.9 156.8L418.8 155.6L419.7 154.3L420.6 153.1L421.5 151.8L422.4 150.6L423.3 149.3L424.2 148.1L425.1 146.8L426.0 145.5L426.9 144.2L426.9 146.4L426.0 147.7L425.1 148.9L424.2 150.2L423.3 151.5L422.4 152.7L421.5 154.0L420.6 155.2L419.7 156.5L418.8 157.7L417.9 158.9L417.0 160.1L416.1 161.4L415.2 162.6L414.3 163.8L413.4 165.0L412.5 166.1L411.6 167.3L410.7 168.5L409.8 169.7L408.9 170.8L408.0 172.0L407.1 173.2L406.2 174.3L405.3 175.4L404.4 176.6L403.5 177.7L402.6 178.8L401.7 180.0L400.8 181.1L399.9 182.2L399.0 183.3L398.1 184.4L397.2 185.5L396.3 186.6L395.4 187.7L394.5 188.7L393.6 189.8L392.7 190.9L391.8 191.9L390.9 193.0L390.0 194.1L389.1 195.1L388.2 196.2L387.3 197.2L386.4 198.2L385.5 199.3L384.6 200.3L383.7 201.3L382.8 202.3L381.9 203.3L381.0 204.3L380.1 205.3L379.2 206.3L378.3 207.3L377.4 208.3L376.5 209.3L375.6 210.3L374.7 211.2L373.8 212.2L372.9 213.1L372.0 214.1L371.1 215.0L370.2 215.9L369.3 216.9L368.4 217.8L367.5 218.7L366.6 219.6L365.7 220.4L364.8 221.3L363.9 222.1L363.0 222.9L362.1 223.7L361.2 224.4L360.3 225.1L359.4 225.8L358.5 226.4L357.6 227.0L356.7 227.6L355.8 228.1ZM355.8 255.9L356.7 255.4L357.6 254.8L358.5 254.2L359.4 253.5L360.3 252.8L361.2 252.1L362.1 251.3L363.0 250.5L363.9 249.7L364.8 248.8L365.7 247.9L366.6 247.0L367.5 246.0L368.4 245.1L369.3 244.1L370.2 243.1L371.1 242.0L372.0 241.0L372.9 240.0L373.8 238.9L374.7 237.8L375.6 236.7L376.5 235.6L377.4 234.5L378.3 233.4L379.2 232.2L380.1 231.1L381.0 229.9L381.9 228.8L382.8 227.6L383.7 226.4L384.6 225.2L385.5 224.0L386.4 222.8L387.3 221.6L388.2 220.4L389.1 219.2L390.0 217.9L390.9 216.7L391.8 215.5L392.7 214.2L393.6 212.9L394.5 211.7L395.4 210.4L395.4 212.6L394.5 213.9L393.6 215.1L392.7 216.4L391.8 217.7L390.9 218.9L390.0 220.1L389.1 221.4L388.2 222.6L387.3 223.8L386.4 225.1L385.5 226.3L384.6 227.5L383.7 228.7L382.8 229.9L381.9 231.0L381.0 232.2L380.1 233.4L379.2 234.5L378.3 235.7L377.4 236.8L376.5 238.0L375.6 239.1L374.7 240.2L373.8 241.3L372.9 242.4L372.0 243.5L371.1 244.5L370.2 245.6L369.3 246.6L368.4 247.7L367.5 248.7L366.6 249.7L365.7 250.6L364.8 251.6L363.9 252.5L363.0 253.4L362.1 254.3L361.2 255.2L360.3 256.0L359.4 256.8L358.5 257.5L357.6 258.2L356.7 258.8L355.8 259.3ZM357.6 250.7L358.5 250.0L359.4 249.4L360.3 248.7L361.2 247.9L362.1 247.2L363.0 246.4L363.9 245.5L364.8 244.7L365.7 243.8L366.6 242.8L367.5 241.9L368.4 241.0L369.3 240.0L370.2 239.0L371.1 238.0L372.0 237.0L372.9 235.9L373.8 234.9L374.7 233.8L375.6 232.7L376.5 231.7L377.4 230.6L378.3 229.5L379.2 228.3L380.1 227.2L381.0 226.1L381.9 225.0L382.8 223.8L383.7 222.7L384.6 221.5L385.5 220.4L386.4 219.2L387.3 218.0L388.2 216.8L389.1 215.6L390.0 214.4L390.9 213.2L391.8 212.0L392.7 210.8L393.6 209.5L394.5 208.3L395.4 207.1L396.3 205.8L397.2 204.6L398.1 203.3L399.0 202.0L399.9 200.8L400.8 199.5L400.8 201.6L399.9 202.9L399.0 204.2L398.1 205.5L397.2 206.7L396.3 208.0L395.4 209.2L394.5 210.5L393.6 211.7L392.7 212.9L391.8 214.2L390.9 215.4L390.0 216.6L389.1 217.8L388.2 219.0L387.3 220.2L386.4 221.4L385.5 222.5L384.6 223.7L383.7 224.9L382.8 226.0L381.9 227.2L381.0 228.3L380.1 229.4L379.2 230.6L378.3 231.7L377.4 232.8L376.5 233.9L375.6 235.0L374.7 236.0L373.8 237.1L372.9 238.2L372.0 239.2L371.1 240.2L370.2 241.3L369.3 242.3L368.4 243.3L367.5 244.2L366.6 245.2L365.7 246.1L364.8 247.0L363.9 247.9L363.0 248.8L362.1 249.6L361.2 250.4L360.3 251.2L359.4 251.9L358.5 252.6L357.6 253.3ZM356.7 247.1L357.6 246.5L358.5 245.9L359.4 245.2L360.3 244.5L361.2 243.8L362.1 243.0L363.0 242.2L363.9 241.4L364.8 240.5L365.7 239.6L366.6 238.7L367.5 237.8L368.4 236.8L369.3 235.9L370.2 234.9L371.1 233.9L372.0 232.9L372.9 231.9L373.8 230.8L374.7 229.8L375.6 228.7L376.5 227.7L377.4 226.6L378.3 225.5L379.2 224.4L380.1 223.3L381.0 222.2L381.9 221.1L382.8 220.0L383.7 218.9L384.6 217.7L385.5 216.6L386.4 215.5L387.3 214.3L388.2 213.2L389.1 212.0L390.0 210.8L390.9 209.6L391.8 208.5L392.7 207.3L393.6 206.1L394.5 204.9L395.4 203.7L396.3 202.4L397.2 201.2L398.1 200.0L399.0 198.7L399.9 197.5L400.8 196.3L401.7 195.0L402.6 193.7L403.5 192.5L404.4 191.2L405.3 189.9L405.3 192.1L404.4 193.3L403.5 194.6L402.6 195.9L401.7 197.1L400.8 198.4L399.9 199.6L399.0 200.9L398.1 202.1L397.2 203.4L396.3 204.6L395.4 205.8L394.5 207.0L393.6 208.2L392.7 209.4L391.8 210.6L390.9 211.8L390.0 212.9L389.1 214.1L388.2 215.3L387.3 216.4L386.4 217.6L385.5 218.7L384.6 219.9L383.7 221.0L382.8 222.1L381.9 223.2L381.0 224.3L380.1 225.4L379.2 226.5L378.3 227.6L377.4 228.7L376.5 229.7L375.6 230.8L374.7 231.8L373.8 232.9L372.9 233.9L372.0 234.9L371.1 235.9L370.2 236.9L369.3 237.8L368.4 238.8L367.5 239.7L366.6 240.6L365.7 241.5L364.8 242.4L363.9 243.2L363.0 244.0L362.1 244.8L361.2 245.5L360.3 246.2L359.4 246.9L358.5 247.5L357.6 248.1L356.7 248.7ZM355.8 243.4L356.7 242.9L357.6 242.3L358.5 241.7L359.4 241.1L360.3 240.4L361.2 239.6L362.1 238.8L363.0 238.0L363.9 237.2L364.8 236.3L365.7 235.4L366.6 234.5L367.5 233.6L368.4 232.7L369.3 231.7L370.2 230.7L371.1 229.8L372.0 228.8L372.9 227.8L373.8 226.7L374.7 225.7L375.6 224.7L376.5 223.6L377.4 222.6L378.3 221.5L379.2 220.5L380.1 219.4L381.0 218.3L381.9 217.2L382.8 216.1L383.7 215.0L384.6 213.9L385.5 212.8L386.4 211.7L387.3 210.6L388.2 209.4L389.1 208.3L390.0 207.1L390.9 206.0L391.8 204.8L392.7 203.7L393.6 202.5L394.5 201.3L395.4 200.2L396.3 199.0L397.2 197.8L398.1 196.6L399.0 195.4L399.9 194.2L400.8 192.9L401.7 191.7L402.6 190.5L403.5 189.2L404.4 188.0L405.3 186.8L406.2 185.5L407.1 184.2L408.0 183.0L408.9 181.7L409.8 180.4L409.8 182.6L408.9 183.8L408.0 185.1L407.1 186.4L406.2 187.6L405.3 188.9L404.4 190.1L403.5 191.4L402.6 192.6L401.7 193.9L400.8 195.1L399.9 196.3L399.0 197.5L398.1 198.7L397.2 199.9L396.3 201.1L395.4 202.3L394.5 203.5L393.6 204.6L392.7 205.8L391.8 207.0L390.9 208.1L390.0 209.3L389.1 210.4L388.2 211.5L387.3 212.7L386.4 213.8L385.5 214.9L384.6 216.0L383.7 217.1L382.8 218.2L381.9 219.3L381.0 220.4L380.1 221.4L379.2 222.5L378.3 223.6L377.4 224.6L376.5 225.7L375.6 226.7L374.7 227.7L373.8 228.7L372.9 229.7L372.0 230.7L371.1 231.7L370.2 232.6L369.3 233.6L368.4 234.5L367.5 235.4L366.6 236.3L365.7 237.2L364.8 238.1L363.9 238.9L363.0 239.7L362.1 240.4L361.2 241.1L360.3 241.8L359.4 242.5L358.5 243.1L357.6 243.6L356.7 244.2L355.8 244.7ZM355.8 272.5L356.7 272.0L357.6 271.4L358.5 270.8L359.4 270.1L360.3 269.4L361.2 268.7L362.1 267.9L363.0 267.0L363.9 266.1L364.8 265.2L365.7 264.3L366.6 263.3L367.5 262.3L368.4 261.3L369.3 260.2L370.2 259.1L371.1 258.0L372.0 256.9L372.9 255.7L373.8 254.6L374.7 253.4L375.6 252.2L375.6 254.6L374.7 255.8L373.8 257.0L372.9 258.2L372.0 259.3L371.1 260.5L370.2 261.6L369.3 262.8L368.4 263.9L367.5 264.9L366.6 266.0L365.7 267.0L364.8 268.0L363.9 269.0L363.0 269.9L362.1 270.8L361.2 271.7L360.3 272.6L359.4 273.4L358.5 274.1L357.6 274.8L356.7 275.4L355.8 275.9ZM357.6 267.3L358.5 266.7L359.4 266.0L360.3 265.3L361.2 264.5L362.1 263.7L363.0 262.9L363.9 262.0L364.8 261.1L365.7 260.2L366.6 259.3L367.5 258.3L368.4 257.3L369.3 256.2L370.2 255.2L371.1 254.1L372.0 253.0L372.9 251.9L373.8 250.7L374.7 249.6L375.6 248.4L376.5 247.2L377.4 246.0L378.3 244.8L379.2 243.6L380.1 242.3L381.0 241.1L381.0 243.3L380.1 244.5L379.2 245.8L378.3 247.0L377.4 248.2L376.5 249.4L375.6 250.6L374.7 251.8L373.8 253.0L372.9 254.1L372.0 255.2L371.1 256.3L370.2 257.4L369.3 258.5L368.4 259.6L367.5 260.6L366.6 261.6L365.7 262.6L364.8 263.5L363.9 264.4L363.0 265.3L362.1 266.2L361.2 267.0L360.3 267.8L359.4 268.5L358.5 269.2L357.6 269.9ZM356.7 263.7L357.6 263.1L358.5 262.5L359.4 261.8L360.3 261.1L361.2 260.4L362.1 259.6L363.0 258.8L363.9 257.9L364.8 257.0L365.7 256.1L366.6 255.2L367.5 254.2L368.4 253.2L369.3 252.2L370.2 251.2L371.1 250.1L372.0 249.0L372.9 247.9L373.8 246.8L374.7 245.7L375.6 244.5L376.5 243.4L377.4 242.2L378.3 241.0L379.2 239.8L380.1 238.6L381.0 237.4L381.9 236.2L382.8 235.0L383.7 233.7L384.6 232.5L385.5 231.2L385.5 233.3L384.6 234.6L383.7 235.8L382.8 237.1L381.9 238.3L381.0 239.5L380.1 240.7L379.2 241.9L378.3 243.1L377.4 244.3L376.5 245.5L375.6 246.6L374.7 247.7L373.8 248.8L372.9 249.9L372.0 251.0L371.1 252.1L370.2 253.1L369.3 254.2L368.4 255.2L367.5 256.1L366.6 257.1L365.7 258.0L364.8 258.9L363.9 259.8L363.0 260.6L362.1 261.4L361.2 262.1L360.3 262.9L359.4 263.5L358.5 264.1L357.6 264.7L356.7 265.3ZM355.8 260.0L356.7 259.5L357.6 259.0L358.5 258.4L359.4 257.7L360.3 257.0L361.2 256.3L362.1 255.5L363.0 254.7L363.9 253.8L364.8 252.9L365.7 252.0L366.6 251.1L367.5 250.1L368.4 249.1L369.3 248.1L370.2 247.1L371.1 246.1L372.0 245.0L372.9 244.0L373.8 242.9L374.7 241.8L375.6 240.6L376.5 239.5L377.4 238.4L378.3 237.2L379.2 236.1L380.1 234.9L381.0 233.7L381.9 232.5L382.8 231.3L383.7 230.1L384.6 228.9L385.5 227.7L386.4 226.4L387.3 225.2L388.2 223.9L389.1 222.7L390.0 221.4L390.9 220.1L390.9 222.3L390.0 223.5L389.1 224.8L388.2 226.0L387.3 227.3L386.4 228.5L385.5 229.8L384.6 231.0L383.7 232.2L382.8 233.4L381.9 234.6L381.0 235.8L380.1 237.0L379.2 238.1L378.3 239.3L377.4 240.4L376.5 241.5L375.6 242.7L374.7 243.8L373.8 244.8L372.9 245.9L372.0 247.0L371.1 248.0L370.2 249.0L369.3 250.0L368.4 251.0L367.5 251.9L366.6 252.9L365.7 253.8L364.8 254.6L363.9 255.5L363.0 256.3L362.1 257.1L361.2 257.8L360.3 258.5L359.4 259.1L358.5 259.7L357.6 260.3L356.7 260.8L355.8 261.3ZM355.8 289.1L356.7 288.5L357.6 288.0L358.5 287.3L359.4 286.6L359.4 289.8L358.5 290.6L357.6 291.4L356.7 291.9L355.8 292.5ZM357.6 283.8L358.5 283.2L359.4 282.5L360.3 281.7L361.2 280.9L362.1 280.1L363.0 279.2L363.0 281.6L362.1 282.5L361.2 283.4L360.3 284.2L359.4 285.0L358.5 285.8L357.6 286.4ZM356.7 280.3L357.6 279.7L358.5 279.1L359.4 278.4L360.3 277.6L361.2 276.9L362.1 276.0L363.0 275.2L363.9 274.2L364.8 273.3L365.7 272.3L366.6 271.3L366.6 273.2L365.7 274.2L364.8 275.2L363.9 276.1L363.0 277.0L362.1 277.8L361.2 278.6L360.3 279.4L359.4 280.0L358.5 280.7L357.6 281.3L356.7 281.9ZM355.8 276.6L356.7 276.1L357.6 275.6L358.5 274.9L359.4 274.3L360.3 273.5L361.2 272.8L362.1 272.0L363.0 271.1L363.9 270.2L364.8 269.3L365.7 268.3L366.6 267.3L367.5 266.3L368.4 265.2L369.3 264.2L370.2 263.1L371.1 261.9L371.1 263.9L370.2 265.0L369.3 266.0L368.4 267.1L367.5 268.1L366.6 269.1L365.7 270.1L364.8 271.0L363.9 271.9L363.0 272.7L362.1 273.5L361.2 274.3L360.3 275.0L359.4 275.7L358.5 276.3L357.6 276.9L356.7 277.4L355.8 277.9ZM355.8 293.2L356.7 292.7L356.7 294.0L355.8 294.5Z" fill="#6b43ee" stroke="none"/>
<rect x="349.0" y="5.5" width="144.5" height="296.5" fill="url(#fb)"/>
<path d="M354.0 0.90L355.6 8.10" fill="none" stroke="#a02088" stroke-width="1.4" stroke-linecap="round"/>
<path d="M355.7 8.10L358.4 4.50" fill="none" stroke="#7a3ad8" stroke-width="1.5" stroke-linecap="round"/>
<path d="M354.9 4.70L355.8 8.00L356.9 6.30" fill="none" stroke="#e8283a" stroke-width="1.7" stroke-linejoin="round" stroke-linecap="round"/>
<circle cx="355.8" cy="7.20" r="1.0" fill="#ff5a20"/>
<path d="M354.0 17.50L355.6 24.70" fill="none" stroke="#a02088" stroke-width="1.4" stroke-linecap="round"/>
<path d="M355.7 24.70L358.4 21.10" fill="none" stroke="#7a3ad8" stroke-width="1.5" stroke-linecap="round"/>
<path d="M354.9 21.30L355.8 24.60L356.9 22.90" fill="none" stroke="#e8283a" stroke-width="1.7" stroke-linejoin="round" stroke-linecap="round"/>
<circle cx="355.8" cy="23.80" r="1.0" fill="#ff5a20"/>
<path d="M354.0 34.10L355.6 41.30" fill="none" stroke="#a02088" stroke-width="1.4" stroke-linecap="round"/>
<path d="M355.7 41.30L358.4 37.70" fill="none" stroke="#7a3ad8" stroke-width="1.5" stroke-linecap="round"/>
<path d="M354.9 37.90L355.8 41.20L356.9 39.50" fill="none" stroke="#e8283a" stroke-width="1.7" stroke-linejoin="round" stroke-linecap="round"/>
<circle cx="355.8" cy="40.40" r="1.0" fill="#ff5a20"/>
<path d="M354.0 50.70L355.6 57.90" fill="none" stroke="#a02088" stroke-width="1.4" stroke-linecap="round"/>
<path d="M355.7 57.90L358.4 54.30" fill="none" stroke="#7a3ad8" stroke-width="1.5" stroke-linecap="round"/>
<path d="M354.9 54.50L355.8 57.80L356.9 56.10" fill="none" stroke="#e8283a" stroke-width="1.7" stroke-linejoin="round" stroke-linecap="round"/>
<circle cx="355.8" cy="57.00" r="1.0" fill="#ff5a20"/>
<path d="M354.0 67.30L355.6 74.50" fill="none" stroke="#a02088" stroke-width="1.4" stroke-linecap="round"/>
<path d="M355.7 74.50L358.4 70.90" fill="none" stroke="#7a3ad8" stroke-width="1.5" stroke-linecap="round"/>
<path d="M354.9 71.10L355.8 74.40L356.9 72.70" fill="none" stroke="#e8283a" stroke-width="1.7" stroke-linejoin="round" stroke-linecap="round"/>
<circle cx="355.8" cy="73.60" r="1.0" fill="#ff5a20"/>
<path d="M354.0 83.90L355.6 91.10" fill="none" stroke="#a02088" stroke-width="1.4" stroke-linecap="round"/>
<path d="M355.7 91.10L358.4 87.50" fill="none" stroke="#7a3ad8" stroke-width="1.5" stroke-linecap="round"/>
<path d="M354.9 87.70L355.8 91.00L356.9 89.30" fill="none" stroke="#e8283a" stroke-width="1.7" stroke-linejoin="round" stroke-linecap="round"/>
<circle cx="355.8" cy="90.20" r="1.0" fill="#ff5a20"/>
<path d="M354.0 100.50L355.6 107.70" fill="none" stroke="#a02088" stroke-width="1.4" stroke-linecap="round"/>
<path d="M355.7 107.70L358.4 104.10" fill="none" stroke="#7a3ad8" stroke-width="1.5" stroke-linecap="round"/>
<path d="M354.9 104.30L355.8 107.60L356.9 105.90" fill="none" stroke="#e8283a" stroke-width="1.7" stroke-linejoin="round" stroke-linecap="round"/>
<circle cx="355.8" cy="106.80" r="1.0" fill="#ff5a20"/>
<path d="M354.0 117.10L355.6 124.30" fill="none" stroke="#a02088" stroke-width="1.4" stroke-linecap="round"/>
<path d="M355.7 124.30L358.4 120.70" fill="none" stroke="#7a3ad8" stroke-width="1.5" stroke-linecap="round"/>
<path d="M354.9 120.90L355.8 124.20L356.9 122.50" fill="none" stroke="#e8283a" stroke-width="1.7" stroke-linejoin="round" stroke-linecap="round"/>
<circle cx="355.8" cy="123.40" r="1.0" fill="#ff5a20"/>
<path d="M354.0 133.70L355.6 140.90" fill="none" stroke="#a02088" stroke-width="1.4" stroke-linecap="round"/>
<path d="M355.7 140.90L358.4 137.30" fill="none" stroke="#7a3ad8" stroke-width="1.5" stroke-linecap="round"/>
<path d="M354.9 137.50L355.8 140.80L356.9 139.10" fill="none" stroke="#e8283a" stroke-width="1.7" stroke-linejoin="round" stroke-linecap="round"/>
<circle cx="355.8" cy="140.00" r="1.0" fill="#ff5a20"/>
<path d="M354.0 150.30L355.6 157.50" fill="none" stroke="#a02088" stroke-width="1.4" stroke-linecap="round"/>
<path d="M355.7 157.50L358.4 153.90" fill="none" stroke="#7a3ad8" stroke-width="1.5" stroke-linecap="round"/>
<path d="M354.9 154.10L355.8 157.40L356.9 155.70" fill="none" stroke="#e8283a" stroke-width="1.7" stroke-linejoin="round" stroke-linecap="round"/>
<circle cx="355.8" cy="156.60" r="1.0" fill="#ff5a20"/>
<path d="M354.0 166.90L355.6 174.10" fill="none" stroke="#a02088" stroke-width="1.4" stroke-linecap="round"/>
<path d="M355.7 174.10L358.4 170.50" fill="none" stroke="#7a3ad8" stroke-width="1.5" stroke-linecap="round"/>
<path d="M354.9 170.70L355.8 174.00L356.9 172.30" fill="none" stroke="#e8283a" stroke-width="1.7" stroke-linejoin="round" stroke-linecap="round"/>
<circle cx="355.8" cy="173.20" r="1.0" fill="#ff5a20"/>
<path d="M354.0 183.50L355.6 190.70" fill="none" stroke="#a02088" stroke-width="1.4" stroke-linecap="round"/>
<path d="M355.7 190.70L358.4 187.10" fill="none" stroke="#7a3ad8" stroke-width="1.5" stroke-linecap="round"/>
<path d="M354.9 187.30L355.8 190.60L356.9 188.90" fill="none" stroke="#e8283a" stroke-width="1.7" stroke-linejoin="round" stroke-linecap="round"/>
<circle cx="355.8" cy="189.80" r="1.0" fill="#ff5a20"/>
<path d="M354.0 200.10L355.6 207.30" fill="none" stroke="#a02088" stroke-width="1.4" stroke-linecap="round"/>
<path d="M355.7 207.30L358.4 203.70" fill="none" stroke="#7a3ad8" stroke-width="1.5" stroke-linecap="round"/>
<path d="M354.9 203.90L355.8 207.20L356.9 205.50" fill="none" stroke="#e8283a" stroke-width="1.7" stroke-linejoin="round" stroke-linecap="round"/>
<circle cx="355.8" cy="206.40" r="1.0" fill="#ff5a20"/>
<path d="M354.0 216.70L355.6 223.90" fill="none" stroke="#a02088" stroke-width="1.4" stroke-linecap="round"/>
<path d="M355.7 223.90L358.4 220.30" fill="none" stroke="#7a3ad8" stroke-width="1.5" stroke-linecap="round"/>
<path d="M354.9 220.50L355.8 223.80L356.9 222.10" fill="none" stroke="#e8283a" stroke-width="1.7" stroke-linejoin="round" stroke-linecap="round"/>
<circle cx="355.8" cy="223.00" r="1.0" fill="#ff5a20"/>
<path d="M354.0 233.30L355.6 240.50" fill="none" stroke="#a02088" stroke-width="1.4" stroke-linecap="round"/>
<path d="M355.7 240.50L358.4 236.90" fill="none" stroke="#7a3ad8" stroke-width="1.5" stroke-linecap="round"/>
<path d="M354.9 237.10L355.8 240.40L356.9 238.70" fill="none" stroke="#e8283a" stroke-width="1.7" stroke-linejoin="round" stroke-linecap="round"/>
<circle cx="355.8" cy="239.60" r="1.0" fill="#ff5a20"/>
<path d="M354.0 249.90L355.6 257.10" fill="none" stroke="#a02088" stroke-width="1.4" stroke-linecap="round"/>
<path d="M355.7 257.10L358.4 253.50" fill="none" stroke="#7a3ad8" stroke-width="1.5" stroke-linecap="round"/>
<path d="M354.9 253.70L355.8 257.00L356.9 255.30" fill="none" stroke="#e8283a" stroke-width="1.7" stroke-linejoin="round" stroke-linecap="round"/>
<circle cx="355.8" cy="256.20" r="1.0" fill="#ff5a20"/>
<path d="M354.0 266.50L355.6 273.70" fill="none" stroke="#a02088" stroke-width="1.4" stroke-linecap="round"/>
<path d="M355.7 273.70L358.4 270.10" fill="none" stroke="#7a3ad8" stroke-width="1.5" stroke-linecap="round"/>
<path d="M354.9 270.30L355.8 273.60L356.9 271.90" fill="none" stroke="#e8283a" stroke-width="1.7" stroke-linejoin="round" stroke-linecap="round"/>
<circle cx="355.8" cy="272.80" r="1.0" fill="#ff5a20"/>
<path d="M354.0 283.10L355.6 290.30" fill="none" stroke="#a02088" stroke-width="1.4" stroke-linecap="round"/>
<path d="M355.7 290.30L358.4 286.70" fill="none" stroke="#7a3ad8" stroke-width="1.5" stroke-linecap="round"/>
<path d="M354.9 286.90L355.8 290.20L356.9 288.50" fill="none" stroke="#e8283a" stroke-width="1.7" stroke-linejoin="round" stroke-linecap="round"/>
<circle cx="355.8" cy="289.40" r="1.0" fill="#ff5a20"/>
<path d="M354.0 299.70L355.6 306.90" fill="none" stroke="#a02088" stroke-width="1.4" stroke-linecap="round"/>
<path d="M355.7 306.90L358.4 303.30" fill="none" stroke="#7a3ad8" stroke-width="1.5" stroke-linecap="round"/>
<path d="M354.9 303.50L355.8 306.80L356.9 305.10" fill="none" stroke="#e8283a" stroke-width="1.7" stroke-linejoin="round" stroke-linecap="round"/>
<circle cx="355.8" cy="306.00" r="1.0" fill="#ff5a20"/>
</g></g>
<path d="M347.0 2.5L353.3 -1.10L354.6 8.40L355.0 11.10L353.5 13.10L353.3 15.50L354.6 25.00L355.0 27.70L353.5 29.70L353.3 32.10L354.6 41.60L355.0 44.30L353.5 46.30L353.3 48.70L354.6 58.20L355.0 60.90L353.5 62.90L353.3 65.30L354.6 74.80L355.0 77.50L353.5 79.50L353.3 81.90L354.6 91.40L355.0 94.10L353.5 96.10L353.3 98.50L354.6 108.00L355.0 110.70L353.5 112.70L353.3 115.10L354.6 124.60L355.0 127.30L353.5 129.30L353.3 131.70L354.6 141.20L355.0 143.90L353.5 145.90L353.3 148.30L354.6 157.80L355.0 160.50L353.5 162.50L353.3 164.90L354.6 174.40L355.0 177.10L353.5 179.10L353.3 181.50L354.6 191.00L355.0 193.70L353.5 195.70L353.3 198.10L354.6 207.60L355.0 210.30L353.5 212.30L353.3 214.70L354.6 224.20L355.0 226.90L353.5 228.90L353.3 231.30L354.6 240.80L355.0 243.50L353.5 245.50L353.3 247.90L354.6 257.40L355.0 260.10L353.5 262.10L353.3 264.50L354.6 274.00L355.0 276.70L353.5 278.70L353.3 281.10L354.6 290.60L355.0 293.30L353.5 295.30L353.3 297.70L354.6 307.20L355.0 309.90L353.5 311.90L347.0 305.0Z" fill="#000" filter="url(#bl)"/>
</g>
<rect x="349.50" y="8.00" width="204.20" height="291.50" fill="none" stroke="#000" stroke-width="1"/>
<path d="M376.36 300.00v-6.6M376.36 7.50v6.6M403.72 300.00v-6.6M403.72 7.50v6.6M431.08 300.00v-6.6M431.08 7.50v6.6M458.44 300.00v-6.6M458.44 7.50v6.6M485.80 300.00v-6.6M485.80 7.50v6.6M513.16 300.00v-6.6M513.16 7.50v6.6M540.52 300.00v-6.6M540.52 7.50v6.6M349.00 241.50h6.6M554.20 241.50h-6.6M349.00 183.00h6.6M554.20 183.00h-6.6M349.00 124.50h6.6M554.20 124.50h-6.6M349.00 66.00h6.6M554.20 66.00h-6.6" stroke="#0a0418" stroke-width="1.1" fill="none"/>
<text transform="translate(350.70 312.30) rotate(0.03) scale(1.05 1)" text-anchor="middle" class="tk">0</text>
<text transform="translate(378.06 312.30) rotate(0.03) scale(1.05 1)" text-anchor="middle" class="tk">20</text>
<text transform="translate(405.42 312.30) rotate(0.03) scale(1.05 1)" text-anchor="middle" class="tk">40</text>
<text transform="translate(432.78 312.30) rotate(0.03) scale(1.05 1)" text-anchor="middle" class="tk">60</text>
<text transform="translate(460.14 312.30) rotate(0.03) scale(1.05 1)" text-anchor="middle" class="tk">80</text>
<text transform="translate(487.50 312.30) rotate(0.03) scale(1.05 1)" text-anchor="middle" class="tk">100</text>
<text transform="translate(514.86 312.30) rotate(0.03) scale(1.05 1)" text-anchor="middle" class="tk">120</text>
<text transform="translate(542.22 312.30) rotate(0.03) scale(1.05 1)" text-anchor="middle" class="tk">140</text>
<text transform="translate(343.30 303.60) rotate(0.03) scale(1.05 1)" text-anchor="end" class="tk">0</text>
<text transform="translate(343.30 245.10) rotate(0.03) scale(1.05 1)" text-anchor="end" class="tk">20</text>
<text transform="translate(343.30 186.60) rotate(0.03) scale(1.05 1)" text-anchor="end" class="tk">40</text>
<text transform="translate(343.30 128.10) rotate(0.03) scale(1.05 1)" text-anchor="end" class="tk">60</text>
<text transform="translate(343.30 69.60) rotate(0.03) scale(1.05 1)" text-anchor="end" class="tk">80</text>
<text transform="translate(343.30 11.10) rotate(0.03) scale(1.05 1)" text-anchor="end" class="tk">100</text>
<text transform="translate(451.00 328.90) rotate(0.03) scale(1 0.95)" text-anchor="middle" class="ax"><tspan class="it">x</tspan>(mm)</text>
<text transform="translate(321.40 153.75) scale(1.03 0.97) rotate(-90)" text-anchor="middle" class="ax2"><tspan class="it">t</tspan>(min)</text>
<text transform="translate(545.70 281.90) rotate(0.03)" text-anchor="end" class="lt">(b)</text>
<rect x="558.60" y="7.50" width="11.10" height="292.50" fill="url(#cb)"/>
<rect x="559.00" y="7.90" width="10.30" height="291.70" fill="none" stroke="#2a1a20" stroke-width="0.8"/>
<text transform="translate(575.30 303.60) rotate(0.03) scale(1.05 1)" class="tk">0</text>
<text transform="translate(575.30 267.04) rotate(0.03) scale(1.05 1)" class="tk">1</text>
<text transform="translate(575.30 230.47) rotate(0.03) scale(1.05 1)" class="tk">2</text>
<text transform="translate(575.30 193.91) rotate(0.03) scale(1.05 1)" class="tk">3</text>
<text transform="translate(575.30 157.35) rotate(0.03) scale(1.05 1)" class="tk">4</text>
<text transform="translate(575.30 120.79) rotate(0.03) scale(1.05 1)" class="tk">5</text>
<text transform="translate(575.30 84.22) rotate(0.03) scale(1.05 1)" class="tk">6</text>
<text transform="translate(575.30 47.66) rotate(0.03) scale(1.05 1)" class="tk">7</text>
<text transform="translate(575.30 11.10) rotate(0.03) scale(1.05 1)" class="tk">8</text>
<path d="M558.60 263.44H569.70M558.60 226.88H569.70M558.60 190.31H569.70M558.60 153.75H569.70M558.60 117.19H569.70M558.60 80.62H569.70M558.60 44.06H569.70" stroke="#1a0a10" stroke-width="0.8" fill="none"/>
<text transform="translate(596.00 154.25) scale(1.06 0.94) rotate(-90)" text-anchor="middle" class="cl">cAMP concentration <tspan class="gm">γ</tspan></text>
<g clip-path="url(#cpc)">
<rect x="43.5" y="348.7" width="202.5" height="290.00000000000006" fill="#080106"/>
<g filter="url(#bl)">
<rect x="40.5" y="566.3" width="208.5" height="4.5" fill="#1a0416"/>
<rect x="40.5" y="570.4" width="208.5" height="72.30000000000007" fill="#340a42"/>
<rect x="40.5" y="570.8" width="208.5" height="3.4" fill="#3e1662"/>
<path d="M201.33 353.70H249.0" stroke="#6a40e8" stroke-width="2.1"/>
<path d="M202.33 358.30H249.0" stroke="#5228b0" stroke-width="1.5"/>
<path d="M249.0 356.10H201.33" stroke="#dc1836" stroke-width="2.9" fill="none"/>
<path d="M193.23 368.70H249.0" stroke="#6a40e8" stroke-width="2.1"/>
<path d="M194.23 373.30H249.0" stroke="#5228b0" stroke-width="1.5"/>
<path d="M249.0 371.10H193.23" stroke="#dc1836" stroke-width="2.9" fill="none"/>
<path d="M185.13 383.70H249.0" stroke="#6a40e8" stroke-width="2.1"/>
<path d="M186.13 388.30H249.0" stroke="#5228b0" stroke-width="1.5"/>
<path d="M249.0 386.10H185.13" stroke="#dc1836" stroke-width="2.9" fill="none"/>
<path d="M177.03 398.70H249.0" stroke="#6a40e8" stroke-width="2.1"/>
<path d="M178.03 403.30H249.0" stroke="#5228b0" stroke-width="1.5"/>
<path d="M249.0 401.10H177.03" stroke="#dc1836" stroke-width="2.9" fill="none"/>
<path d="M168.93 413.70H249.0" stroke="#6a40e8" stroke-width="2.1"/>
<path d="M169.93 418.30H249.0" stroke="#5228b0" stroke-width="1.5"/>
<path d="M249.0 416.10H168.93" stroke="#dc1836" stroke-width="2.9" fill="none"/>
<path d="M160.83 428.70H249.0" stroke="#6a40e8" stroke-width="2.1"/>
<path d="M161.83 433.30H249.0" stroke="#5228b0" stroke-width="1.5"/>
<path d="M249.0 431.10H160.83" stroke="#dc1836" stroke-width="2.9" fill="none"/>
<path d="M152.73 443.70H249.0" stroke="#6a40e8" stroke-width="2.1"/>
<path d="M153.73 448.30H249.0" stroke="#5228b0" stroke-width="1.5"/>
<path d="M249.0 446.10H152.73" stroke="#dc1836" stroke-width="2.9" fill="none"/>
<path d="M144.63 458.70H249.0" stroke="#6a40e8" stroke-width="2.1"/>
<path d="M145.63 463.30H249.0" stroke="#5228b0" stroke-width="1.5"/>
<path d="M249.0 461.10H144.63" stroke="#dc1836" stroke-width="2.9" fill="none"/>
<path d="M136.53 473.70H249.0" stroke="#6a40e8" stroke-width="2.1"/>
<path d="M137.53 478.30H249.0" stroke="#5228b0" stroke-width="1.5"/>
<path d="M249.0 476.10H136.53" stroke="#dc1836" stroke-width="2.9" fill="none"/>
<path d="M128.43 488.70H249.0" stroke="#6a40e8" stroke-width="2.1"/>
<path d="M129.43 493.30H249.0" stroke="#5228b0" stroke-width="1.5"/>
<path d="M249.0 491.10H128.43" stroke="#dc1836" stroke-width="2.9" fill="none"/>
<path d="M120.33 503.70H249.0" stroke="#6a40e8" stroke-width="2.1"/>
<path d="M121.33 508.30H249.0" stroke="#5228b0" stroke-width="1.5"/>
<path d="M249.0 506.10H120.33" stroke="#dc1836" stroke-width="2.9" fill="none"/>
<path d="M112.23 518.70H249.0" stroke="#6a40e8" stroke-width="2.1"/>
<path d="M113.23 523.30H249.0" stroke="#5228b0" stroke-width="1.5"/>
<path d="M249.0 521.10H112.23" stroke="#dc1836" stroke-width="2.9" fill="none"/>
<path d="M104.13 533.70H249.0" stroke="#6a40e8" stroke-width="2.1"/>
<path d="M105.13 538.30H249.0" stroke="#5228b0" stroke-width="1.5"/>
<path d="M249.0 536.10H104.13" stroke="#dc1836" stroke-width="2.9" fill="none"/>
<path d="M96.03 548.70H249.0" stroke="#6a40e8" stroke-width="2.1"/>
<path d="M97.03 553.30H249.0" stroke="#5228b0" stroke-width="1.5"/>
<path d="M249.0 551.10H96.03" stroke="#dc1836" stroke-width="2.9" fill="none"/>
<path d="M84.43 564.30H249.0" stroke="#40209a" stroke-width="4.2"/>
<path d="M84.43 564.30H249.0" stroke="#6642e6" stroke-width="2.6"/>
</g>
<g clip-path="url(#wc)"><g filter="url(#bl)">
<rect x="43.5" y="344.7" width="202.5" height="298.00000000000006" fill="#080106"/>
<path d="M-298.3 631.0L-58.0 342.7M-293.6 631.0L-53.3 342.7M-288.9 631.0L-48.6 342.7M-284.2 631.0L-43.9 342.7M-279.5 631.0L-39.2 342.7M-274.8 631.0L-34.5 342.7M-270.1 631.0L-29.8 342.7M-265.4 631.0L-25.1 342.7M-260.7 631.0L-20.4 342.7M-256.0 631.0L-15.7 342.7M-251.3 631.0L-11.0 342.7M-246.6 631.0L-6.3 342.7M-241.9 631.0L-1.6 342.7M-237.2 631.0L3.1 342.7M-232.5 631.0L7.8 342.7M-227.8 631.0L12.5 342.7M-223.1 631.0L17.2 342.7M-218.4 631.0L21.9 342.7M-213.7 631.0L26.6 342.7M-209.0 631.0L31.3 342.7M-204.3 631.0L36.0 342.7M-199.6 631.0L40.7 342.7M-194.9 631.0L45.4 342.7M-190.2 631.0L50.1 342.7M-185.5 631.0L54.8 342.7M-180.8 631.0L59.5 342.7M-176.1 631.0L64.2 342.7M-171.4 631.0L68.9 342.7M-166.7 631.0L73.6 342.7M-162.0 631.0L78.3 342.7M-157.3 631.0L83.0 342.7M-152.6 631.0L87.7 342.7M-147.9 631.0L92.4 342.7M-143.2 631.0L97.1 342.7M-138.5 631.0L101.8 342.7M-133.8 631.0L106.5 342.7M-129.1 631.0L111.2 342.7M-124.4 631.0L115.9 342.7M-119.7 631.0L120.6 342.7M-115.0 631.0L125.3 342.7M-110.3 631.0L130.0 342.7M-105.6 631.0L134.7 342.7M-100.9 631.0L139.4 342.7M-96.2 631.0L144.1 342.7M-91.5 631.0L148.8 342.7M-86.8 631.0L153.5 342.7M-82.1 631.0L158.2 342.7M-77.4 631.0L162.9 342.7M-72.7 631.0L167.6 342.7M-68.0 631.0L172.3 342.7M-63.3 631.0L177.0 342.7M-58.6 631.0L181.7 342.7M-53.9 631.0L186.4 342.7M-49.2 631.0L191.1 342.7M-44.5 631.0L195.8 342.7M-39.8 631.0L200.5 342.7M-35.1 631.0L205.2 342.7M-30.4 631.0L209.9 342.7M-25.7 631.0L214.6 342.7M-21.0 631.0L219.3 342.7M-16.3 631.0L224.0 342.7M-11.6 631.0L228.7 342.7M-6.9 631.0L233.4 342.7M-2.2 631.0L238.1 342.7M2.5 631.0L242.8 342.7M7.2 631.0L247.5 342.7M11.9 631.0L252.2 342.7M16.6 631.0L256.9 342.7M21.3 631.0L261.6 342.7M26.0 631.0L266.3 342.7M30.7 631.0L271.0 342.7M35.4 631.0L275.7 342.7M40.1 631.0L280.4 342.7M44.8 631.0L285.1 342.7M49.5 631.0L289.8 342.7M54.2 631.0L294.5 342.7M58.9 631.0L299.2 342.7M63.6 631.0L303.9 342.7M68.3 631.0L308.6 342.7M73.0 631.0L313.3 342.7M77.7 631.0L318.0 342.7M82.4 631.0L322.7 342.7M87.1 631.0L327.4 342.7M91.8 631.0L332.1 342.7M96.5 631.0L336.8 342.7M101.2 631.0L341.5 342.7M105.9 631.0L346.2 342.7M110.6 631.0L350.9 342.7M115.3 631.0L355.6 342.7M120.0 631.0L360.3 342.7M124.7 631.0L365.0 342.7M129.4 631.0L369.7 342.7M134.1 631.0L374.4 342.7M138.8 631.0L379.1 342.7M143.5 631.0L383.8 342.7M148.2 631.0L388.5 342.7M152.9 631.0L393.2 342.7M157.6 631.0L397.9 342.7M162.3 631.0L402.6 342.7M167.0 631.0L407.3 342.7M171.7 631.0L412.0 342.7M176.4 631.0L416.7 342.7M181.1 631.0L421.4 342.7M185.8 631.0L426.1 342.7M190.5 631.0L430.8 342.7M195.2 631.0L435.5 342.7M199.9 631.0L440.2 342.7M204.6 631.0L444.9 342.7M209.3 631.0L449.6 342.7M214.0 631.0L454.3 342.7" fill="none" stroke="#6a45e8" stroke-width="2.0" clip-path="url(#wcb)"/>
<path d="M51.2 347.9L58.2 342.4M51.2 353.8L65.7 342.3M51.2 359.7L72.7 342.7M51.2 365.5L80.2 342.6M51.2 371.4L87.7 342.5M51.2 377.2L95.2 342.4M51.2 383.1L102.7 342.4M51.2 388.9L109.7 342.7M51.2 394.8L117.2 342.6M51.2 400.6L124.7 342.5M51.2 406.4L132.2 342.5M51.2 412.3L139.7 342.4M51.2 418.1L147.2 342.3M51.2 424.0L154.2 342.6M51.2 429.9L161.7 342.6M51.2 435.7L169.2 342.5M51.2 441.6L176.7 342.4M51.2 447.4L184.2 342.3M51.2 453.2L191.2 342.7M51.2 459.1L195.2 345.3M51.2 464.9L189.7 355.5M51.2 470.8L184.2 365.7M51.2 476.6L178.7 375.9M51.2 482.5L173.2 386.1M51.2 488.4L167.2 396.7M51.2 494.2L161.7 406.9M51.2 500.1L156.2 417.1M51.2 505.9L150.7 427.3M51.2 511.8L145.2 437.5M51.2 517.6L139.7 447.7M51.2 523.5L134.2 457.9M51.2 529.3L128.7 468.1M51.2 535.1L123.2 478.3M51.2 541.0L117.7 488.5M51.2 546.9L112.2 498.7M51.2 552.7L106.7 508.9M51.2 558.5L101.2 519.1M51.2 564.4L95.7 529.2M51.2 570.2L90.2 539.4M51.2 576.1L84.7 549.6M51.2 582.0L79.2 559.8M51.2 587.8L74.2 569.6M51.2 593.6L69.2 579.4M51.2 599.5L64.2 589.2M51.2 605.4L59.2 599.0M51.2 611.2L54.2 608.8" fill="none" stroke="#6434dc" stroke-width="2.95" stroke-linecap="round"/>
<path d="M51.2 347.9L58.2 342.4M51.2 353.8L65.7 342.3M51.2 359.7L72.7 342.7M51.2 365.5L80.2 342.6M51.2 371.4L87.7 342.5M51.2 377.2L95.2 342.4M51.2 383.1L102.7 342.4M51.2 388.9L109.7 342.7M51.2 394.8L117.2 342.6M51.2 400.6L124.7 342.5M51.2 406.4L132.2 342.5M51.2 412.3L139.7 342.4M51.2 418.1L147.2 342.3M51.2 424.0L154.2 342.6M51.2 429.9L161.7 342.6M51.2 435.7L169.2 342.5M51.2 441.6L176.7 342.4M51.2 447.4L184.2 342.3M51.2 453.2L191.2 342.7M51.2 459.1L195.2 345.3M51.2 464.9L189.7 355.5M51.2 470.8L184.2 365.7M51.2 476.6L178.7 375.9M51.2 482.5L173.2 386.1M51.2 488.4L167.2 396.7M51.2 494.2L161.7 406.9M51.2 500.1L156.2 417.1M51.2 505.9L150.7 427.3M51.2 511.8L145.2 437.5M51.2 517.6L139.7 447.7M51.2 523.5L134.2 457.9M51.2 529.3L128.7 468.1M51.2 535.1L123.2 478.3M51.2 541.0L117.7 488.5M51.2 546.9L112.2 498.7M51.2 552.7L106.7 508.9M51.2 558.5L101.2 519.1M51.2 564.4L95.7 529.2M51.2 570.2L90.2 539.4M51.2 576.1L84.7 549.6M51.2 582.0L79.2 559.8M51.2 587.8L74.2 569.6M51.2 593.6L69.2 579.4M51.2 599.5L64.2 589.2M51.2 605.4L59.2 599.0M51.2 611.2L54.2 608.8" fill="none" stroke="#c0188a" stroke-width="1.6"/>
<path d="M51.2 347.9L58.2 342.4M51.2 353.8L65.7 342.3M51.2 359.7L72.7 342.7M51.2 365.5L80.2 342.6M51.2 371.4L87.7 342.5M51.2 377.2L95.2 342.4M51.2 383.1L102.7 342.4M51.2 388.9L109.7 342.7M51.2 394.8L117.2 342.6M51.2 400.6L124.7 342.5M51.2 406.4L132.2 342.5M51.2 412.3L139.7 342.4M51.2 418.1L147.2 342.3M51.2 424.0L154.2 342.6M51.2 429.9L161.7 342.6M51.2 435.7L169.2 342.5M51.2 441.6L176.7 342.4M51.2 447.4L184.2 342.3M51.2 453.2L191.2 342.7M51.2 459.1L195.2 345.3M51.2 464.9L189.7 355.5M51.2 470.8L184.2 365.7M51.2 476.6L178.7 375.9M51.2 482.5L173.2 386.1M51.2 488.4L167.2 396.7M51.2 494.2L161.7 406.9M51.2 500.1L156.2 417.1M51.2 505.9L150.7 427.3M51.2 511.8L145.2 437.5M51.2 517.6L139.7 447.7M51.2 523.5L134.2 457.9M51.2 529.3L128.7 468.1M51.2 535.1L123.2 478.3M51.2 541.0L117.7 488.5M51.2 546.9L112.2 498.7M51.2 552.7L106.7 508.9M51.2 558.5L101.2 519.1M51.2 564.4L95.7 529.2M51.2 570.2L90.2 539.4M51.2 576.1L84.7 549.6M51.2 582.0L79.2 559.8M51.2 587.8L74.2 569.6M51.2 593.6L69.2 579.4M51.2 599.5L64.2 589.2M51.2 605.4L59.2 599.0M51.2 611.2L54.2 608.8" fill="none" stroke="#e81840" stroke-width="0.9" stroke-dasharray="1.6 1.6"/>
<path d="M96.82 550.0L207.68 344.7" stroke="#e02030" stroke-width="1.7" fill="none"/>
<path d="M45.50 626.0L89.60 563.0" stroke="#5a30c8" stroke-width="1.2" fill="none"/>
<path d="M49.0 341.00L51.0 348.40L52.5 347.60" fill="none" stroke="#7a3ad8" stroke-width="1.7" stroke-linejoin="round" stroke-linecap="round"/>
<path d="M47.6 349.70L50.3 359.90L52.5 358.70" fill="none" stroke="#8a38d0" stroke-width="2.0" stroke-linejoin="round" stroke-linecap="round"/>
<circle cx="50.6" cy="359.50" r="1.25" fill="#f02048"/>
<path d="M49.0 364.40L51.0 371.80L52.5 371.00" fill="none" stroke="#7a3ad8" stroke-width="1.7" stroke-linejoin="round" stroke-linecap="round"/>
<path d="M47.6 373.10L50.3 383.30L52.5 382.10" fill="none" stroke="#8a38d0" stroke-width="2.0" stroke-linejoin="round" stroke-linecap="round"/>
<circle cx="50.6" cy="382.90" r="1.25" fill="#f02048"/>
<path d="M49.0 387.80L51.0 395.20L52.5 394.40" fill="none" stroke="#7a3ad8" stroke-width="1.7" stroke-linejoin="round" stroke-linecap="round"/>
<path d="M47.6 396.50L50.3 406.70L52.5 405.50" fill="none" stroke="#8a38d0" stroke-width="2.0" stroke-linejoin="round" stroke-linecap="round"/>
<circle cx="50.6" cy="406.30" r="1.25" fill="#f02048"/>
<path d="M49.0 411.20L51.0 418.60L52.5 417.80" fill="none" stroke="#7a3ad8" stroke-width="1.7" stroke-linejoin="round" stroke-linecap="round"/>
<path d="M47.6 419.90L50.3 430.10L52.5 428.90" fill="none" stroke="#8a38d0" stroke-width="2.0" stroke-linejoin="round" stroke-linecap="round"/>
<circle cx="50.6" cy="429.70" r="1.25" fill="#f02048"/>
<path d="M49.0 434.60L51.0 442.00L52.5 441.20" fill="none" stroke="#7a3ad8" stroke-width="1.7" stroke-linejoin="round" stroke-linecap="round"/>
<path d="M47.6 443.30L50.3 453.50L52.5 452.30" fill="none" stroke="#8a38d0" stroke-width="2.0" stroke-linejoin="round" stroke-linecap="round"/>
<circle cx="50.6" cy="453.10" r="1.25" fill="#f02048"/>
<path d="M49.0 458.00L51.0 465.40L52.5 464.60" fill="none" stroke="#7a3ad8" stroke-width="1.7" stroke-linejoin="round" stroke-linecap="round"/>
<path d="M47.6 466.70L50.3 476.90L52.5 475.70" fill="none" stroke="#8a38d0" stroke-width="2.0" stroke-linejoin="round" stroke-linecap="round"/>
<circle cx="50.6" cy="476.50" r="1.25" fill="#f02048"/>
<path d="M49.0 481.40L51.0 488.80L52.5 488.00" fill="none" stroke="#7a3ad8" stroke-width="1.7" stroke-linejoin="round" stroke-linecap="round"/>
<path d="M47.6 490.10L50.3 500.30L52.5 499.10" fill="none" stroke="#8a38d0" stroke-width="2.0" stroke-linejoin="round" stroke-linecap="round"/>
<circle cx="50.6" cy="499.90" r="1.25" fill="#f02048"/>
<path d="M49.0 504.80L51.0 512.20L52.5 511.40" fill="none" stroke="#7a3ad8" stroke-width="1.7" stroke-linejoin="round" stroke-linecap="round"/>
<path d="M47.6 513.50L50.3 523.70L52.5 522.50" fill="none" stroke="#8a38d0" stroke-width="2.0" stroke-linejoin="round" stroke-linecap="round"/>
<circle cx="50.6" cy="523.30" r="1.25" fill="#f02048"/>
<path d="M49.0 528.20L51.0 535.60L52.5 534.80" fill="none" stroke="#7a3ad8" stroke-width="1.7" stroke-linejoin="round" stroke-linecap="round"/>
<path d="M47.6 536.90L50.3 547.10L52.5 545.90" fill="none" stroke="#8a38d0" stroke-width="2.0" stroke-linejoin="round" stroke-linecap="round"/>
<circle cx="50.6" cy="546.70" r="1.25" fill="#f02048"/>
<path d="M49.0 551.60L51.0 559.00L52.5 558.20" fill="none" stroke="#7a3ad8" stroke-width="1.7" stroke-linejoin="round" stroke-linecap="round"/>
<path d="M47.6 560.30L50.3 570.50L52.5 569.30" fill="none" stroke="#8a38d0" stroke-width="2.0" stroke-linejoin="round" stroke-linecap="round"/>
<circle cx="50.6" cy="570.10" r="1.25" fill="#f02048"/>
<path d="M49.0 575.00L51.0 582.40L52.5 581.60" fill="none" stroke="#7a3ad8" stroke-width="1.7" stroke-linejoin="round" stroke-linecap="round"/>
<path d="M47.6 583.70L50.3 593.90L52.5 592.70" fill="none" stroke="#8a38d0" stroke-width="2.0" stroke-linejoin="round" stroke-linecap="round"/>
<circle cx="50.6" cy="593.50" r="1.25" fill="#f02048"/>
<path d="M49.0 598.40L51.0 605.80L52.5 605.00" fill="none" stroke="#7a3ad8" stroke-width="1.7" stroke-linejoin="round" stroke-linecap="round"/>
<path d="M47.6 607.10L50.3 617.30L52.5 616.10" fill="none" stroke="#8a38d0" stroke-width="2.0" stroke-linejoin="round" stroke-linecap="round"/>
<circle cx="50.6" cy="616.90" r="1.25" fill="#f02048"/>
</g></g>
<path d="M45.0 637.7L46.5 627.0L54.5 616.0" stroke="#4a2490" stroke-width="2.2" fill="none" opacity="0.55" filter="url(#bl2)"/>
<polygon points="42.5,348.7 47.2,348.7 47.2,620.0 44.0,637.7 42.5,638.7" fill="#000" filter="url(#bl)"/>
</g>
<rect x="44.00" y="349.20" width="201.50" height="289.00" fill="none" stroke="#000" stroke-width="1"/>
<path d="M70.50 638.70v-6.6M70.50 348.70v6.6M97.50 638.70v-6.6M97.50 348.70v6.6M124.50 638.70v-6.6M124.50 348.70v6.6M151.50 638.70v-6.6M151.50 348.70v6.6M178.50 638.70v-6.6M178.50 348.70v6.6M205.50 638.70v-6.6M205.50 348.70v6.6M232.50 638.70v-6.6M232.50 348.70v6.6M43.50 580.70h6.6M246.00 580.70h-6.6M43.50 522.70h6.6M246.00 522.70h-6.6M43.50 464.70h6.6M246.00 464.70h-6.6M43.50 406.70h6.6M246.00 406.70h-6.6" stroke="#0a0418" stroke-width="1.1" fill="none"/>
<text transform="translate(45.20 652.60) rotate(0.03) scale(1.05 1)" text-anchor="middle" class="tk">0</text>
<text transform="translate(72.20 652.60) rotate(0.03) scale(1.05 1)" text-anchor="middle" class="tk">20</text>
<text transform="translate(99.20 652.60) rotate(0.03) scale(1.05 1)" text-anchor="middle" class="tk">40</text>
<text transform="translate(126.20 652.60) rotate(0.03) scale(1.05 1)" text-anchor="middle" class="tk">60</text>
<text transform="translate(153.20 652.60) rotate(0.03) scale(1.05 1)" text-anchor="middle" class="tk">80</text>
<text transform="translate(180.20 652.60) rotate(0.03) scale(1.05 1)" text-anchor="middle" class="tk">100</text>
<text transform="translate(207.20 652.60) rotate(0.03) scale(1.05 1)" text-anchor="middle" class="tk">120</text>
<text transform="translate(234.20 652.60) rotate(0.03) scale(1.05 1)" text-anchor="middle" class="tk">140</text>
<text transform="translate(38.30 642.30) rotate(0.03) scale(1.05 1)" text-anchor="end" class="tk">0</text>
<text transform="translate(38.30 584.30) rotate(0.03) scale(1.05 1)" text-anchor="end" class="tk">20</text>
<text transform="translate(38.30 526.30) rotate(0.03) scale(1.05 1)" text-anchor="end" class="tk">40</text>
<text transform="translate(38.30 468.30) rotate(0.03) scale(1.05 1)" text-anchor="end" class="tk">60</text>
<text transform="translate(38.30 410.30) rotate(0.03) scale(1.05 1)" text-anchor="end" class="tk">80</text>
<text transform="translate(38.30 352.30) rotate(0.03) scale(1.05 1)" text-anchor="end" class="tk">100</text>
<text transform="translate(144.15 669.20) rotate(0.03) scale(1 0.95)" text-anchor="middle" class="ax"><tspan class="it">x</tspan>(mm)</text>
<text transform="translate(16.70 493.70) scale(1.03 0.97) rotate(-90)" text-anchor="middle" class="ax2"><tspan class="it">t</tspan>(min)</text>
<text transform="translate(237.50 620.60) rotate(0.03)" text-anchor="end" class="lt">(c)</text>
<rect x="250.40" y="348.70" width="10.50" height="290.00" fill="url(#cb)"/>
<rect x="250.80" y="349.10" width="9.70" height="289.20" fill="none" stroke="#2a1a20" stroke-width="0.8"/>
<text transform="translate(267.80 642.30) rotate(0.03) scale(1.05 1)" class="tk">0</text>
<text transform="translate(267.80 610.08) rotate(0.03) scale(1.05 1)" class="tk">1</text>
<text transform="translate(267.80 577.86) rotate(0.03) scale(1.05 1)" class="tk">2</text>
<text transform="translate(267.80 545.63) rotate(0.03) scale(1.05 1)" class="tk">3</text>
<text transform="translate(267.80 513.41) rotate(0.03) scale(1.05 1)" class="tk">4</text>
<text transform="translate(267.80 481.19) rotate(0.03) scale(1.05 1)" class="tk">5</text>
<text transform="translate(267.80 448.97) rotate(0.03) scale(1.05 1)" class="tk">6</text>
<text transform="translate(267.80 416.74) rotate(0.03) scale(1.05 1)" class="tk">7</text>
<text transform="translate(267.80 384.52) rotate(0.03) scale(1.05 1)" class="tk">8</text>
<text transform="translate(267.80 352.30) rotate(0.03) scale(1.05 1)" class="tk">9</text>
<path d="M250.40 606.48H260.90M250.40 574.26H260.90M250.40 542.03H260.90M250.40 509.81H260.90M250.40 477.59H260.90M250.40 445.37H260.90M250.40 413.14H260.90M250.40 380.92H260.90" stroke="#1a0a10" stroke-width="0.8" fill="none"/>
<text transform="translate(288.20 494.20) scale(1.06 0.94) rotate(-90)" text-anchor="middle" class="cl">cAMP concentration <tspan class="gm">γ</tspan></text>
<g clip-path="url(#cpd)">
<rect x="352.0" y="347.3" width="203.39999999999998" height="290.99999999999994" fill="#070104"/>
<path d="M356.00 636.20Q357.20 633.20 361.50 631.00L555.40 470.25" stroke="#5a36d0" stroke-width="3.0" stroke-linecap="round" fill="none" filter="url(#bl)"/>
<path d="M356.00 636.20Q357.20 633.20 361.50 631.00L555.40 470.25" stroke="#d01a58" stroke-width="1.7" stroke-linecap="round" fill="none" transform="translate(0.15 0.3)" filter="url(#bl)"/>
<path d="M356.00 636.20Q357.20 633.20 361.50 631.00L555.40 470.25" stroke="#f01830" stroke-width="1.0" stroke-dasharray="1.5 1.5" fill="none" transform="translate(0.15 0.3)"/>
</g>
<rect x="352.50" y="347.80" width="202.40" height="290.00" fill="none" stroke="#000" stroke-width="1"/>
<path d="M379.12 638.30v-6.6M379.12 347.30v6.6M406.24 638.30v-6.6M406.24 347.30v6.6M433.36 638.30v-6.6M433.36 347.30v6.6M460.48 638.30v-6.6M460.48 347.30v6.6M487.60 638.30v-6.6M487.60 347.30v6.6M514.72 638.30v-6.6M514.72 347.30v6.6M541.84 638.30v-6.6M541.84 347.30v6.6M352.00 580.10h6.6M555.40 580.10h-6.6M352.00 521.90h6.6M555.40 521.90h-6.6M352.00 463.70h6.6M555.40 463.70h-6.6M352.00 405.50h6.6M555.40 405.50h-6.6" stroke="#000" stroke-width="1.1" fill="none"/>
<text transform="translate(353.70 652.40) rotate(0.03) scale(1.05 1)" text-anchor="middle" class="tk">0</text>
<text transform="translate(380.82 652.40) rotate(0.03) scale(1.05 1)" text-anchor="middle" class="tk">20</text>
<text transform="translate(407.94 652.40) rotate(0.03) scale(1.05 1)" text-anchor="middle" class="tk">40</text>
<text transform="translate(435.06 652.40) rotate(0.03) scale(1.05 1)" text-anchor="middle" class="tk">60</text>
<text transform="translate(462.18 652.40) rotate(0.03) scale(1.05 1)" text-anchor="middle" class="tk">80</text>
<text transform="translate(489.30 652.40) rotate(0.03) scale(1.05 1)" text-anchor="middle" class="tk">100</text>
<text transform="translate(516.42 652.40) rotate(0.03) scale(1.05 1)" text-anchor="middle" class="tk">120</text>
<text transform="translate(543.54 652.40) rotate(0.03) scale(1.05 1)" text-anchor="middle" class="tk">140</text>
<text transform="translate(346.00 641.90) rotate(0.03) scale(1.05 1)" text-anchor="end" class="tk">0</text>
<text transform="translate(346.00 583.70) rotate(0.03) scale(1.05 1)" text-anchor="end" class="tk">20</text>
<text transform="translate(346.00 525.50) rotate(0.03) scale(1.05 1)" text-anchor="end" class="tk">40</text>
<text transform="translate(346.00 467.30) rotate(0.03) scale(1.05 1)" text-anchor="end" class="tk">60</text>
<text transform="translate(346.00 409.10) rotate(0.03) scale(1.05 1)" text-anchor="end" class="tk">80</text>
<text transform="translate(346.00 350.90) rotate(0.03) scale(1.05 1)" text-anchor="end" class="tk">100</text>
<text transform="translate(453.10 668.90) rotate(0.03) scale(1 0.95)" text-anchor="middle" class="ax"><tspan class="it">x</tspan>(mm)</text>
<text transform="translate(323.70 492.80) scale(1.03 0.97) rotate(-90)" text-anchor="middle" class="ax2"><tspan class="it">t</tspan>(min)</text>
<text transform="translate(546.90 620.20) rotate(0.03)" text-anchor="end" class="lt">(d)</text>
<rect x="559.80" y="347.30" width="10.60" height="291.00" fill="url(#cb)"/>
<rect x="560.20" y="347.70" width="9.80" height="290.20" fill="none" stroke="#2a1a20" stroke-width="0.8"/>
<text transform="translate(576.50 641.90) rotate(0.03) scale(1.05 1)" class="tk">0</text>
<text transform="translate(576.50 600.33) rotate(0.03) scale(1.05 1)" class="tk">1</text>
<text transform="translate(576.50 558.76) rotate(0.03) scale(1.05 1)" class="tk">2</text>
<text transform="translate(576.50 517.19) rotate(0.03) scale(1.05 1)" class="tk">3</text>
<text transform="translate(576.50 475.61) rotate(0.03) scale(1.05 1)" class="tk">4</text>
<text transform="translate(576.50 434.04) rotate(0.03) scale(1.05 1)" class="tk">5</text>
<text transform="translate(576.50 392.47) rotate(0.03) scale(1.05 1)" class="tk">6</text>
<text transform="translate(576.50 350.90) rotate(0.03) scale(1.05 1)" class="tk">7</text>
<path d="M559.80 596.73H570.40M559.80 555.16H570.40M559.80 513.59H570.40M559.80 472.01H570.40M559.80 430.44H570.40M559.80 388.87H570.40" stroke="#1a0a10" stroke-width="0.8" fill="none"/>
<text transform="translate(595.70 493.30) scale(1.06 0.94) rotate(-90)" text-anchor="middle" class="cl">cAMP concentration <tspan class="gm">γ</tspan></text>
</svg>
</body></html>
